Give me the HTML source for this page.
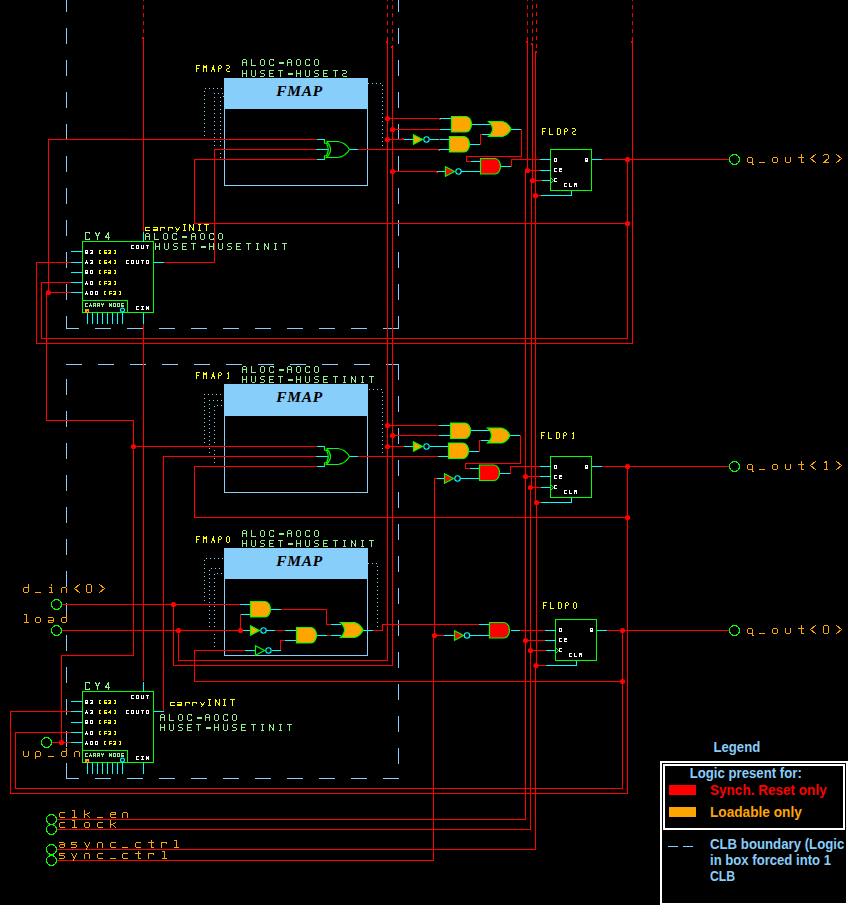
<!DOCTYPE html>
<html><head><meta charset="utf-8"><title>schematic</title>
<style>
html,body{margin:0;padding:0;background:#000;}
body{width:848px;height:905px;overflow:hidden;position:relative;font-family:"Liberation Sans",sans-serif;}
svg{position:absolute;left:0;top:0;display:block;}
.leg text{font-family:"Liberation Sans",sans-serif;font-weight:bold;font-size:14px;}
.fm text{font-family:"Liberation Serif",serif;font-weight:bold;font-style:italic;font-size:15.5px;fill:#000;letter-spacing:0.7px;}
</style></head><body>
<svg width="848" height="905" viewBox="0 0 848 905">
<rect width="848" height="905" fill="#000"/>
<g shape-rendering="crispEdges" fill="none" stroke-width="1">
<line x1="66.5" y1="-4" x2="66.5" y2="12" stroke="#87cefa" stroke-width="1"/>
<line x1="66.5" y1="28" x2="66.5" y2="44" stroke="#87cefa" stroke-width="1"/>
<line x1="66.5" y1="60" x2="66.5" y2="76" stroke="#87cefa" stroke-width="1"/>
<line x1="66.5" y1="92" x2="66.5" y2="108" stroke="#87cefa" stroke-width="1"/>
<line x1="66.5" y1="124" x2="66.5" y2="140" stroke="#87cefa" stroke-width="1"/>
<line x1="66.5" y1="156" x2="66.5" y2="172" stroke="#87cefa" stroke-width="1"/>
<line x1="66.5" y1="188" x2="66.5" y2="204" stroke="#87cefa" stroke-width="1"/>
<line x1="66.5" y1="220" x2="66.5" y2="236" stroke="#87cefa" stroke-width="1"/>
<line x1="66.5" y1="252" x2="66.5" y2="268" stroke="#87cefa" stroke-width="1"/>
<line x1="66.5" y1="284" x2="66.5" y2="300" stroke="#87cefa" stroke-width="1"/>
<line x1="66.5" y1="316" x2="66.5" y2="329" stroke="#87cefa" stroke-width="1"/>
<line x1="398.5" y1="-4" x2="398.5" y2="12" stroke="#87cefa" stroke-width="1"/>
<line x1="398.5" y1="28" x2="398.5" y2="44" stroke="#87cefa" stroke-width="1"/>
<line x1="398.5" y1="60" x2="398.5" y2="76" stroke="#87cefa" stroke-width="1"/>
<line x1="398.5" y1="92" x2="398.5" y2="108" stroke="#87cefa" stroke-width="1"/>
<line x1="398.5" y1="124" x2="398.5" y2="140" stroke="#87cefa" stroke-width="1"/>
<line x1="398.5" y1="156" x2="398.5" y2="172" stroke="#87cefa" stroke-width="1"/>
<line x1="398.5" y1="188" x2="398.5" y2="204" stroke="#87cefa" stroke-width="1"/>
<line x1="398.5" y1="220" x2="398.5" y2="236" stroke="#87cefa" stroke-width="1"/>
<line x1="398.5" y1="252" x2="398.5" y2="268" stroke="#87cefa" stroke-width="1"/>
<line x1="398.5" y1="284" x2="398.5" y2="300" stroke="#87cefa" stroke-width="1"/>
<line x1="398.5" y1="316" x2="398.5" y2="329" stroke="#87cefa" stroke-width="1"/>
<line x1="66" y1="328.5" x2="79" y2="328.5" stroke="#87cefa" stroke-width="1"/>
<line x1="94.5" y1="328.5" x2="110.5" y2="328.5" stroke="#87cefa" stroke-width="1"/>
<line x1="126.5" y1="328.5" x2="142.5" y2="328.5" stroke="#87cefa" stroke-width="1"/>
<line x1="158.5" y1="328.5" x2="174.5" y2="328.5" stroke="#87cefa" stroke-width="1"/>
<line x1="190.5" y1="328.5" x2="206.5" y2="328.5" stroke="#87cefa" stroke-width="1"/>
<line x1="222.5" y1="328.5" x2="238.5" y2="328.5" stroke="#87cefa" stroke-width="1"/>
<line x1="254.5" y1="328.5" x2="270.5" y2="328.5" stroke="#87cefa" stroke-width="1"/>
<line x1="286.5" y1="328.5" x2="302.5" y2="328.5" stroke="#87cefa" stroke-width="1"/>
<line x1="318.5" y1="328.5" x2="334.5" y2="328.5" stroke="#87cefa" stroke-width="1"/>
<line x1="350.5" y1="328.5" x2="366.5" y2="328.5" stroke="#87cefa" stroke-width="1"/>
<line x1="382.5" y1="328.5" x2="398.5" y2="328.5" stroke="#87cefa" stroke-width="1"/>
<line x1="66" y1="364.5" x2="82" y2="364.5" stroke="#87cefa" stroke-width="1"/>
<line x1="98" y1="364.5" x2="114" y2="364.5" stroke="#87cefa" stroke-width="1"/>
<line x1="130" y1="364.5" x2="146" y2="364.5" stroke="#87cefa" stroke-width="1"/>
<line x1="162" y1="364.5" x2="178" y2="364.5" stroke="#87cefa" stroke-width="1"/>
<line x1="194" y1="364.5" x2="210" y2="364.5" stroke="#87cefa" stroke-width="1"/>
<line x1="226" y1="364.5" x2="242" y2="364.5" stroke="#87cefa" stroke-width="1"/>
<line x1="258" y1="364.5" x2="274" y2="364.5" stroke="#87cefa" stroke-width="1"/>
<line x1="290" y1="364.5" x2="306" y2="364.5" stroke="#87cefa" stroke-width="1"/>
<line x1="322" y1="364.5" x2="338" y2="364.5" stroke="#87cefa" stroke-width="1"/>
<line x1="354" y1="364.5" x2="370" y2="364.5" stroke="#87cefa" stroke-width="1"/>
<line x1="386" y1="364.5" x2="399" y2="364.5" stroke="#87cefa" stroke-width="1"/>
<line x1="398.5" y1="364" x2="398.5" y2="380" stroke="#87cefa" stroke-width="1"/>
<line x1="398.5" y1="396" x2="398.5" y2="412" stroke="#87cefa" stroke-width="1"/>
<line x1="398.5" y1="428" x2="398.5" y2="444" stroke="#87cefa" stroke-width="1"/>
<line x1="398.5" y1="460" x2="398.5" y2="476" stroke="#87cefa" stroke-width="1"/>
<line x1="398.5" y1="492" x2="398.5" y2="508" stroke="#87cefa" stroke-width="1"/>
<line x1="398.5" y1="524" x2="398.5" y2="540" stroke="#87cefa" stroke-width="1"/>
<line x1="398.5" y1="556" x2="398.5" y2="572" stroke="#87cefa" stroke-width="1"/>
<line x1="398.5" y1="588" x2="398.5" y2="604" stroke="#87cefa" stroke-width="1"/>
<line x1="398.5" y1="620" x2="398.5" y2="636" stroke="#87cefa" stroke-width="1"/>
<line x1="398.5" y1="652" x2="398.5" y2="668" stroke="#87cefa" stroke-width="1"/>
<line x1="398.5" y1="684" x2="398.5" y2="700" stroke="#87cefa" stroke-width="1"/>
<line x1="398.5" y1="716" x2="398.5" y2="732" stroke="#87cefa" stroke-width="1"/>
<line x1="398.5" y1="748" x2="398.5" y2="764" stroke="#87cefa" stroke-width="1"/>
<line x1="66" y1="778.5" x2="79" y2="778.5" stroke="#87cefa" stroke-width="1"/>
<line x1="94.5" y1="778.5" x2="110.5" y2="778.5" stroke="#87cefa" stroke-width="1"/>
<line x1="126.5" y1="778.5" x2="142.5" y2="778.5" stroke="#87cefa" stroke-width="1"/>
<line x1="158.5" y1="778.5" x2="174.5" y2="778.5" stroke="#87cefa" stroke-width="1"/>
<line x1="190.5" y1="778.5" x2="206.5" y2="778.5" stroke="#87cefa" stroke-width="1"/>
<line x1="222.5" y1="778.5" x2="238.5" y2="778.5" stroke="#87cefa" stroke-width="1"/>
<line x1="254.5" y1="778.5" x2="270.5" y2="778.5" stroke="#87cefa" stroke-width="1"/>
<line x1="286.5" y1="778.5" x2="302.5" y2="778.5" stroke="#87cefa" stroke-width="1"/>
<line x1="318.5" y1="778.5" x2="334.5" y2="778.5" stroke="#87cefa" stroke-width="1"/>
<line x1="350.5" y1="778.5" x2="366.5" y2="778.5" stroke="#87cefa" stroke-width="1"/>
<line x1="382.5" y1="778.5" x2="398.5" y2="778.5" stroke="#87cefa" stroke-width="1"/>
<line x1="66.5" y1="762.5" x2="66.5" y2="778.5" stroke="#87cefa" stroke-width="1"/>
<line x1="66.5" y1="730.5" x2="66.5" y2="746.5" stroke="#87cefa" stroke-width="1"/>
<line x1="66.5" y1="698.5" x2="66.5" y2="714.5" stroke="#87cefa" stroke-width="1"/>
<line x1="66.5" y1="666.5" x2="66.5" y2="682.5" stroke="#87cefa" stroke-width="1"/>
<line x1="66.5" y1="634.5" x2="66.5" y2="650.5" stroke="#87cefa" stroke-width="1"/>
<line x1="66.5" y1="602.5" x2="66.5" y2="618.5" stroke="#87cefa" stroke-width="1"/>
<line x1="66.5" y1="570.5" x2="66.5" y2="586.5" stroke="#87cefa" stroke-width="1"/>
<line x1="66.5" y1="538.5" x2="66.5" y2="554.5" stroke="#87cefa" stroke-width="1"/>
<line x1="66.5" y1="506.5" x2="66.5" y2="522.5" stroke="#87cefa" stroke-width="1"/>
<line x1="66.5" y1="474.5" x2="66.5" y2="490.5" stroke="#87cefa" stroke-width="1"/>
<line x1="66.5" y1="442.5" x2="66.5" y2="458.5" stroke="#87cefa" stroke-width="1"/>
<line x1="66.5" y1="410.5" x2="66.5" y2="426.5" stroke="#87cefa" stroke-width="1"/>
<line x1="66.5" y1="378.5" x2="66.5" y2="394.5" stroke="#87cefa" stroke-width="1"/>
<rect x="224" y="78" width="144" height="31" fill="#87cefa"/>
<rect x="224.5" y="78.5" width="143" height="107" fill="none" stroke="#87cefa" stroke-width="1"/>
<rect x="224" y="384" width="144" height="32" fill="#87cefa"/>
<rect x="224.5" y="384.5" width="143" height="108" fill="none" stroke="#87cefa" stroke-width="1"/>
<rect x="224" y="548" width="144" height="31" fill="#87cefa"/>
<rect x="224.5" y="548.5" width="143" height="107" fill="none" stroke="#87cefa" stroke-width="1"/>
<rect x="205" y="88" width="1" height="1" fill="#87cefa"/>
<rect x="209" y="88" width="1" height="1" fill="#87cefa"/>
<rect x="213" y="88" width="1" height="1" fill="#87cefa"/>
<rect x="217" y="88" width="1" height="1" fill="#87cefa"/>
<rect x="221" y="88" width="1" height="1" fill="#87cefa"/>
<rect x="204" y="91" width="1" height="1" fill="#87cefa"/>
<rect x="204" y="95" width="1" height="1" fill="#87cefa"/>
<rect x="204" y="99" width="1" height="1" fill="#87cefa"/>
<rect x="204" y="103" width="1" height="1" fill="#87cefa"/>
<rect x="204" y="107" width="1" height="1" fill="#87cefa"/>
<rect x="204" y="111" width="1" height="1" fill="#87cefa"/>
<rect x="204" y="115" width="1" height="1" fill="#87cefa"/>
<rect x="204" y="119" width="1" height="1" fill="#87cefa"/>
<rect x="204" y="123" width="1" height="1" fill="#87cefa"/>
<rect x="204" y="127" width="1" height="1" fill="#87cefa"/>
<rect x="204" y="131" width="1" height="1" fill="#87cefa"/>
<rect x="204" y="135" width="1" height="1" fill="#87cefa"/>
<rect x="204" y="139" width="1" height="1" fill="#87cefa"/>
<rect x="214" y="93" width="1" height="1" fill="#87cefa"/>
<rect x="218" y="93" width="1" height="1" fill="#87cefa"/>
<rect x="222" y="93" width="1" height="1" fill="#87cefa"/>
<rect x="214" y="97" width="1" height="1" fill="#87cefa"/>
<rect x="214" y="101" width="1" height="1" fill="#87cefa"/>
<rect x="214" y="105" width="1" height="1" fill="#87cefa"/>
<rect x="214" y="109" width="1" height="1" fill="#87cefa"/>
<rect x="214" y="113" width="1" height="1" fill="#87cefa"/>
<rect x="214" y="117" width="1" height="1" fill="#87cefa"/>
<rect x="214" y="121" width="1" height="1" fill="#87cefa"/>
<rect x="214" y="125" width="1" height="1" fill="#87cefa"/>
<rect x="214" y="129" width="1" height="1" fill="#87cefa"/>
<rect x="214" y="133" width="1" height="1" fill="#87cefa"/>
<rect x="214" y="137" width="1" height="1" fill="#87cefa"/>
<rect x="214" y="141" width="1" height="1" fill="#87cefa"/>
<rect x="214" y="145" width="1" height="1" fill="#87cefa"/>
<rect x="214" y="149" width="1" height="1" fill="#87cefa"/>
<rect x="223" y="96" width="1" height="1" fill="#87cefa"/>
<rect x="220" y="97" width="1" height="1" fill="#87cefa"/>
<rect x="220" y="101" width="1" height="1" fill="#87cefa"/>
<rect x="220" y="105" width="1" height="1" fill="#87cefa"/>
<rect x="220" y="109" width="1" height="1" fill="#87cefa"/>
<rect x="220" y="113" width="1" height="1" fill="#87cefa"/>
<rect x="220" y="117" width="1" height="1" fill="#87cefa"/>
<rect x="220" y="121" width="1" height="1" fill="#87cefa"/>
<rect x="220" y="125" width="1" height="1" fill="#87cefa"/>
<rect x="220" y="129" width="1" height="1" fill="#87cefa"/>
<rect x="220" y="133" width="1" height="1" fill="#87cefa"/>
<rect x="220" y="137" width="1" height="1" fill="#87cefa"/>
<rect x="220" y="141" width="1" height="1" fill="#87cefa"/>
<rect x="220" y="145" width="1" height="1" fill="#87cefa"/>
<rect x="220" y="149" width="1" height="1" fill="#87cefa"/>
<rect x="220" y="153" width="1" height="1" fill="#87cefa"/>
<rect x="220" y="157" width="1" height="1" fill="#87cefa"/>
<rect x="368" y="83" width="1" height="1" fill="#87cefa"/>
<rect x="372" y="83" width="1" height="1" fill="#87cefa"/>
<rect x="376" y="83" width="1" height="1" fill="#87cefa"/>
<rect x="380" y="83" width="1" height="1" fill="#87cefa"/>
<rect x="382" y="85" width="1" height="1" fill="#87cefa"/>
<rect x="382" y="89" width="1" height="1" fill="#87cefa"/>
<rect x="382" y="93" width="1" height="1" fill="#87cefa"/>
<rect x="382" y="97" width="1" height="1" fill="#87cefa"/>
<rect x="382" y="101" width="1" height="1" fill="#87cefa"/>
<rect x="382" y="105" width="1" height="1" fill="#87cefa"/>
<rect x="382" y="109" width="1" height="1" fill="#87cefa"/>
<rect x="382" y="113" width="1" height="1" fill="#87cefa"/>
<rect x="382" y="117" width="1" height="1" fill="#87cefa"/>
<rect x="382" y="121" width="1" height="1" fill="#87cefa"/>
<rect x="382" y="125" width="1" height="1" fill="#87cefa"/>
<rect x="382" y="129" width="1" height="1" fill="#87cefa"/>
<rect x="382" y="133" width="1" height="1" fill="#87cefa"/>
<rect x="382" y="137" width="1" height="1" fill="#87cefa"/>
<rect x="382" y="141" width="1" height="1" fill="#87cefa"/>
<rect x="382" y="145" width="1" height="1" fill="#87cefa"/>
<rect x="204" y="394" width="1" height="1" fill="#87cefa"/>
<rect x="208" y="394" width="1" height="1" fill="#87cefa"/>
<rect x="212" y="394" width="1" height="1" fill="#87cefa"/>
<rect x="216" y="394" width="1" height="1" fill="#87cefa"/>
<rect x="220" y="394" width="1" height="1" fill="#87cefa"/>
<rect x="204" y="398" width="1" height="1" fill="#87cefa"/>
<rect x="204" y="402" width="1" height="1" fill="#87cefa"/>
<rect x="204" y="406" width="1" height="1" fill="#87cefa"/>
<rect x="204" y="410" width="1" height="1" fill="#87cefa"/>
<rect x="204" y="414" width="1" height="1" fill="#87cefa"/>
<rect x="204" y="418" width="1" height="1" fill="#87cefa"/>
<rect x="204" y="422" width="1" height="1" fill="#87cefa"/>
<rect x="204" y="426" width="1" height="1" fill="#87cefa"/>
<rect x="204" y="430" width="1" height="1" fill="#87cefa"/>
<rect x="204" y="434" width="1" height="1" fill="#87cefa"/>
<rect x="204" y="438" width="1" height="1" fill="#87cefa"/>
<rect x="204" y="442" width="1" height="1" fill="#87cefa"/>
<rect x="204" y="446" width="1" height="1" fill="#87cefa"/>
<rect x="209" y="400" width="1" height="1" fill="#87cefa"/>
<rect x="213" y="400" width="1" height="1" fill="#87cefa"/>
<rect x="217" y="400" width="1" height="1" fill="#87cefa"/>
<rect x="221" y="400" width="1" height="1" fill="#87cefa"/>
<rect x="209" y="404" width="1" height="1" fill="#87cefa"/>
<rect x="209" y="408" width="1" height="1" fill="#87cefa"/>
<rect x="209" y="412" width="1" height="1" fill="#87cefa"/>
<rect x="209" y="416" width="1" height="1" fill="#87cefa"/>
<rect x="209" y="420" width="1" height="1" fill="#87cefa"/>
<rect x="209" y="424" width="1" height="1" fill="#87cefa"/>
<rect x="209" y="428" width="1" height="1" fill="#87cefa"/>
<rect x="209" y="432" width="1" height="1" fill="#87cefa"/>
<rect x="209" y="436" width="1" height="1" fill="#87cefa"/>
<rect x="209" y="440" width="1" height="1" fill="#87cefa"/>
<rect x="209" y="444" width="1" height="1" fill="#87cefa"/>
<rect x="209" y="448" width="1" height="1" fill="#87cefa"/>
<rect x="209" y="452" width="1" height="1" fill="#87cefa"/>
<rect x="209" y="456" width="1" height="1" fill="#87cefa"/>
<rect x="217" y="405" width="1" height="1" fill="#87cefa"/>
<rect x="221" y="405" width="1" height="1" fill="#87cefa"/>
<rect x="214" y="406" width="1" height="1" fill="#87cefa"/>
<rect x="214" y="410" width="1" height="1" fill="#87cefa"/>
<rect x="214" y="414" width="1" height="1" fill="#87cefa"/>
<rect x="214" y="418" width="1" height="1" fill="#87cefa"/>
<rect x="214" y="422" width="1" height="1" fill="#87cefa"/>
<rect x="214" y="426" width="1" height="1" fill="#87cefa"/>
<rect x="214" y="430" width="1" height="1" fill="#87cefa"/>
<rect x="214" y="434" width="1" height="1" fill="#87cefa"/>
<rect x="214" y="438" width="1" height="1" fill="#87cefa"/>
<rect x="214" y="442" width="1" height="1" fill="#87cefa"/>
<rect x="214" y="446" width="1" height="1" fill="#87cefa"/>
<rect x="214" y="450" width="1" height="1" fill="#87cefa"/>
<rect x="214" y="454" width="1" height="1" fill="#87cefa"/>
<rect x="214" y="458" width="1" height="1" fill="#87cefa"/>
<rect x="214" y="462" width="1" height="1" fill="#87cefa"/>
<rect x="369" y="389" width="1" height="1" fill="#87cefa"/>
<rect x="373" y="389" width="1" height="1" fill="#87cefa"/>
<rect x="377" y="389" width="1" height="1" fill="#87cefa"/>
<rect x="381" y="389" width="1" height="1" fill="#87cefa"/>
<rect x="382" y="392" width="1" height="1" fill="#87cefa"/>
<rect x="382" y="396" width="1" height="1" fill="#87cefa"/>
<rect x="382" y="400" width="1" height="1" fill="#87cefa"/>
<rect x="382" y="404" width="1" height="1" fill="#87cefa"/>
<rect x="382" y="408" width="1" height="1" fill="#87cefa"/>
<rect x="382" y="412" width="1" height="1" fill="#87cefa"/>
<rect x="382" y="416" width="1" height="1" fill="#87cefa"/>
<rect x="382" y="420" width="1" height="1" fill="#87cefa"/>
<rect x="382" y="424" width="1" height="1" fill="#87cefa"/>
<rect x="382" y="428" width="1" height="1" fill="#87cefa"/>
<rect x="382" y="432" width="1" height="1" fill="#87cefa"/>
<rect x="382" y="436" width="1" height="1" fill="#87cefa"/>
<rect x="382" y="440" width="1" height="1" fill="#87cefa"/>
<rect x="382" y="444" width="1" height="1" fill="#87cefa"/>
<rect x="382" y="448" width="1" height="1" fill="#87cefa"/>
<rect x="382" y="452" width="1" height="1" fill="#87cefa"/>
<rect x="382" y="456" width="1" height="1" fill="#87cefa"/>
<rect x="206" y="558" width="1" height="1" fill="#87cefa"/>
<rect x="210" y="558" width="1" height="1" fill="#87cefa"/>
<rect x="214" y="558" width="1" height="1" fill="#87cefa"/>
<rect x="218" y="558" width="1" height="1" fill="#87cefa"/>
<rect x="222" y="558" width="1" height="1" fill="#87cefa"/>
<rect x="204" y="560" width="1" height="1" fill="#87cefa"/>
<rect x="204" y="564" width="1" height="1" fill="#87cefa"/>
<rect x="204" y="568" width="1" height="1" fill="#87cefa"/>
<rect x="204" y="572" width="1" height="1" fill="#87cefa"/>
<rect x="204" y="576" width="1" height="1" fill="#87cefa"/>
<rect x="204" y="580" width="1" height="1" fill="#87cefa"/>
<rect x="204" y="584" width="1" height="1" fill="#87cefa"/>
<rect x="204" y="588" width="1" height="1" fill="#87cefa"/>
<rect x="204" y="592" width="1" height="1" fill="#87cefa"/>
<rect x="204" y="596" width="1" height="1" fill="#87cefa"/>
<rect x="204" y="600" width="1" height="1" fill="#87cefa"/>
<rect x="204" y="604" width="1" height="1" fill="#87cefa"/>
<rect x="211" y="568" width="1" height="1" fill="#87cefa"/>
<rect x="215" y="568" width="1" height="1" fill="#87cefa"/>
<rect x="219" y="568" width="1" height="1" fill="#87cefa"/>
<rect x="209" y="570" width="1" height="1" fill="#87cefa"/>
<rect x="209" y="574" width="1" height="1" fill="#87cefa"/>
<rect x="209" y="578" width="1" height="1" fill="#87cefa"/>
<rect x="209" y="582" width="1" height="1" fill="#87cefa"/>
<rect x="209" y="586" width="1" height="1" fill="#87cefa"/>
<rect x="209" y="590" width="1" height="1" fill="#87cefa"/>
<rect x="209" y="594" width="1" height="1" fill="#87cefa"/>
<rect x="209" y="598" width="1" height="1" fill="#87cefa"/>
<rect x="209" y="602" width="1" height="1" fill="#87cefa"/>
<rect x="209" y="606" width="1" height="1" fill="#87cefa"/>
<rect x="209" y="610" width="1" height="1" fill="#87cefa"/>
<rect x="209" y="614" width="1" height="1" fill="#87cefa"/>
<rect x="209" y="618" width="1" height="1" fill="#87cefa"/>
<rect x="209" y="622" width="1" height="1" fill="#87cefa"/>
<rect x="209" y="626" width="1" height="1" fill="#87cefa"/>
<rect x="217" y="573" width="1" height="1" fill="#87cefa"/>
<rect x="221" y="573" width="1" height="1" fill="#87cefa"/>
<rect x="214" y="574" width="1" height="1" fill="#87cefa"/>
<rect x="214" y="578" width="1" height="1" fill="#87cefa"/>
<rect x="214" y="582" width="1" height="1" fill="#87cefa"/>
<rect x="214" y="586" width="1" height="1" fill="#87cefa"/>
<rect x="214" y="590" width="1" height="1" fill="#87cefa"/>
<rect x="214" y="594" width="1" height="1" fill="#87cefa"/>
<rect x="214" y="598" width="1" height="1" fill="#87cefa"/>
<rect x="214" y="602" width="1" height="1" fill="#87cefa"/>
<rect x="214" y="606" width="1" height="1" fill="#87cefa"/>
<rect x="214" y="610" width="1" height="1" fill="#87cefa"/>
<rect x="214" y="614" width="1" height="1" fill="#87cefa"/>
<rect x="214" y="618" width="1" height="1" fill="#87cefa"/>
<rect x="214" y="622" width="1" height="1" fill="#87cefa"/>
<rect x="214" y="626" width="1" height="1" fill="#87cefa"/>
<rect x="214" y="630" width="1" height="1" fill="#87cefa"/>
<rect x="214" y="634" width="1" height="1" fill="#87cefa"/>
<rect x="214" y="638" width="1" height="1" fill="#87cefa"/>
<rect x="214" y="642" width="1" height="1" fill="#87cefa"/>
<rect x="214" y="646" width="1" height="1" fill="#87cefa"/>
<rect x="368" y="563" width="1" height="1" fill="#87cefa"/>
<rect x="372" y="563" width="1" height="1" fill="#87cefa"/>
<rect x="376" y="563" width="1" height="1" fill="#87cefa"/>
<rect x="377" y="566" width="1" height="1" fill="#87cefa"/>
<rect x="377" y="570" width="1" height="1" fill="#87cefa"/>
<rect x="377" y="574" width="1" height="1" fill="#87cefa"/>
<rect x="377" y="578" width="1" height="1" fill="#87cefa"/>
<rect x="377" y="582" width="1" height="1" fill="#87cefa"/>
<rect x="377" y="586" width="1" height="1" fill="#87cefa"/>
<rect x="377" y="590" width="1" height="1" fill="#87cefa"/>
<rect x="377" y="594" width="1" height="1" fill="#87cefa"/>
<rect x="377" y="598" width="1" height="1" fill="#87cefa"/>
<rect x="377" y="602" width="1" height="1" fill="#87cefa"/>
<rect x="377" y="606" width="1" height="1" fill="#87cefa"/>
<rect x="377" y="610" width="1" height="1" fill="#87cefa"/>
<rect x="377" y="614" width="1" height="1" fill="#87cefa"/>
<rect x="377" y="618" width="1" height="1" fill="#87cefa"/>
<rect x="377" y="622" width="1" height="1" fill="#87cefa"/>
<rect x="377" y="626" width="1" height="1" fill="#87cefa"/>
<rect x="377" y="630" width="1" height="1" fill="#87cefa"/>
<g stroke-linecap="square">
<line x1="143.5" y1="0" x2="143.5" y2="1" stroke="#ff0000" stroke-linecap="butt"/>
<line x1="143.5" y1="5" x2="143.5" y2="9" stroke="#ff0000" stroke-linecap="butt"/>
<line x1="143.5" y1="13" x2="143.5" y2="17" stroke="#ff0000" stroke-linecap="butt"/>
<line x1="143.5" y1="21" x2="143.5" y2="25" stroke="#ff0000" stroke-linecap="butt"/>
<line x1="143.5" y1="29" x2="143.5" y2="33" stroke="#ff0000" stroke-linecap="butt"/>
<line x1="143.5" y1="37" x2="143.5" y2="231" stroke="#ff0000" stroke-width="1"/>
<line x1="387.5" y1="0" x2="387.5" y2="1" stroke="#ff0000" stroke-linecap="butt"/>
<line x1="387.5" y1="5" x2="387.5" y2="9" stroke="#ff0000" stroke-linecap="butt"/>
<line x1="387.5" y1="13" x2="387.5" y2="17" stroke="#ff0000" stroke-linecap="butt"/>
<line x1="387.5" y1="21" x2="387.5" y2="25" stroke="#ff0000" stroke-linecap="butt"/>
<line x1="387.5" y1="29" x2="387.5" y2="33" stroke="#ff0000" stroke-linecap="butt"/>
<line x1="387.5" y1="37" x2="387.5" y2="41" stroke="#ff0000" stroke-linecap="butt"/>
<line x1="387.5" y1="41" x2="387.5" y2="660.5" stroke="#ff0000" stroke-width="1"/>
<line x1="392.5" y1="0" x2="392.5" y2="1" stroke="#ff0000" stroke-linecap="butt"/>
<line x1="392.5" y1="5" x2="392.5" y2="9" stroke="#ff0000" stroke-linecap="butt"/>
<line x1="392.5" y1="13" x2="392.5" y2="17" stroke="#ff0000" stroke-linecap="butt"/>
<line x1="392.5" y1="21" x2="392.5" y2="25" stroke="#ff0000" stroke-linecap="butt"/>
<line x1="392.5" y1="29" x2="392.5" y2="33" stroke="#ff0000" stroke-linecap="butt"/>
<line x1="392.5" y1="37" x2="392.5" y2="41" stroke="#ff0000" stroke-linecap="butt"/>
<line x1="392.5" y1="45" x2="392.5" y2="46" stroke="#ff0000" stroke-linecap="butt"/>
<line x1="392.5" y1="46" x2="392.5" y2="665.5" stroke="#ff0000" stroke-width="1"/>
<line x1="527.5" y1="0" x2="527.5" y2="1" stroke="#ff0000" stroke-linecap="butt"/>
<line x1="527.5" y1="5" x2="527.5" y2="9" stroke="#ff0000" stroke-linecap="butt"/>
<line x1="527.5" y1="13" x2="527.5" y2="17" stroke="#ff0000" stroke-linecap="butt"/>
<line x1="527.5" y1="21" x2="527.5" y2="25" stroke="#ff0000" stroke-linecap="butt"/>
<line x1="527.5" y1="29" x2="527.5" y2="33" stroke="#ff0000" stroke-linecap="butt"/>
<line x1="527.5" y1="37" x2="527.5" y2="41" stroke="#ff0000" stroke-linecap="butt"/>
<line x1="527.5" y1="41" x2="527.5" y2="170.5" stroke="#ff0000" stroke-width="1"/>
<line x1="525.5" y1="170.5" x2="525.5" y2="819.5" stroke="#ff0000" stroke-width="1"/>
<line x1="532.5" y1="0" x2="532.5" y2="1" stroke="#ff0000" stroke-linecap="butt"/>
<line x1="532.5" y1="5" x2="532.5" y2="9" stroke="#ff0000" stroke-linecap="butt"/>
<line x1="532.5" y1="13" x2="532.5" y2="17" stroke="#ff0000" stroke-linecap="butt"/>
<line x1="532.5" y1="21" x2="532.5" y2="25" stroke="#ff0000" stroke-linecap="butt"/>
<line x1="532.5" y1="29" x2="532.5" y2="33" stroke="#ff0000" stroke-linecap="butt"/>
<line x1="532.5" y1="37" x2="532.5" y2="41" stroke="#ff0000" stroke-linecap="butt"/>
<line x1="532.5" y1="43" x2="532.5" y2="180.5" stroke="#ff0000" stroke-width="1"/>
<line x1="531.5" y1="180.5" x2="531.5" y2="487.5" stroke="#ff0000" stroke-width="1"/>
<line x1="530.5" y1="487.5" x2="530.5" y2="829.5" stroke="#ff0000" stroke-width="1"/>
<line x1="536.5" y1="4" x2="536.5" y2="8" stroke="#ff0000" stroke-linecap="butt"/>
<line x1="536.5" y1="12" x2="536.5" y2="16" stroke="#ff0000" stroke-linecap="butt"/>
<line x1="536.5" y1="20" x2="536.5" y2="24" stroke="#ff0000" stroke-linecap="butt"/>
<line x1="536.5" y1="28" x2="536.5" y2="32" stroke="#ff0000" stroke-linecap="butt"/>
<line x1="536.5" y1="36" x2="536.5" y2="40" stroke="#ff0000" stroke-linecap="butt"/>
<line x1="536.5" y1="44" x2="536.5" y2="48" stroke="#ff0000" stroke-linecap="butt"/>
<line x1="535.5" y1="51" x2="535.5" y2="502.5" stroke="#ff0000" stroke-width="1"/>
<line x1="536.5" y1="502.5" x2="536.5" y2="665.5" stroke="#ff0000" stroke-width="1"/>
<line x1="535.5" y1="665.5" x2="535.5" y2="849.5" stroke="#ff0000" stroke-width="1"/>
<line x1="632.5" y1="0" x2="632.5" y2="1" stroke="#ff0000" stroke-linecap="butt"/>
<line x1="632.5" y1="5" x2="632.5" y2="9" stroke="#ff0000" stroke-linecap="butt"/>
<line x1="632.5" y1="13" x2="632.5" y2="17" stroke="#ff0000" stroke-linecap="butt"/>
<line x1="632.5" y1="21" x2="632.5" y2="25" stroke="#ff0000" stroke-linecap="butt"/>
<line x1="632.5" y1="29" x2="632.5" y2="33" stroke="#ff0000" stroke-linecap="butt"/>
<line x1="632.5" y1="37" x2="632.5" y2="41" stroke="#ff0000" stroke-linecap="butt"/>
<line x1="632.5" y1="41" x2="632.5" y2="343.5" stroke="#ff0000" stroke-width="1"/>
<rect x="142" y="37" width="2" height="2" fill="#ff0000"/>
<rect x="386" y="41" width="2" height="2" fill="#ff0000"/>
<rect x="391" y="46" width="2" height="2" fill="#ff0000"/>
<rect x="526" y="41" width="2" height="2" fill="#ff0000"/>
<rect x="531" y="43" width="2" height="2" fill="#ff0000"/>
<rect x="535" y="51" width="2" height="2" fill="#ff0000"/>
<rect x="631" y="41" width="2" height="2" fill="#ff0000"/>
<line x1="48.5" y1="139.5" x2="316.5" y2="139.5" stroke="#ff0000" stroke-width="1"/>
<line x1="48.5" y1="139.5" x2="48.5" y2="292.5" stroke="#ff0000" stroke-width="1"/>
<line x1="48.5" y1="292.5" x2="70.5" y2="292.5" stroke="#ff0000" stroke-width="1"/>
<line x1="46.5" y1="292.5" x2="46.5" y2="420.5" stroke="#ff0000" stroke-width="1"/>
<line x1="46.5" y1="420.5" x2="133.5" y2="420.5" stroke="#ff0000" stroke-width="1"/>
<line x1="133.5" y1="420.5" x2="133.5" y2="655.5" stroke="#ff0000" stroke-width="1"/>
<line x1="61.5" y1="655.5" x2="133.5" y2="655.5" stroke="#ff0000" stroke-width="1"/>
<line x1="61.5" y1="655.5" x2="61.5" y2="742.5" stroke="#ff0000" stroke-width="1"/>
<line x1="133.5" y1="446.5" x2="316.5" y2="446.5" stroke="#ff0000" stroke-width="1"/>
<line x1="51.5" y1="742.5" x2="70.5" y2="742.5" stroke="#ff0000" stroke-width="1"/>
<line x1="164.5" y1="262.5" x2="214.5" y2="262.5" stroke="#ff0000" stroke-width="1"/>
<line x1="214.5" y1="149.5" x2="214.5" y2="262.5" stroke="#ff0000" stroke-width="1"/>
<line x1="214.5" y1="149.5" x2="315.5" y2="149.5" stroke="#ff0000" stroke-width="1"/>
<line x1="194.5" y1="159.5" x2="316.5" y2="159.5" stroke="#ff0000" stroke-width="1"/>
<line x1="194.5" y1="159.5" x2="194.5" y2="223.5" stroke="#ff0000" stroke-width="1"/>
<line x1="194.5" y1="223.5" x2="627.5" y2="223.5" stroke="#ff0000" stroke-width="1"/>
<line x1="627.5" y1="159.5" x2="627.5" y2="338.5" stroke="#ff0000" stroke-width="1"/>
<line x1="41.5" y1="338.5" x2="627.5" y2="338.5" stroke="#ff0000" stroke-width="1"/>
<line x1="41.5" y1="282.5" x2="41.5" y2="338.5" stroke="#ff0000" stroke-width="1"/>
<line x1="41.5" y1="282.5" x2="71.5" y2="282.5" stroke="#ff0000" stroke-width="1"/>
<line x1="36.5" y1="262.5" x2="70.5" y2="262.5" stroke="#ff0000" stroke-width="1"/>
<line x1="36.5" y1="262.5" x2="36.5" y2="343.5" stroke="#ff0000" stroke-width="1"/>
<line x1="36.5" y1="343.5" x2="632.5" y2="343.5" stroke="#ff0000" stroke-width="1"/>
<line x1="143.5" y1="324" x2="143.5" y2="680.5" stroke="#ff0000" stroke-width="1"/>
<line x1="163.5" y1="456.5" x2="163.5" y2="711.5" stroke="#ff0000" stroke-width="1"/>
<line x1="163.5" y1="456.5" x2="315.5" y2="456.5" stroke="#ff0000" stroke-width="1"/>
<line x1="194.5" y1="466.5" x2="316.5" y2="466.5" stroke="#ff0000" stroke-width="1"/>
<line x1="194.5" y1="466.5" x2="194.5" y2="517.5" stroke="#ff0000" stroke-width="1"/>
<line x1="194.5" y1="517.5" x2="627.5" y2="517.5" stroke="#ff0000" stroke-width="1"/>
<line x1="627.5" y1="466.5" x2="627.5" y2="793.5" stroke="#ff0000" stroke-width="1"/>
<line x1="10.5" y1="793.5" x2="627.5" y2="793.5" stroke="#ff0000" stroke-width="1"/>
<line x1="10.5" y1="711.5" x2="10.5" y2="793.5" stroke="#ff0000" stroke-width="1"/>
<line x1="10.5" y1="711.5" x2="70.5" y2="711.5" stroke="#ff0000" stroke-width="1"/>
<line x1="194.5" y1="650.5" x2="244.5" y2="650.5" stroke="#ff0000" stroke-width="1"/>
<line x1="194.5" y1="650.5" x2="194.5" y2="681.5" stroke="#ff0000" stroke-width="1"/>
<line x1="194.5" y1="681.5" x2="622.5" y2="681.5" stroke="#ff0000" stroke-width="1"/>
<line x1="622.5" y1="630.5" x2="622.5" y2="788.5" stroke="#ff0000" stroke-width="1"/>
<line x1="15.5" y1="788.5" x2="622.5" y2="788.5" stroke="#ff0000" stroke-width="1"/>
<line x1="15.5" y1="732.5" x2="15.5" y2="788.5" stroke="#ff0000" stroke-width="1"/>
<line x1="15.5" y1="732.5" x2="70.5" y2="732.5" stroke="#ff0000" stroke-width="1"/>
<line x1="62.5" y1="604.5" x2="239.5" y2="604.5" stroke="#ff0000" stroke-width="1"/>
<line x1="173.5" y1="604.5" x2="173.5" y2="665.5" stroke="#ff0000" stroke-width="1"/>
<line x1="173.5" y1="665.5" x2="392.5" y2="665.5" stroke="#ff0000" stroke-width="1"/>
<line x1="62.5" y1="630.5" x2="242.5" y2="630.5" stroke="#ff0000" stroke-width="1"/>
<line x1="178.5" y1="630.5" x2="178.5" y2="660.5" stroke="#ff0000" stroke-width="1"/>
<line x1="178.5" y1="660.5" x2="387.5" y2="660.5" stroke="#ff0000" stroke-width="1"/>
<line x1="240.5" y1="614.5" x2="240.5" y2="630.5" stroke="#ff0000" stroke-width="1"/>
<line x1="57.5" y1="819.5" x2="525.5" y2="819.5" stroke="#ff0000" stroke-width="1"/>
<line x1="57.5" y1="829.5" x2="530.5" y2="829.5" stroke="#ff0000" stroke-width="1"/>
<line x1="57.5" y1="849.5" x2="535.5" y2="849.5" stroke="#ff0000" stroke-width="1"/>
<line x1="57.5" y1="860.5" x2="433.5" y2="860.5" stroke="#ff0000" stroke-width="1"/>
<line x1="433.5" y1="635.5" x2="433.5" y2="860.5" stroke="#ff0000" stroke-width="1"/>
<line x1="434.5" y1="478.5" x2="434.5" y2="635.5" stroke="#ff0000" stroke-width="1"/>
<line x1="358.5" y1="149.5" x2="438.5" y2="149.5" stroke="#ff0000" stroke-width="1"/>
<line x1="387.5" y1="118.5" x2="439.5" y2="118.5" stroke="#ff0000" stroke-width="1"/>
<line x1="392.5" y1="129.5" x2="439.5" y2="129.5" stroke="#ff0000" stroke-width="1"/>
<line x1="387.5" y1="139.5" x2="403.5" y2="139.5" stroke="#ff0000" stroke-width="1"/>
<line x1="392.5" y1="171.5" x2="436.5" y2="171.5" stroke="#ff0000" stroke-width="1"/>
<line x1="480.5" y1="134.5" x2="480.5" y2="144.5" stroke="#ff0000" stroke-width="1"/>
<line x1="480.5" y1="134.5" x2="481.5" y2="134.5" stroke="#ff0000" stroke-width="1"/>
<line x1="521.5" y1="129.5" x2="521.5" y2="156.5" stroke="#ff0000" stroke-width="1"/>
<line x1="466.5" y1="156.5" x2="521.5" y2="156.5" stroke="#ff0000" stroke-width="1"/>
<line x1="466.5" y1="156.5" x2="466.5" y2="161.5" stroke="#ff0000" stroke-width="1"/>
<line x1="466.5" y1="161.5" x2="470.5" y2="161.5" stroke="#ff0000" stroke-width="1"/>
<line x1="511.5" y1="159.5" x2="511.5" y2="166.5" stroke="#ff0000" stroke-width="1"/>
<line x1="511.5" y1="159.5" x2="540.5" y2="159.5" stroke="#ff0000" stroke-width="1"/>
<line x1="601.5" y1="159.5" x2="729" y2="159.5" stroke="#ff0000" stroke-width="1"/>
<line x1="358.5" y1="456.5" x2="437.5" y2="456.5" stroke="#ff0000" stroke-width="1"/>
<line x1="387.5" y1="425.5" x2="438.5" y2="425.5" stroke="#ff0000" stroke-width="1"/>
<line x1="392.5" y1="435.5" x2="438.5" y2="435.5" stroke="#ff0000" stroke-width="1"/>
<line x1="387.5" y1="446.5" x2="403.5" y2="446.5" stroke="#ff0000" stroke-width="1"/>
<line x1="434.5" y1="478.5" x2="436.5" y2="478.5" stroke="#ff0000" stroke-width="1"/>
<line x1="479.5" y1="440.5" x2="479.5" y2="451.5" stroke="#ff0000" stroke-width="1"/>
<line x1="479.5" y1="440.5" x2="480.5" y2="440.5" stroke="#ff0000" stroke-width="1"/>
<line x1="520.5" y1="435.5" x2="520.5" y2="463.5" stroke="#ff0000" stroke-width="1"/>
<line x1="465.5" y1="463.5" x2="520.5" y2="463.5" stroke="#ff0000" stroke-width="1"/>
<line x1="465.5" y1="463.5" x2="465.5" y2="468.5" stroke="#ff0000" stroke-width="1"/>
<line x1="465.5" y1="468.5" x2="469.5" y2="468.5" stroke="#ff0000" stroke-width="1"/>
<line x1="510.5" y1="466.5" x2="510.5" y2="473.5" stroke="#ff0000" stroke-width="1"/>
<line x1="510.5" y1="466.5" x2="540.5" y2="466.5" stroke="#ff0000" stroke-width="1"/>
<line x1="601.5" y1="466.5" x2="729" y2="466.5" stroke="#ff0000" stroke-width="1"/>
<line x1="527.5" y1="170.5" x2="540.5" y2="170.5" stroke="#ff0000" stroke-width="1"/>
<line x1="532.5" y1="180.5" x2="541.5" y2="180.5" stroke="#ff0000" stroke-width="1"/>
<line x1="535.5" y1="195.5" x2="540.5" y2="195.5" stroke="#ff0000" stroke-width="1"/>
<line x1="525.5" y1="476.5" x2="540.5" y2="476.5" stroke="#ff0000" stroke-width="1"/>
<line x1="530.5" y1="487.5" x2="540.5" y2="487.5" stroke="#ff0000" stroke-width="1"/>
<line x1="536.5" y1="502.5" x2="540.5" y2="502.5" stroke="#ff0000" stroke-width="1"/>
<line x1="525.5" y1="640.5" x2="545.5" y2="640.5" stroke="#ff0000" stroke-width="1"/>
<line x1="530.5" y1="650.5" x2="545.5" y2="650.5" stroke="#ff0000" stroke-width="1"/>
<line x1="536.5" y1="665.5" x2="545.5" y2="665.5" stroke="#ff0000" stroke-width="1"/>
<line x1="281.5" y1="609.5" x2="326.5" y2="609.5" stroke="#ff0000" stroke-width="1"/>
<line x1="326.5" y1="609.5" x2="326.5" y2="624.5" stroke="#ff0000" stroke-width="1"/>
<line x1="326.5" y1="624.5" x2="330.5" y2="624.5" stroke="#ff0000" stroke-width="1"/>
<line x1="275.5" y1="630.5" x2="284.5" y2="630.5" stroke="#ff0000" stroke-width="1"/>
<line x1="327.5" y1="635.5" x2="330.5" y2="635.5" stroke="#ff0000" stroke-width="1"/>
<line x1="280.5" y1="640.5" x2="280.5" y2="650.5" stroke="#ff0000" stroke-width="1"/>
<line x1="280.5" y1="640.5" x2="284.5" y2="640.5" stroke="#ff0000" stroke-width="1"/>
<line x1="373.5" y1="630.5" x2="382.5" y2="630.5" stroke="#ff0000" stroke-width="1"/>
<line x1="382.5" y1="624.5" x2="382.5" y2="630.5" stroke="#ff0000" stroke-width="1"/>
<line x1="382.5" y1="624.5" x2="478.5" y2="624.5" stroke="#ff0000" stroke-width="1"/>
<line x1="434.5" y1="635.5" x2="443.5" y2="635.5" stroke="#ff0000" stroke-width="1"/>
<line x1="520.5" y1="630.5" x2="545.5" y2="630.5" stroke="#ff0000" stroke-width="1"/>
<line x1="606.5" y1="630.5" x2="729" y2="630.5" stroke="#ff0000" stroke-width="1"/>
</g>
<line x1="440" y1="118.5" x2="451" y2="118.5" stroke="#00ffff" stroke-width="1"/>
<line x1="440" y1="129.5" x2="451" y2="129.5" stroke="#00ffff" stroke-width="1"/>
<line x1="404" y1="139.5" x2="413" y2="139.5" stroke="#00ffff" stroke-width="1"/>
<line x1="430" y1="139.5" x2="449" y2="139.5" stroke="#00ffff" stroke-width="1"/>
<line x1="439" y1="149.5" x2="449" y2="149.5" stroke="#00ffff" stroke-width="1"/>
<line x1="472" y1="124.5" x2="490" y2="124.5" stroke="#00ffff" stroke-width="1"/>
<line x1="470" y1="144.5" x2="480" y2="144.5" stroke="#00ffff" stroke-width="1"/>
<line x1="482" y1="134.5" x2="490" y2="134.5" stroke="#00ffff" stroke-width="1"/>
<line x1="511" y1="129.5" x2="521" y2="129.5" stroke="#00ffff" stroke-width="1"/>
<line x1="471" y1="161.5" x2="480" y2="161.5" stroke="#00ffff" stroke-width="1"/>
<line x1="437" y1="171.5" x2="445" y2="171.5" stroke="#00ffff" stroke-width="1"/>
<line x1="461" y1="171.5" x2="480" y2="171.5" stroke="#00ffff" stroke-width="1"/>
<line x1="501" y1="166.5" x2="511" y2="166.5" stroke="#00ffff" stroke-width="1"/>
<rect x="439" y="139" width="1" height="1" fill="#ff0000"/>
<rect x="402" y="138" width="2" height="2" fill="#ff0000"/>
<rect x="439" y="119" width="2" height="1" fill="#ff0000"/>
<rect x="436" y="172" width="2" height="1" fill="#ff0000"/>
<rect x="438" y="150" width="2" height="1" fill="#ff0000"/>
<line x1="317" y1="139.5" x2="324.5" y2="139.5" stroke="#00ffff" stroke-width="1"/>
<line x1="316" y1="149.5" x2="328" y2="149.5" stroke="#00ffff" stroke-width="1"/>
<line x1="317" y1="159.5" x2="324.5" y2="159.5" stroke="#00ffff" stroke-width="1"/>
<line x1="350" y1="149.5" x2="358" y2="149.5" stroke="#00ffff" stroke-width="1"/>
<line x1="439" y1="425.5" x2="450" y2="425.5" stroke="#00ffff" stroke-width="1"/>
<line x1="439" y1="435.5" x2="450" y2="435.5" stroke="#00ffff" stroke-width="1"/>
<line x1="404" y1="446.5" x2="413" y2="446.5" stroke="#00ffff" stroke-width="1"/>
<line x1="430" y1="446.5" x2="448" y2="446.5" stroke="#00ffff" stroke-width="1"/>
<line x1="438" y1="456.5" x2="448" y2="456.5" stroke="#00ffff" stroke-width="1"/>
<line x1="471" y1="430.5" x2="489" y2="430.5" stroke="#00ffff" stroke-width="1"/>
<line x1="469" y1="451.5" x2="479" y2="451.5" stroke="#00ffff" stroke-width="1"/>
<line x1="481" y1="440.5" x2="489" y2="440.5" stroke="#00ffff" stroke-width="1"/>
<line x1="510" y1="435.5" x2="520" y2="435.5" stroke="#00ffff" stroke-width="1"/>
<line x1="470" y1="468.5" x2="479" y2="468.5" stroke="#00ffff" stroke-width="1"/>
<line x1="437" y1="478.5" x2="444" y2="478.5" stroke="#00ffff" stroke-width="1"/>
<line x1="460" y1="478.5" x2="479" y2="478.5" stroke="#00ffff" stroke-width="1"/>
<line x1="500" y1="473.5" x2="510" y2="473.5" stroke="#00ffff" stroke-width="1"/>
<line x1="317" y1="446.5" x2="324.5" y2="446.5" stroke="#00ffff" stroke-width="1"/>
<line x1="316" y1="456.5" x2="328" y2="456.5" stroke="#00ffff" stroke-width="1"/>
<line x1="317" y1="466.5" x2="324.5" y2="466.5" stroke="#00ffff" stroke-width="1"/>
<line x1="350" y1="456.5" x2="358" y2="456.5" stroke="#00ffff" stroke-width="1"/>
<line x1="240" y1="604.5" x2="250" y2="604.5" stroke="#00ffff" stroke-width="1"/>
<line x1="240.5" y1="614.5" x2="250" y2="614.5" stroke="#00ffff" stroke-width="1"/>
<line x1="271" y1="609.5" x2="281" y2="609.5" stroke="#00ffff" stroke-width="1"/>
<line x1="243" y1="630.5" x2="250" y2="630.5" stroke="#00ffff" stroke-width="1"/>
<line x1="266" y1="630.5" x2="275" y2="630.5" stroke="#00ffff" stroke-width="1"/>
<line x1="285" y1="630.5" x2="296" y2="630.5" stroke="#00ffff" stroke-width="1"/>
<line x1="285" y1="640.5" x2="296" y2="640.5" stroke="#00ffff" stroke-width="1"/>
<line x1="317" y1="635.5" x2="327" y2="635.5" stroke="#00ffff" stroke-width="1"/>
<line x1="331" y1="624.5" x2="341" y2="624.5" stroke="#00ffff" stroke-width="1"/>
<line x1="331" y1="635.5" x2="341" y2="635.5" stroke="#00ffff" stroke-width="1"/>
<line x1="363" y1="630.5" x2="373" y2="630.5" stroke="#00ffff" stroke-width="1"/>
<line x1="245" y1="650.5" x2="255" y2="650.5" stroke="#00ffff" stroke-width="1"/>
<line x1="271.5" y1="650.5" x2="280.5" y2="650.5" stroke="#00ffff" stroke-width="1"/>
<line x1="479" y1="624.5" x2="489" y2="624.5" stroke="#00ffff" stroke-width="1"/>
<line x1="444" y1="635.5" x2="454" y2="635.5" stroke="#00ffff" stroke-width="1"/>
<line x1="470" y1="635.5" x2="489" y2="635.5" stroke="#00ffff" stroke-width="1"/>
<line x1="511" y1="630.5" x2="520" y2="630.5" stroke="#00ffff" stroke-width="1"/>
<rect x="550.5" y="149.5" width="41" height="41" fill="none" stroke="#00ff00" stroke-width="1.2"/>
<line x1="540" y1="159.5" x2="550.5" y2="159.5" stroke="#00ffff" stroke-width="1"/>
<line x1="540" y1="170.5" x2="550.5" y2="170.5" stroke="#00ffff" stroke-width="1"/>
<line x1="541.5" y1="180.5" x2="550.5" y2="180.5" stroke="#00ffff" stroke-width="1"/>
<line x1="591.5" y1="159.5" x2="601.5" y2="159.5" stroke="#00ffff" stroke-width="1"/>
<line x1="571.5" y1="190.5" x2="571.5" y2="195.5" stroke="#00ffff" stroke-width="1"/>
<line x1="540.5" y1="195.5" x2="571.5" y2="195.5" stroke="#00ffff" stroke-width="1"/>
<path d="M550.5,178 L553.5,180.5 L550.5,183" stroke="#00ff00" stroke-width="1" fill="none"/>
<line x1="554.5" y1="161.5" x2="554.5" y2="158.5" stroke="#ffffff" stroke-linecap="square"/>
<line x1="554.5" y1="158.5" x2="556.5" y2="158.5" stroke="#ffffff" stroke-linecap="square"/>
<line x1="556.5" y1="158.5" x2="556.5" y2="161.5" stroke="#ffffff" stroke-linecap="square"/>
<line x1="556.5" y1="161.5" x2="554.5" y2="161.5" stroke="#ffffff" stroke-linecap="square"/>
<line x1="585.5" y1="161.5" x2="585.5" y2="158.5" stroke="#ffffff" stroke-linecap="square"/>
<line x1="585.5" y1="158.5" x2="587.5" y2="158.5" stroke="#ffffff" stroke-linecap="square"/>
<line x1="587.5" y1="158.5" x2="587.5" y2="161.5" stroke="#ffffff" stroke-linecap="square"/>
<line x1="587.5" y1="161.5" x2="585.5" y2="161.5" stroke="#ffffff" stroke-linecap="square"/>
<line x1="586.5" y1="160.5" x2="587.5" y2="161.5" stroke="#ffffff" stroke-linecap="square"/>
<line x1="556.5" y1="168.5" x2="554.5" y2="168.5" stroke="#ffffff" stroke-linecap="square"/>
<line x1="554.5" y1="168.5" x2="554.5" y2="171.5" stroke="#ffffff" stroke-linecap="square"/>
<line x1="554.5" y1="171.5" x2="556.5" y2="171.5" stroke="#ffffff" stroke-linecap="square"/>
<line x1="561.5" y1="168.5" x2="559.5" y2="168.5" stroke="#ffffff" stroke-linecap="square"/>
<line x1="559.5" y1="168.5" x2="559.5" y2="171.5" stroke="#ffffff" stroke-linecap="square"/>
<line x1="559.5" y1="171.5" x2="561.5" y2="171.5" stroke="#ffffff" stroke-linecap="square"/>
<line x1="559.5" y1="169.5" x2="561.5" y2="169.5" stroke="#ffffff" stroke-linecap="square"/>
<line x1="556.5" y1="178.5" x2="554.5" y2="178.5" stroke="#ffffff" stroke-linecap="square"/>
<line x1="554.5" y1="178.5" x2="554.5" y2="181.5" stroke="#ffffff" stroke-linecap="square"/>
<line x1="554.5" y1="181.5" x2="556.5" y2="181.5" stroke="#ffffff" stroke-linecap="square"/>
<line x1="566.5" y1="183.5" x2="564.5" y2="183.5" stroke="#ffffff" stroke-linecap="square"/>
<line x1="564.5" y1="183.5" x2="564.5" y2="186.5" stroke="#ffffff" stroke-linecap="square"/>
<line x1="564.5" y1="186.5" x2="566.5" y2="186.5" stroke="#ffffff" stroke-linecap="square"/>
<line x1="569.5" y1="183.5" x2="569.5" y2="186.5" stroke="#ffffff" stroke-linecap="square"/>
<line x1="569.5" y1="186.5" x2="571.5" y2="186.5" stroke="#ffffff" stroke-linecap="square"/>
<line x1="574.5" y1="186.5" x2="574.5" y2="183.5" stroke="#ffffff" stroke-linecap="square"/>
<line x1="574.5" y1="183.5" x2="576.5" y2="183.5" stroke="#ffffff" stroke-linecap="square"/>
<line x1="576.5" y1="183.5" x2="576.5" y2="186.5" stroke="#ffffff" stroke-linecap="square"/>
<line x1="574.5" y1="184.5" x2="576.5" y2="184.5" stroke="#ffffff" stroke-linecap="square"/>
<rect x="550.5" y="456.5" width="41" height="41" fill="none" stroke="#00ff00" stroke-width="1.2"/>
<line x1="540" y1="466.5" x2="550.5" y2="466.5" stroke="#00ffff" stroke-width="1"/>
<line x1="540" y1="476.5" x2="550.5" y2="476.5" stroke="#00ffff" stroke-width="1"/>
<line x1="540.5" y1="487.5" x2="550.5" y2="487.5" stroke="#00ffff" stroke-width="1"/>
<line x1="591.5" y1="466.5" x2="601.5" y2="466.5" stroke="#00ffff" stroke-width="1"/>
<line x1="571.5" y1="497.5" x2="571.5" y2="502.5" stroke="#00ffff" stroke-width="1"/>
<line x1="540.5" y1="502.5" x2="571.5" y2="502.5" stroke="#00ffff" stroke-width="1"/>
<path d="M550.5,485 L553.5,487.5 L550.5,490" stroke="#00ff00" stroke-width="1" fill="none"/>
<line x1="554.5" y1="468.5" x2="554.5" y2="465.5" stroke="#ffffff" stroke-linecap="square"/>
<line x1="554.5" y1="465.5" x2="556.5" y2="465.5" stroke="#ffffff" stroke-linecap="square"/>
<line x1="556.5" y1="465.5" x2="556.5" y2="468.5" stroke="#ffffff" stroke-linecap="square"/>
<line x1="556.5" y1="468.5" x2="554.5" y2="468.5" stroke="#ffffff" stroke-linecap="square"/>
<line x1="585.5" y1="468.5" x2="585.5" y2="465.5" stroke="#ffffff" stroke-linecap="square"/>
<line x1="585.5" y1="465.5" x2="587.5" y2="465.5" stroke="#ffffff" stroke-linecap="square"/>
<line x1="587.5" y1="465.5" x2="587.5" y2="468.5" stroke="#ffffff" stroke-linecap="square"/>
<line x1="587.5" y1="468.5" x2="585.5" y2="468.5" stroke="#ffffff" stroke-linecap="square"/>
<line x1="586.5" y1="467.5" x2="587.5" y2="468.5" stroke="#ffffff" stroke-linecap="square"/>
<line x1="556.5" y1="475.5" x2="554.5" y2="475.5" stroke="#ffffff" stroke-linecap="square"/>
<line x1="554.5" y1="475.5" x2="554.5" y2="478.5" stroke="#ffffff" stroke-linecap="square"/>
<line x1="554.5" y1="478.5" x2="556.5" y2="478.5" stroke="#ffffff" stroke-linecap="square"/>
<line x1="561.5" y1="475.5" x2="559.5" y2="475.5" stroke="#ffffff" stroke-linecap="square"/>
<line x1="559.5" y1="475.5" x2="559.5" y2="478.5" stroke="#ffffff" stroke-linecap="square"/>
<line x1="559.5" y1="478.5" x2="561.5" y2="478.5" stroke="#ffffff" stroke-linecap="square"/>
<line x1="559.5" y1="476.5" x2="561.5" y2="476.5" stroke="#ffffff" stroke-linecap="square"/>
<line x1="556.5" y1="485.5" x2="554.5" y2="485.5" stroke="#ffffff" stroke-linecap="square"/>
<line x1="554.5" y1="485.5" x2="554.5" y2="488.5" stroke="#ffffff" stroke-linecap="square"/>
<line x1="554.5" y1="488.5" x2="556.5" y2="488.5" stroke="#ffffff" stroke-linecap="square"/>
<line x1="566.5" y1="490.5" x2="564.5" y2="490.5" stroke="#ffffff" stroke-linecap="square"/>
<line x1="564.5" y1="490.5" x2="564.5" y2="493.5" stroke="#ffffff" stroke-linecap="square"/>
<line x1="564.5" y1="493.5" x2="566.5" y2="493.5" stroke="#ffffff" stroke-linecap="square"/>
<line x1="569.5" y1="490.5" x2="569.5" y2="493.5" stroke="#ffffff" stroke-linecap="square"/>
<line x1="569.5" y1="493.5" x2="571.5" y2="493.5" stroke="#ffffff" stroke-linecap="square"/>
<line x1="574.5" y1="493.5" x2="574.5" y2="490.5" stroke="#ffffff" stroke-linecap="square"/>
<line x1="574.5" y1="490.5" x2="576.5" y2="490.5" stroke="#ffffff" stroke-linecap="square"/>
<line x1="576.5" y1="490.5" x2="576.5" y2="493.5" stroke="#ffffff" stroke-linecap="square"/>
<line x1="574.5" y1="491.5" x2="576.5" y2="491.5" stroke="#ffffff" stroke-linecap="square"/>
<rect x="555.5" y="619.5" width="41" height="41" fill="none" stroke="#00ff00" stroke-width="1.2"/>
<line x1="545" y1="630.5" x2="555.5" y2="630.5" stroke="#00ffff" stroke-width="1"/>
<line x1="545" y1="640.5" x2="555.5" y2="640.5" stroke="#00ffff" stroke-width="1"/>
<line x1="545.5" y1="650.5" x2="555.5" y2="650.5" stroke="#00ffff" stroke-width="1"/>
<line x1="596.5" y1="630.5" x2="606.5" y2="630.5" stroke="#00ffff" stroke-width="1"/>
<line x1="576.5" y1="660.5" x2="576.5" y2="665.5" stroke="#00ffff" stroke-width="1"/>
<line x1="545.5" y1="665.5" x2="576.5" y2="665.5" stroke="#00ffff" stroke-width="1"/>
<path d="M555.5,648 L558.5,650.5 L555.5,653" stroke="#00ff00" stroke-width="1" fill="none"/>
<line x1="559.5" y1="631.5" x2="559.5" y2="628.5" stroke="#ffffff" stroke-linecap="square"/>
<line x1="559.5" y1="628.5" x2="561.5" y2="628.5" stroke="#ffffff" stroke-linecap="square"/>
<line x1="561.5" y1="628.5" x2="561.5" y2="631.5" stroke="#ffffff" stroke-linecap="square"/>
<line x1="561.5" y1="631.5" x2="559.5" y2="631.5" stroke="#ffffff" stroke-linecap="square"/>
<line x1="590.5" y1="631.5" x2="590.5" y2="628.5" stroke="#ffffff" stroke-linecap="square"/>
<line x1="590.5" y1="628.5" x2="592.5" y2="628.5" stroke="#ffffff" stroke-linecap="square"/>
<line x1="592.5" y1="628.5" x2="592.5" y2="631.5" stroke="#ffffff" stroke-linecap="square"/>
<line x1="592.5" y1="631.5" x2="590.5" y2="631.5" stroke="#ffffff" stroke-linecap="square"/>
<line x1="591.5" y1="630.5" x2="592.5" y2="631.5" stroke="#ffffff" stroke-linecap="square"/>
<line x1="561.5" y1="638.5" x2="559.5" y2="638.5" stroke="#ffffff" stroke-linecap="square"/>
<line x1="559.5" y1="638.5" x2="559.5" y2="641.5" stroke="#ffffff" stroke-linecap="square"/>
<line x1="559.5" y1="641.5" x2="561.5" y2="641.5" stroke="#ffffff" stroke-linecap="square"/>
<line x1="566.5" y1="638.5" x2="564.5" y2="638.5" stroke="#ffffff" stroke-linecap="square"/>
<line x1="564.5" y1="638.5" x2="564.5" y2="641.5" stroke="#ffffff" stroke-linecap="square"/>
<line x1="564.5" y1="641.5" x2="566.5" y2="641.5" stroke="#ffffff" stroke-linecap="square"/>
<line x1="564.5" y1="639.5" x2="566.5" y2="639.5" stroke="#ffffff" stroke-linecap="square"/>
<line x1="561.5" y1="648.5" x2="559.5" y2="648.5" stroke="#ffffff" stroke-linecap="square"/>
<line x1="559.5" y1="648.5" x2="559.5" y2="651.5" stroke="#ffffff" stroke-linecap="square"/>
<line x1="559.5" y1="651.5" x2="561.5" y2="651.5" stroke="#ffffff" stroke-linecap="square"/>
<line x1="571.5" y1="653.5" x2="569.5" y2="653.5" stroke="#ffffff" stroke-linecap="square"/>
<line x1="569.5" y1="653.5" x2="569.5" y2="656.5" stroke="#ffffff" stroke-linecap="square"/>
<line x1="569.5" y1="656.5" x2="571.5" y2="656.5" stroke="#ffffff" stroke-linecap="square"/>
<line x1="574.5" y1="653.5" x2="574.5" y2="656.5" stroke="#ffffff" stroke-linecap="square"/>
<line x1="574.5" y1="656.5" x2="576.5" y2="656.5" stroke="#ffffff" stroke-linecap="square"/>
<line x1="579.5" y1="656.5" x2="579.5" y2="653.5" stroke="#ffffff" stroke-linecap="square"/>
<line x1="579.5" y1="653.5" x2="581.5" y2="653.5" stroke="#ffffff" stroke-linecap="square"/>
<line x1="581.5" y1="653.5" x2="581.5" y2="656.5" stroke="#ffffff" stroke-linecap="square"/>
<line x1="579.5" y1="654.5" x2="581.5" y2="654.5" stroke="#ffffff" stroke-linecap="square"/>
<rect x="82.5" y="241.5" width="71" height="71" fill="none" stroke="#00ff00" stroke-width="1.2"/>
<rect x="82.5" y="300.5" width="45" height="12" fill="none" stroke="#00ff00" stroke-width="1.2"/>
<line x1="71" y1="251.5" x2="82.5" y2="251.5" stroke="#00ffff" stroke-width="1"/>
<line x1="71" y1="262.5" x2="82.5" y2="262.5" stroke="#00ffff" stroke-width="1"/>
<line x1="71" y1="272.5" x2="82.5" y2="272.5" stroke="#00ffff" stroke-width="1"/>
<line x1="71" y1="282.5" x2="82.5" y2="282.5" stroke="#00ffff" stroke-width="1"/>
<line x1="71" y1="292.5" x2="82.5" y2="292.5" stroke="#00ffff" stroke-width="1"/>
<line x1="153.5" y1="262.5" x2="164" y2="262.5" stroke="#00ffff" stroke-width="1"/>
<line x1="143.5" y1="231.5" x2="143.5" y2="241.5" stroke="#00ffff" stroke-width="1"/>
<line x1="143.5" y1="312.5" x2="143.5" y2="323.5" stroke="#00ffff" stroke-width="1"/>
<line x1="87.5" y1="312.5" x2="87.5" y2="323.5" stroke="#00ffff" stroke-width="1"/>
<line x1="92.5" y1="312.5" x2="92.5" y2="323.5" stroke="#00ffff" stroke-width="1"/>
<line x1="97.5" y1="312.5" x2="97.5" y2="323.5" stroke="#00ffff" stroke-width="1"/>
<line x1="102.5" y1="312.5" x2="102.5" y2="323.5" stroke="#00ffff" stroke-width="1"/>
<line x1="107.5" y1="312.5" x2="107.5" y2="323.5" stroke="#00ffff" stroke-width="1"/>
<line x1="112.5" y1="312.5" x2="112.5" y2="323.5" stroke="#00ffff" stroke-width="1"/>
<line x1="117.5" y1="312.5" x2="117.5" y2="323.5" stroke="#00ffff" stroke-width="1"/>
<line x1="122.5" y1="312.5" x2="122.5" y2="323.5" stroke="#00ffff" stroke-width="1"/>
<line x1="85.5" y1="253.5" x2="85.5" y2="250.5" stroke="#ffffff" stroke-linecap="square"/>
<line x1="85.5" y1="250.5" x2="87.5" y2="250.5" stroke="#ffffff" stroke-linecap="square"/>
<line x1="87.5" y1="250.5" x2="87.5" y2="253.5" stroke="#ffffff" stroke-linecap="square"/>
<line x1="87.5" y1="253.5" x2="85.5" y2="253.5" stroke="#ffffff" stroke-linecap="square"/>
<line x1="85.5" y1="252.5" x2="87.5" y2="252.5" stroke="#ffffff" stroke-linecap="square"/>
<line x1="90.5" y1="250.5" x2="92.5" y2="250.5" stroke="#ffffff" stroke-linecap="square"/>
<line x1="92.5" y1="250.5" x2="92.5" y2="253.5" stroke="#ffffff" stroke-linecap="square"/>
<line x1="92.5" y1="253.5" x2="90.5" y2="253.5" stroke="#ffffff" stroke-linecap="square"/>
<line x1="91.5" y1="252.5" x2="92.5" y2="252.5" stroke="#ffffff" stroke-linecap="square"/>
<line x1="100.5" y1="250.5" x2="99.5" y2="250.5" stroke="#ffff00" stroke-linecap="square"/>
<line x1="99.5" y1="250.5" x2="99.5" y2="253.5" stroke="#ffff00" stroke-linecap="square"/>
<line x1="99.5" y1="253.5" x2="100.5" y2="253.5" stroke="#ffff00" stroke-linecap="square"/>
<line x1="106.5" y1="250.5" x2="104.5" y2="250.5" stroke="#ffff00" stroke-linecap="square"/>
<line x1="104.5" y1="250.5" x2="104.5" y2="253.5" stroke="#ffff00" stroke-linecap="square"/>
<line x1="104.5" y1="253.5" x2="106.5" y2="253.5" stroke="#ffff00" stroke-linecap="square"/>
<line x1="106.5" y1="253.5" x2="106.5" y2="252.5" stroke="#ffff00" stroke-linecap="square"/>
<line x1="106.5" y1="252.5" x2="105.5" y2="252.5" stroke="#ffff00" stroke-linecap="square"/>
<line x1="108.5" y1="250.5" x2="110.5" y2="250.5" stroke="#ffff00" stroke-linecap="square"/>
<line x1="110.5" y1="250.5" x2="110.5" y2="253.5" stroke="#ffff00" stroke-linecap="square"/>
<line x1="110.5" y1="253.5" x2="108.5" y2="253.5" stroke="#ffff00" stroke-linecap="square"/>
<line x1="109.5" y1="252.5" x2="110.5" y2="252.5" stroke="#ffff00" stroke-linecap="square"/>
<line x1="114.5" y1="250.5" x2="115.5" y2="250.5" stroke="#ffff00" stroke-linecap="square"/>
<line x1="115.5" y1="250.5" x2="115.5" y2="253.5" stroke="#ffff00" stroke-linecap="square"/>
<line x1="115.5" y1="253.5" x2="114.5" y2="253.5" stroke="#ffff00" stroke-linecap="square"/>
<line x1="85.5" y1="263.5" x2="86.5" y2="260.5" stroke="#ffffff" stroke-linecap="square"/>
<line x1="86.5" y1="260.5" x2="87.5" y2="263.5" stroke="#ffffff" stroke-linecap="square"/>
<line x1="86.5" y1="262.5" x2="87.5" y2="262.5" stroke="#ffffff" stroke-linecap="square"/>
<line x1="90.5" y1="260.5" x2="92.5" y2="260.5" stroke="#ffffff" stroke-linecap="square"/>
<line x1="92.5" y1="260.5" x2="92.5" y2="263.5" stroke="#ffffff" stroke-linecap="square"/>
<line x1="92.5" y1="263.5" x2="90.5" y2="263.5" stroke="#ffffff" stroke-linecap="square"/>
<line x1="91.5" y1="262.5" x2="92.5" y2="262.5" stroke="#ffffff" stroke-linecap="square"/>
<line x1="100.5" y1="260.5" x2="99.5" y2="260.5" stroke="#ffff00" stroke-linecap="square"/>
<line x1="99.5" y1="260.5" x2="99.5" y2="263.5" stroke="#ffff00" stroke-linecap="square"/>
<line x1="99.5" y1="263.5" x2="100.5" y2="263.5" stroke="#ffff00" stroke-linecap="square"/>
<line x1="106.5" y1="260.5" x2="104.5" y2="260.5" stroke="#ffff00" stroke-linecap="square"/>
<line x1="104.5" y1="260.5" x2="104.5" y2="263.5" stroke="#ffff00" stroke-linecap="square"/>
<line x1="104.5" y1="263.5" x2="106.5" y2="263.5" stroke="#ffff00" stroke-linecap="square"/>
<line x1="106.5" y1="263.5" x2="106.5" y2="262.5" stroke="#ffff00" stroke-linecap="square"/>
<line x1="106.5" y1="262.5" x2="105.5" y2="262.5" stroke="#ffff00" stroke-linecap="square"/>
<line x1="110.5" y1="263.5" x2="110.5" y2="260.5" stroke="#ffff00" stroke-linecap="square"/>
<line x1="110.5" y1="260.5" x2="108.5" y2="262.5" stroke="#ffff00" stroke-linecap="square"/>
<line x1="108.5" y1="262.5" x2="110.5" y2="262.5" stroke="#ffff00" stroke-linecap="square"/>
<line x1="114.5" y1="260.5" x2="115.5" y2="260.5" stroke="#ffff00" stroke-linecap="square"/>
<line x1="115.5" y1="260.5" x2="115.5" y2="263.5" stroke="#ffff00" stroke-linecap="square"/>
<line x1="115.5" y1="263.5" x2="114.5" y2="263.5" stroke="#ffff00" stroke-linecap="square"/>
<line x1="85.5" y1="273.5" x2="85.5" y2="270.5" stroke="#ffffff" stroke-linecap="square"/>
<line x1="85.5" y1="270.5" x2="87.5" y2="270.5" stroke="#ffffff" stroke-linecap="square"/>
<line x1="87.5" y1="270.5" x2="87.5" y2="273.5" stroke="#ffffff" stroke-linecap="square"/>
<line x1="87.5" y1="273.5" x2="85.5" y2="273.5" stroke="#ffffff" stroke-linecap="square"/>
<line x1="85.5" y1="272.5" x2="87.5" y2="272.5" stroke="#ffffff" stroke-linecap="square"/>
<line x1="90.5" y1="273.5" x2="90.5" y2="270.5" stroke="#ffffff" stroke-linecap="square"/>
<line x1="90.5" y1="270.5" x2="92.5" y2="270.5" stroke="#ffffff" stroke-linecap="square"/>
<line x1="92.5" y1="270.5" x2="92.5" y2="273.5" stroke="#ffffff" stroke-linecap="square"/>
<line x1="92.5" y1="273.5" x2="90.5" y2="273.5" stroke="#ffffff" stroke-linecap="square"/>
<line x1="100.5" y1="270.5" x2="99.5" y2="270.5" stroke="#ffff00" stroke-linecap="square"/>
<line x1="99.5" y1="270.5" x2="99.5" y2="273.5" stroke="#ffff00" stroke-linecap="square"/>
<line x1="99.5" y1="273.5" x2="100.5" y2="273.5" stroke="#ffff00" stroke-linecap="square"/>
<line x1="106.5" y1="270.5" x2="104.5" y2="270.5" stroke="#ffff00" stroke-linecap="square"/>
<line x1="104.5" y1="270.5" x2="104.5" y2="273.5" stroke="#ffff00" stroke-linecap="square"/>
<line x1="104.5" y1="272.5" x2="106.5" y2="272.5" stroke="#ffff00" stroke-linecap="square"/>
<line x1="108.5" y1="270.5" x2="110.5" y2="270.5" stroke="#ffff00" stroke-linecap="square"/>
<line x1="110.5" y1="270.5" x2="110.5" y2="272.5" stroke="#ffff00" stroke-linecap="square"/>
<line x1="110.5" y1="272.5" x2="108.5" y2="272.5" stroke="#ffff00" stroke-linecap="square"/>
<line x1="108.5" y1="272.5" x2="108.5" y2="273.5" stroke="#ffff00" stroke-linecap="square"/>
<line x1="108.5" y1="273.5" x2="110.5" y2="273.5" stroke="#ffff00" stroke-linecap="square"/>
<line x1="114.5" y1="270.5" x2="115.5" y2="270.5" stroke="#ffff00" stroke-linecap="square"/>
<line x1="115.5" y1="270.5" x2="115.5" y2="273.5" stroke="#ffff00" stroke-linecap="square"/>
<line x1="115.5" y1="273.5" x2="114.5" y2="273.5" stroke="#ffff00" stroke-linecap="square"/>
<line x1="85.5" y1="284.5" x2="86.5" y2="281.5" stroke="#ffffff" stroke-linecap="square"/>
<line x1="86.5" y1="281.5" x2="87.5" y2="284.5" stroke="#ffffff" stroke-linecap="square"/>
<line x1="86.5" y1="283.5" x2="87.5" y2="283.5" stroke="#ffffff" stroke-linecap="square"/>
<line x1="90.5" y1="284.5" x2="90.5" y2="281.5" stroke="#ffffff" stroke-linecap="square"/>
<line x1="90.5" y1="281.5" x2="92.5" y2="281.5" stroke="#ffffff" stroke-linecap="square"/>
<line x1="92.5" y1="281.5" x2="92.5" y2="284.5" stroke="#ffffff" stroke-linecap="square"/>
<line x1="92.5" y1="284.5" x2="90.5" y2="284.5" stroke="#ffffff" stroke-linecap="square"/>
<line x1="100.5" y1="281.5" x2="99.5" y2="281.5" stroke="#ffff00" stroke-linecap="square"/>
<line x1="99.5" y1="281.5" x2="99.5" y2="284.5" stroke="#ffff00" stroke-linecap="square"/>
<line x1="99.5" y1="284.5" x2="100.5" y2="284.5" stroke="#ffff00" stroke-linecap="square"/>
<line x1="106.5" y1="281.5" x2="104.5" y2="281.5" stroke="#ffff00" stroke-linecap="square"/>
<line x1="104.5" y1="281.5" x2="104.5" y2="284.5" stroke="#ffff00" stroke-linecap="square"/>
<line x1="104.5" y1="283.5" x2="106.5" y2="283.5" stroke="#ffff00" stroke-linecap="square"/>
<line x1="108.5" y1="281.5" x2="110.5" y2="281.5" stroke="#ffff00" stroke-linecap="square"/>
<line x1="110.5" y1="281.5" x2="110.5" y2="284.5" stroke="#ffff00" stroke-linecap="square"/>
<line x1="110.5" y1="284.5" x2="108.5" y2="284.5" stroke="#ffff00" stroke-linecap="square"/>
<line x1="109.5" y1="283.5" x2="110.5" y2="283.5" stroke="#ffff00" stroke-linecap="square"/>
<line x1="114.5" y1="281.5" x2="115.5" y2="281.5" stroke="#ffff00" stroke-linecap="square"/>
<line x1="115.5" y1="281.5" x2="115.5" y2="284.5" stroke="#ffff00" stroke-linecap="square"/>
<line x1="115.5" y1="284.5" x2="114.5" y2="284.5" stroke="#ffff00" stroke-linecap="square"/>
<line x1="85.5" y1="294.5" x2="86.5" y2="291.5" stroke="#ffffff" stroke-linecap="square"/>
<line x1="86.5" y1="291.5" x2="87.5" y2="294.5" stroke="#ffffff" stroke-linecap="square"/>
<line x1="86.5" y1="293.5" x2="87.5" y2="293.5" stroke="#ffffff" stroke-linecap="square"/>
<line x1="90.5" y1="294.5" x2="90.5" y2="291.5" stroke="#ffffff" stroke-linecap="square"/>
<line x1="90.5" y1="291.5" x2="92.5" y2="291.5" stroke="#ffffff" stroke-linecap="square"/>
<line x1="92.5" y1="291.5" x2="92.5" y2="294.5" stroke="#ffffff" stroke-linecap="square"/>
<line x1="92.5" y1="294.5" x2="90.5" y2="294.5" stroke="#ffffff" stroke-linecap="square"/>
<line x1="95.5" y1="294.5" x2="95.5" y2="291.5" stroke="#ffffff" stroke-linecap="square"/>
<line x1="95.5" y1="291.5" x2="97.5" y2="291.5" stroke="#ffffff" stroke-linecap="square"/>
<line x1="97.5" y1="291.5" x2="97.5" y2="294.5" stroke="#ffffff" stroke-linecap="square"/>
<line x1="97.5" y1="294.5" x2="95.5" y2="294.5" stroke="#ffffff" stroke-linecap="square"/>
<line x1="105.5" y1="291.5" x2="104.5" y2="291.5" stroke="#ffff00" stroke-linecap="square"/>
<line x1="104.5" y1="291.5" x2="104.5" y2="294.5" stroke="#ffff00" stroke-linecap="square"/>
<line x1="104.5" y1="294.5" x2="105.5" y2="294.5" stroke="#ffff00" stroke-linecap="square"/>
<line x1="111.5" y1="291.5" x2="109.5" y2="291.5" stroke="#ffff00" stroke-linecap="square"/>
<line x1="109.5" y1="291.5" x2="109.5" y2="294.5" stroke="#ffff00" stroke-linecap="square"/>
<line x1="109.5" y1="293.5" x2="111.5" y2="293.5" stroke="#ffff00" stroke-linecap="square"/>
<line x1="113.5" y1="291.5" x2="115.5" y2="291.5" stroke="#ffff00" stroke-linecap="square"/>
<line x1="115.5" y1="291.5" x2="115.5" y2="294.5" stroke="#ffff00" stroke-linecap="square"/>
<line x1="115.5" y1="294.5" x2="113.5" y2="294.5" stroke="#ffff00" stroke-linecap="square"/>
<line x1="114.5" y1="293.5" x2="115.5" y2="293.5" stroke="#ffff00" stroke-linecap="square"/>
<line x1="119.5" y1="291.5" x2="120.5" y2="291.5" stroke="#ffff00" stroke-linecap="square"/>
<line x1="120.5" y1="291.5" x2="120.5" y2="294.5" stroke="#ffff00" stroke-linecap="square"/>
<line x1="120.5" y1="294.5" x2="119.5" y2="294.5" stroke="#ffff00" stroke-linecap="square"/>
<line x1="133.5" y1="245.5" x2="131.5" y2="245.5" stroke="#ffffff" stroke-linecap="square"/>
<line x1="131.5" y1="245.5" x2="131.5" y2="248.5" stroke="#ffffff" stroke-linecap="square"/>
<line x1="131.5" y1="248.5" x2="133.5" y2="248.5" stroke="#ffffff" stroke-linecap="square"/>
<line x1="136.5" y1="248.5" x2="136.5" y2="245.5" stroke="#ffffff" stroke-linecap="square"/>
<line x1="136.5" y1="245.5" x2="138.5" y2="245.5" stroke="#ffffff" stroke-linecap="square"/>
<line x1="138.5" y1="245.5" x2="138.5" y2="248.5" stroke="#ffffff" stroke-linecap="square"/>
<line x1="138.5" y1="248.5" x2="136.5" y2="248.5" stroke="#ffffff" stroke-linecap="square"/>
<line x1="141.5" y1="245.5" x2="141.5" y2="248.5" stroke="#ffffff" stroke-linecap="square"/>
<line x1="141.5" y1="248.5" x2="143.5" y2="248.5" stroke="#ffffff" stroke-linecap="square"/>
<line x1="143.5" y1="248.5" x2="143.5" y2="245.5" stroke="#ffffff" stroke-linecap="square"/>
<line x1="146.5" y1="245.5" x2="148.5" y2="245.5" stroke="#ffffff" stroke-linecap="square"/>
<line x1="147.5" y1="245.5" x2="147.5" y2="248.5" stroke="#ffffff" stroke-linecap="square"/>
<line x1="128.5" y1="260.5" x2="126.5" y2="260.5" stroke="#ffffff" stroke-linecap="square"/>
<line x1="126.5" y1="260.5" x2="126.5" y2="263.5" stroke="#ffffff" stroke-linecap="square"/>
<line x1="126.5" y1="263.5" x2="128.5" y2="263.5" stroke="#ffffff" stroke-linecap="square"/>
<line x1="131.5" y1="263.5" x2="131.5" y2="260.5" stroke="#ffffff" stroke-linecap="square"/>
<line x1="131.5" y1="260.5" x2="133.5" y2="260.5" stroke="#ffffff" stroke-linecap="square"/>
<line x1="133.5" y1="260.5" x2="133.5" y2="263.5" stroke="#ffffff" stroke-linecap="square"/>
<line x1="133.5" y1="263.5" x2="131.5" y2="263.5" stroke="#ffffff" stroke-linecap="square"/>
<line x1="136.5" y1="260.5" x2="136.5" y2="263.5" stroke="#ffffff" stroke-linecap="square"/>
<line x1="136.5" y1="263.5" x2="138.5" y2="263.5" stroke="#ffffff" stroke-linecap="square"/>
<line x1="138.5" y1="263.5" x2="138.5" y2="260.5" stroke="#ffffff" stroke-linecap="square"/>
<line x1="141.5" y1="260.5" x2="143.5" y2="260.5" stroke="#ffffff" stroke-linecap="square"/>
<line x1="142.5" y1="260.5" x2="142.5" y2="263.5" stroke="#ffffff" stroke-linecap="square"/>
<line x1="146.5" y1="263.5" x2="146.5" y2="260.5" stroke="#ffffff" stroke-linecap="square"/>
<line x1="146.5" y1="260.5" x2="148.5" y2="260.5" stroke="#ffffff" stroke-linecap="square"/>
<line x1="148.5" y1="260.5" x2="148.5" y2="263.5" stroke="#ffffff" stroke-linecap="square"/>
<line x1="148.5" y1="263.5" x2="146.5" y2="263.5" stroke="#ffffff" stroke-linecap="square"/>
<line x1="138.5" y1="306.5" x2="136.5" y2="306.5" stroke="#ffffff" stroke-linecap="square"/>
<line x1="136.5" y1="306.5" x2="136.5" y2="309.5" stroke="#ffffff" stroke-linecap="square"/>
<line x1="136.5" y1="309.5" x2="138.5" y2="309.5" stroke="#ffffff" stroke-linecap="square"/>
<line x1="141.5" y1="306.5" x2="143.5" y2="306.5" stroke="#ffffff" stroke-linecap="square"/>
<line x1="142.5" y1="306.5" x2="142.5" y2="309.5" stroke="#ffffff" stroke-linecap="square"/>
<line x1="141.5" y1="309.5" x2="143.5" y2="309.5" stroke="#ffffff" stroke-linecap="square"/>
<line x1="146.5" y1="309.5" x2="146.5" y2="306.5" stroke="#ffffff" stroke-linecap="square"/>
<line x1="146.5" y1="306.5" x2="148.5" y2="309.5" stroke="#ffffff" stroke-linecap="square"/>
<line x1="148.5" y1="309.5" x2="148.5" y2="306.5" stroke="#ffffff" stroke-linecap="square"/>
<line x1="87.5" y1="303.5" x2="85.5" y2="303.5" stroke="#90ee90" stroke-linecap="square"/>
<line x1="85.5" y1="303.5" x2="85.5" y2="306.5" stroke="#90ee90" stroke-linecap="square"/>
<line x1="85.5" y1="306.5" x2="87.5" y2="306.5" stroke="#90ee90" stroke-linecap="square"/>
<line x1="89.5" y1="306.5" x2="90.5" y2="303.5" stroke="#90ee90" stroke-linecap="square"/>
<line x1="90.5" y1="303.5" x2="91.5" y2="306.5" stroke="#90ee90" stroke-linecap="square"/>
<line x1="90.5" y1="305.5" x2="91.5" y2="305.5" stroke="#90ee90" stroke-linecap="square"/>
<line x1="93.5" y1="306.5" x2="93.5" y2="303.5" stroke="#90ee90" stroke-linecap="square"/>
<line x1="93.5" y1="303.5" x2="95.5" y2="303.5" stroke="#90ee90" stroke-linecap="square"/>
<line x1="95.5" y1="303.5" x2="95.5" y2="306.5" stroke="#90ee90" stroke-linecap="square"/>
<line x1="93.5" y1="305.5" x2="95.5" y2="305.5" stroke="#90ee90" stroke-linecap="square"/>
<line x1="97.5" y1="306.5" x2="97.5" y2="303.5" stroke="#90ee90" stroke-linecap="square"/>
<line x1="97.5" y1="303.5" x2="99.5" y2="303.5" stroke="#90ee90" stroke-linecap="square"/>
<line x1="99.5" y1="303.5" x2="99.5" y2="306.5" stroke="#90ee90" stroke-linecap="square"/>
<line x1="97.5" y1="305.5" x2="99.5" y2="305.5" stroke="#90ee90" stroke-linecap="square"/>
<line x1="101.5" y1="303.5" x2="102.5" y2="305.5" stroke="#90ee90" stroke-linecap="square"/>
<line x1="102.5" y1="305.5" x2="103.5" y2="303.5" stroke="#90ee90" stroke-linecap="square"/>
<line x1="102.5" y1="305.5" x2="102.5" y2="306.5" stroke="#90ee90" stroke-linecap="square"/>
<line x1="109.5" y1="306.5" x2="109.5" y2="303.5" stroke="#90ee90" stroke-linecap="square"/>
<line x1="109.5" y1="303.5" x2="110.5" y2="305.5" stroke="#90ee90" stroke-linecap="square"/>
<line x1="110.5" y1="305.5" x2="111.5" y2="303.5" stroke="#90ee90" stroke-linecap="square"/>
<line x1="111.5" y1="303.5" x2="111.5" y2="306.5" stroke="#90ee90" stroke-linecap="square"/>
<line x1="113.5" y1="306.5" x2="113.5" y2="303.5" stroke="#90ee90" stroke-linecap="square"/>
<line x1="113.5" y1="303.5" x2="115.5" y2="303.5" stroke="#90ee90" stroke-linecap="square"/>
<line x1="115.5" y1="303.5" x2="115.5" y2="306.5" stroke="#90ee90" stroke-linecap="square"/>
<line x1="115.5" y1="306.5" x2="113.5" y2="306.5" stroke="#90ee90" stroke-linecap="square"/>
<line x1="117.5" y1="306.5" x2="117.5" y2="303.5" stroke="#90ee90" stroke-linecap="square"/>
<line x1="117.5" y1="303.5" x2="119.5" y2="303.5" stroke="#90ee90" stroke-linecap="square"/>
<line x1="119.5" y1="303.5" x2="119.5" y2="306.5" stroke="#90ee90" stroke-linecap="square"/>
<line x1="119.5" y1="306.5" x2="117.5" y2="306.5" stroke="#90ee90" stroke-linecap="square"/>
<line x1="123.5" y1="303.5" x2="121.5" y2="303.5" stroke="#90ee90" stroke-linecap="square"/>
<line x1="121.5" y1="303.5" x2="121.5" y2="306.5" stroke="#90ee90" stroke-linecap="square"/>
<line x1="121.5" y1="306.5" x2="123.5" y2="306.5" stroke="#90ee90" stroke-linecap="square"/>
<line x1="121.5" y1="305.5" x2="123.5" y2="305.5" stroke="#90ee90" stroke-linecap="square"/>
<rect x="85" y="309" width="4" height="3.5" fill="#ffa500"/>
<rect x="86.5" y="310.5" width="1" height="1" fill="#402000"/>
<rect x="82.5" y="691.5" width="71" height="71" fill="none" stroke="#00ff00" stroke-width="1.2"/>
<rect x="82.5" y="750.5" width="45" height="12" fill="none" stroke="#00ff00" stroke-width="1.2"/>
<line x1="71" y1="701.5" x2="82.5" y2="701.5" stroke="#00ffff" stroke-width="1"/>
<line x1="71" y1="711.5" x2="82.5" y2="711.5" stroke="#00ffff" stroke-width="1"/>
<line x1="71" y1="722.5" x2="82.5" y2="722.5" stroke="#00ffff" stroke-width="1"/>
<line x1="71" y1="732.5" x2="82.5" y2="732.5" stroke="#00ffff" stroke-width="1"/>
<line x1="71" y1="742.5" x2="82.5" y2="742.5" stroke="#00ffff" stroke-width="1"/>
<line x1="153.5" y1="711.5" x2="164" y2="711.5" stroke="#00ffff" stroke-width="1"/>
<line x1="143.5" y1="681.5" x2="143.5" y2="691.5" stroke="#00ffff" stroke-width="1"/>
<line x1="143.5" y1="762.5" x2="143.5" y2="773.5" stroke="#00ffff" stroke-width="1"/>
<line x1="87.5" y1="762.5" x2="87.5" y2="773.5" stroke="#00ffff" stroke-width="1"/>
<line x1="92.5" y1="762.5" x2="92.5" y2="773.5" stroke="#00ffff" stroke-width="1"/>
<line x1="97.5" y1="762.5" x2="97.5" y2="773.5" stroke="#00ffff" stroke-width="1"/>
<line x1="102.5" y1="762.5" x2="102.5" y2="773.5" stroke="#00ffff" stroke-width="1"/>
<line x1="107.5" y1="762.5" x2="107.5" y2="773.5" stroke="#00ffff" stroke-width="1"/>
<line x1="112.5" y1="762.5" x2="112.5" y2="773.5" stroke="#00ffff" stroke-width="1"/>
<line x1="117.5" y1="762.5" x2="117.5" y2="773.5" stroke="#00ffff" stroke-width="1"/>
<line x1="122.5" y1="762.5" x2="122.5" y2="773.5" stroke="#00ffff" stroke-width="1"/>
<line x1="85.5" y1="703.5" x2="85.5" y2="700.5" stroke="#ffffff" stroke-linecap="square"/>
<line x1="85.5" y1="700.5" x2="87.5" y2="700.5" stroke="#ffffff" stroke-linecap="square"/>
<line x1="87.5" y1="700.5" x2="87.5" y2="703.5" stroke="#ffffff" stroke-linecap="square"/>
<line x1="87.5" y1="703.5" x2="85.5" y2="703.5" stroke="#ffffff" stroke-linecap="square"/>
<line x1="85.5" y1="702.5" x2="87.5" y2="702.5" stroke="#ffffff" stroke-linecap="square"/>
<line x1="90.5" y1="700.5" x2="92.5" y2="700.5" stroke="#ffffff" stroke-linecap="square"/>
<line x1="92.5" y1="700.5" x2="92.5" y2="703.5" stroke="#ffffff" stroke-linecap="square"/>
<line x1="92.5" y1="703.5" x2="90.5" y2="703.5" stroke="#ffffff" stroke-linecap="square"/>
<line x1="91.5" y1="702.5" x2="92.5" y2="702.5" stroke="#ffffff" stroke-linecap="square"/>
<line x1="100.5" y1="700.5" x2="99.5" y2="700.5" stroke="#ffff00" stroke-linecap="square"/>
<line x1="99.5" y1="700.5" x2="99.5" y2="703.5" stroke="#ffff00" stroke-linecap="square"/>
<line x1="99.5" y1="703.5" x2="100.5" y2="703.5" stroke="#ffff00" stroke-linecap="square"/>
<line x1="106.5" y1="700.5" x2="104.5" y2="700.5" stroke="#ffff00" stroke-linecap="square"/>
<line x1="104.5" y1="700.5" x2="104.5" y2="703.5" stroke="#ffff00" stroke-linecap="square"/>
<line x1="104.5" y1="703.5" x2="106.5" y2="703.5" stroke="#ffff00" stroke-linecap="square"/>
<line x1="106.5" y1="703.5" x2="106.5" y2="702.5" stroke="#ffff00" stroke-linecap="square"/>
<line x1="106.5" y1="702.5" x2="105.5" y2="702.5" stroke="#ffff00" stroke-linecap="square"/>
<line x1="108.5" y1="700.5" x2="110.5" y2="700.5" stroke="#ffff00" stroke-linecap="square"/>
<line x1="110.5" y1="700.5" x2="110.5" y2="703.5" stroke="#ffff00" stroke-linecap="square"/>
<line x1="110.5" y1="703.5" x2="108.5" y2="703.5" stroke="#ffff00" stroke-linecap="square"/>
<line x1="109.5" y1="702.5" x2="110.5" y2="702.5" stroke="#ffff00" stroke-linecap="square"/>
<line x1="114.5" y1="700.5" x2="115.5" y2="700.5" stroke="#ffff00" stroke-linecap="square"/>
<line x1="115.5" y1="700.5" x2="115.5" y2="703.5" stroke="#ffff00" stroke-linecap="square"/>
<line x1="115.5" y1="703.5" x2="114.5" y2="703.5" stroke="#ffff00" stroke-linecap="square"/>
<line x1="85.5" y1="713.5" x2="86.5" y2="710.5" stroke="#ffffff" stroke-linecap="square"/>
<line x1="86.5" y1="710.5" x2="87.5" y2="713.5" stroke="#ffffff" stroke-linecap="square"/>
<line x1="86.5" y1="712.5" x2="87.5" y2="712.5" stroke="#ffffff" stroke-linecap="square"/>
<line x1="90.5" y1="710.5" x2="92.5" y2="710.5" stroke="#ffffff" stroke-linecap="square"/>
<line x1="92.5" y1="710.5" x2="92.5" y2="713.5" stroke="#ffffff" stroke-linecap="square"/>
<line x1="92.5" y1="713.5" x2="90.5" y2="713.5" stroke="#ffffff" stroke-linecap="square"/>
<line x1="91.5" y1="712.5" x2="92.5" y2="712.5" stroke="#ffffff" stroke-linecap="square"/>
<line x1="100.5" y1="710.5" x2="99.5" y2="710.5" stroke="#ffff00" stroke-linecap="square"/>
<line x1="99.5" y1="710.5" x2="99.5" y2="713.5" stroke="#ffff00" stroke-linecap="square"/>
<line x1="99.5" y1="713.5" x2="100.5" y2="713.5" stroke="#ffff00" stroke-linecap="square"/>
<line x1="106.5" y1="710.5" x2="104.5" y2="710.5" stroke="#ffff00" stroke-linecap="square"/>
<line x1="104.5" y1="710.5" x2="104.5" y2="713.5" stroke="#ffff00" stroke-linecap="square"/>
<line x1="104.5" y1="713.5" x2="106.5" y2="713.5" stroke="#ffff00" stroke-linecap="square"/>
<line x1="106.5" y1="713.5" x2="106.5" y2="712.5" stroke="#ffff00" stroke-linecap="square"/>
<line x1="106.5" y1="712.5" x2="105.5" y2="712.5" stroke="#ffff00" stroke-linecap="square"/>
<line x1="110.5" y1="713.5" x2="110.5" y2="710.5" stroke="#ffff00" stroke-linecap="square"/>
<line x1="110.5" y1="710.5" x2="108.5" y2="712.5" stroke="#ffff00" stroke-linecap="square"/>
<line x1="108.5" y1="712.5" x2="110.5" y2="712.5" stroke="#ffff00" stroke-linecap="square"/>
<line x1="114.5" y1="710.5" x2="115.5" y2="710.5" stroke="#ffff00" stroke-linecap="square"/>
<line x1="115.5" y1="710.5" x2="115.5" y2="713.5" stroke="#ffff00" stroke-linecap="square"/>
<line x1="115.5" y1="713.5" x2="114.5" y2="713.5" stroke="#ffff00" stroke-linecap="square"/>
<line x1="85.5" y1="723.5" x2="85.5" y2="720.5" stroke="#ffffff" stroke-linecap="square"/>
<line x1="85.5" y1="720.5" x2="87.5" y2="720.5" stroke="#ffffff" stroke-linecap="square"/>
<line x1="87.5" y1="720.5" x2="87.5" y2="723.5" stroke="#ffffff" stroke-linecap="square"/>
<line x1="87.5" y1="723.5" x2="85.5" y2="723.5" stroke="#ffffff" stroke-linecap="square"/>
<line x1="85.5" y1="722.5" x2="87.5" y2="722.5" stroke="#ffffff" stroke-linecap="square"/>
<line x1="90.5" y1="723.5" x2="90.5" y2="720.5" stroke="#ffffff" stroke-linecap="square"/>
<line x1="90.5" y1="720.5" x2="92.5" y2="720.5" stroke="#ffffff" stroke-linecap="square"/>
<line x1="92.5" y1="720.5" x2="92.5" y2="723.5" stroke="#ffffff" stroke-linecap="square"/>
<line x1="92.5" y1="723.5" x2="90.5" y2="723.5" stroke="#ffffff" stroke-linecap="square"/>
<line x1="100.5" y1="720.5" x2="99.5" y2="720.5" stroke="#ffff00" stroke-linecap="square"/>
<line x1="99.5" y1="720.5" x2="99.5" y2="723.5" stroke="#ffff00" stroke-linecap="square"/>
<line x1="99.5" y1="723.5" x2="100.5" y2="723.5" stroke="#ffff00" stroke-linecap="square"/>
<line x1="106.5" y1="720.5" x2="104.5" y2="720.5" stroke="#ffff00" stroke-linecap="square"/>
<line x1="104.5" y1="720.5" x2="104.5" y2="723.5" stroke="#ffff00" stroke-linecap="square"/>
<line x1="104.5" y1="722.5" x2="106.5" y2="722.5" stroke="#ffff00" stroke-linecap="square"/>
<line x1="108.5" y1="720.5" x2="110.5" y2="720.5" stroke="#ffff00" stroke-linecap="square"/>
<line x1="110.5" y1="720.5" x2="110.5" y2="722.5" stroke="#ffff00" stroke-linecap="square"/>
<line x1="110.5" y1="722.5" x2="108.5" y2="722.5" stroke="#ffff00" stroke-linecap="square"/>
<line x1="108.5" y1="722.5" x2="108.5" y2="723.5" stroke="#ffff00" stroke-linecap="square"/>
<line x1="108.5" y1="723.5" x2="110.5" y2="723.5" stroke="#ffff00" stroke-linecap="square"/>
<line x1="114.5" y1="720.5" x2="115.5" y2="720.5" stroke="#ffff00" stroke-linecap="square"/>
<line x1="115.5" y1="720.5" x2="115.5" y2="723.5" stroke="#ffff00" stroke-linecap="square"/>
<line x1="115.5" y1="723.5" x2="114.5" y2="723.5" stroke="#ffff00" stroke-linecap="square"/>
<line x1="85.5" y1="734.5" x2="86.5" y2="731.5" stroke="#ffffff" stroke-linecap="square"/>
<line x1="86.5" y1="731.5" x2="87.5" y2="734.5" stroke="#ffffff" stroke-linecap="square"/>
<line x1="86.5" y1="733.5" x2="87.5" y2="733.5" stroke="#ffffff" stroke-linecap="square"/>
<line x1="90.5" y1="734.5" x2="90.5" y2="731.5" stroke="#ffffff" stroke-linecap="square"/>
<line x1="90.5" y1="731.5" x2="92.5" y2="731.5" stroke="#ffffff" stroke-linecap="square"/>
<line x1="92.5" y1="731.5" x2="92.5" y2="734.5" stroke="#ffffff" stroke-linecap="square"/>
<line x1="92.5" y1="734.5" x2="90.5" y2="734.5" stroke="#ffffff" stroke-linecap="square"/>
<line x1="100.5" y1="731.5" x2="99.5" y2="731.5" stroke="#ffff00" stroke-linecap="square"/>
<line x1="99.5" y1="731.5" x2="99.5" y2="734.5" stroke="#ffff00" stroke-linecap="square"/>
<line x1="99.5" y1="734.5" x2="100.5" y2="734.5" stroke="#ffff00" stroke-linecap="square"/>
<line x1="106.5" y1="731.5" x2="104.5" y2="731.5" stroke="#ffff00" stroke-linecap="square"/>
<line x1="104.5" y1="731.5" x2="104.5" y2="734.5" stroke="#ffff00" stroke-linecap="square"/>
<line x1="104.5" y1="733.5" x2="106.5" y2="733.5" stroke="#ffff00" stroke-linecap="square"/>
<line x1="108.5" y1="731.5" x2="110.5" y2="731.5" stroke="#ffff00" stroke-linecap="square"/>
<line x1="110.5" y1="731.5" x2="110.5" y2="734.5" stroke="#ffff00" stroke-linecap="square"/>
<line x1="110.5" y1="734.5" x2="108.5" y2="734.5" stroke="#ffff00" stroke-linecap="square"/>
<line x1="109.5" y1="733.5" x2="110.5" y2="733.5" stroke="#ffff00" stroke-linecap="square"/>
<line x1="114.5" y1="731.5" x2="115.5" y2="731.5" stroke="#ffff00" stroke-linecap="square"/>
<line x1="115.5" y1="731.5" x2="115.5" y2="734.5" stroke="#ffff00" stroke-linecap="square"/>
<line x1="115.5" y1="734.5" x2="114.5" y2="734.5" stroke="#ffff00" stroke-linecap="square"/>
<line x1="85.5" y1="744.5" x2="86.5" y2="741.5" stroke="#ffffff" stroke-linecap="square"/>
<line x1="86.5" y1="741.5" x2="87.5" y2="744.5" stroke="#ffffff" stroke-linecap="square"/>
<line x1="86.5" y1="743.5" x2="87.5" y2="743.5" stroke="#ffffff" stroke-linecap="square"/>
<line x1="90.5" y1="744.5" x2="90.5" y2="741.5" stroke="#ffffff" stroke-linecap="square"/>
<line x1="90.5" y1="741.5" x2="92.5" y2="741.5" stroke="#ffffff" stroke-linecap="square"/>
<line x1="92.5" y1="741.5" x2="92.5" y2="744.5" stroke="#ffffff" stroke-linecap="square"/>
<line x1="92.5" y1="744.5" x2="90.5" y2="744.5" stroke="#ffffff" stroke-linecap="square"/>
<line x1="95.5" y1="744.5" x2="95.5" y2="741.5" stroke="#ffffff" stroke-linecap="square"/>
<line x1="95.5" y1="741.5" x2="97.5" y2="741.5" stroke="#ffffff" stroke-linecap="square"/>
<line x1="97.5" y1="741.5" x2="97.5" y2="744.5" stroke="#ffffff" stroke-linecap="square"/>
<line x1="97.5" y1="744.5" x2="95.5" y2="744.5" stroke="#ffffff" stroke-linecap="square"/>
<line x1="105.5" y1="741.5" x2="104.5" y2="741.5" stroke="#ffff00" stroke-linecap="square"/>
<line x1="104.5" y1="741.5" x2="104.5" y2="744.5" stroke="#ffff00" stroke-linecap="square"/>
<line x1="104.5" y1="744.5" x2="105.5" y2="744.5" stroke="#ffff00" stroke-linecap="square"/>
<line x1="111.5" y1="741.5" x2="109.5" y2="741.5" stroke="#ffff00" stroke-linecap="square"/>
<line x1="109.5" y1="741.5" x2="109.5" y2="744.5" stroke="#ffff00" stroke-linecap="square"/>
<line x1="109.5" y1="743.5" x2="111.5" y2="743.5" stroke="#ffff00" stroke-linecap="square"/>
<line x1="113.5" y1="741.5" x2="115.5" y2="741.5" stroke="#ffff00" stroke-linecap="square"/>
<line x1="115.5" y1="741.5" x2="115.5" y2="744.5" stroke="#ffff00" stroke-linecap="square"/>
<line x1="115.5" y1="744.5" x2="113.5" y2="744.5" stroke="#ffff00" stroke-linecap="square"/>
<line x1="114.5" y1="743.5" x2="115.5" y2="743.5" stroke="#ffff00" stroke-linecap="square"/>
<line x1="119.5" y1="741.5" x2="120.5" y2="741.5" stroke="#ffff00" stroke-linecap="square"/>
<line x1="120.5" y1="741.5" x2="120.5" y2="744.5" stroke="#ffff00" stroke-linecap="square"/>
<line x1="120.5" y1="744.5" x2="119.5" y2="744.5" stroke="#ffff00" stroke-linecap="square"/>
<line x1="133.5" y1="695.5" x2="131.5" y2="695.5" stroke="#ffffff" stroke-linecap="square"/>
<line x1="131.5" y1="695.5" x2="131.5" y2="698.5" stroke="#ffffff" stroke-linecap="square"/>
<line x1="131.5" y1="698.5" x2="133.5" y2="698.5" stroke="#ffffff" stroke-linecap="square"/>
<line x1="136.5" y1="698.5" x2="136.5" y2="695.5" stroke="#ffffff" stroke-linecap="square"/>
<line x1="136.5" y1="695.5" x2="138.5" y2="695.5" stroke="#ffffff" stroke-linecap="square"/>
<line x1="138.5" y1="695.5" x2="138.5" y2="698.5" stroke="#ffffff" stroke-linecap="square"/>
<line x1="138.5" y1="698.5" x2="136.5" y2="698.5" stroke="#ffffff" stroke-linecap="square"/>
<line x1="141.5" y1="695.5" x2="141.5" y2="698.5" stroke="#ffffff" stroke-linecap="square"/>
<line x1="141.5" y1="698.5" x2="143.5" y2="698.5" stroke="#ffffff" stroke-linecap="square"/>
<line x1="143.5" y1="698.5" x2="143.5" y2="695.5" stroke="#ffffff" stroke-linecap="square"/>
<line x1="146.5" y1="695.5" x2="148.5" y2="695.5" stroke="#ffffff" stroke-linecap="square"/>
<line x1="147.5" y1="695.5" x2="147.5" y2="698.5" stroke="#ffffff" stroke-linecap="square"/>
<line x1="128.5" y1="710.5" x2="126.5" y2="710.5" stroke="#ffffff" stroke-linecap="square"/>
<line x1="126.5" y1="710.5" x2="126.5" y2="713.5" stroke="#ffffff" stroke-linecap="square"/>
<line x1="126.5" y1="713.5" x2="128.5" y2="713.5" stroke="#ffffff" stroke-linecap="square"/>
<line x1="131.5" y1="713.5" x2="131.5" y2="710.5" stroke="#ffffff" stroke-linecap="square"/>
<line x1="131.5" y1="710.5" x2="133.5" y2="710.5" stroke="#ffffff" stroke-linecap="square"/>
<line x1="133.5" y1="710.5" x2="133.5" y2="713.5" stroke="#ffffff" stroke-linecap="square"/>
<line x1="133.5" y1="713.5" x2="131.5" y2="713.5" stroke="#ffffff" stroke-linecap="square"/>
<line x1="136.5" y1="710.5" x2="136.5" y2="713.5" stroke="#ffffff" stroke-linecap="square"/>
<line x1="136.5" y1="713.5" x2="138.5" y2="713.5" stroke="#ffffff" stroke-linecap="square"/>
<line x1="138.5" y1="713.5" x2="138.5" y2="710.5" stroke="#ffffff" stroke-linecap="square"/>
<line x1="141.5" y1="710.5" x2="143.5" y2="710.5" stroke="#ffffff" stroke-linecap="square"/>
<line x1="142.5" y1="710.5" x2="142.5" y2="713.5" stroke="#ffffff" stroke-linecap="square"/>
<line x1="146.5" y1="713.5" x2="146.5" y2="710.5" stroke="#ffffff" stroke-linecap="square"/>
<line x1="146.5" y1="710.5" x2="148.5" y2="710.5" stroke="#ffffff" stroke-linecap="square"/>
<line x1="148.5" y1="710.5" x2="148.5" y2="713.5" stroke="#ffffff" stroke-linecap="square"/>
<line x1="148.5" y1="713.5" x2="146.5" y2="713.5" stroke="#ffffff" stroke-linecap="square"/>
<line x1="138.5" y1="756.5" x2="136.5" y2="756.5" stroke="#ffffff" stroke-linecap="square"/>
<line x1="136.5" y1="756.5" x2="136.5" y2="759.5" stroke="#ffffff" stroke-linecap="square"/>
<line x1="136.5" y1="759.5" x2="138.5" y2="759.5" stroke="#ffffff" stroke-linecap="square"/>
<line x1="141.5" y1="756.5" x2="143.5" y2="756.5" stroke="#ffffff" stroke-linecap="square"/>
<line x1="142.5" y1="756.5" x2="142.5" y2="759.5" stroke="#ffffff" stroke-linecap="square"/>
<line x1="141.5" y1="759.5" x2="143.5" y2="759.5" stroke="#ffffff" stroke-linecap="square"/>
<line x1="146.5" y1="759.5" x2="146.5" y2="756.5" stroke="#ffffff" stroke-linecap="square"/>
<line x1="146.5" y1="756.5" x2="148.5" y2="759.5" stroke="#ffffff" stroke-linecap="square"/>
<line x1="148.5" y1="759.5" x2="148.5" y2="756.5" stroke="#ffffff" stroke-linecap="square"/>
<line x1="87.5" y1="753.5" x2="85.5" y2="753.5" stroke="#90ee90" stroke-linecap="square"/>
<line x1="85.5" y1="753.5" x2="85.5" y2="756.5" stroke="#90ee90" stroke-linecap="square"/>
<line x1="85.5" y1="756.5" x2="87.5" y2="756.5" stroke="#90ee90" stroke-linecap="square"/>
<line x1="89.5" y1="756.5" x2="90.5" y2="753.5" stroke="#90ee90" stroke-linecap="square"/>
<line x1="90.5" y1="753.5" x2="91.5" y2="756.5" stroke="#90ee90" stroke-linecap="square"/>
<line x1="90.5" y1="755.5" x2="91.5" y2="755.5" stroke="#90ee90" stroke-linecap="square"/>
<line x1="93.5" y1="756.5" x2="93.5" y2="753.5" stroke="#90ee90" stroke-linecap="square"/>
<line x1="93.5" y1="753.5" x2="95.5" y2="753.5" stroke="#90ee90" stroke-linecap="square"/>
<line x1="95.5" y1="753.5" x2="95.5" y2="756.5" stroke="#90ee90" stroke-linecap="square"/>
<line x1="93.5" y1="755.5" x2="95.5" y2="755.5" stroke="#90ee90" stroke-linecap="square"/>
<line x1="97.5" y1="756.5" x2="97.5" y2="753.5" stroke="#90ee90" stroke-linecap="square"/>
<line x1="97.5" y1="753.5" x2="99.5" y2="753.5" stroke="#90ee90" stroke-linecap="square"/>
<line x1="99.5" y1="753.5" x2="99.5" y2="756.5" stroke="#90ee90" stroke-linecap="square"/>
<line x1="97.5" y1="755.5" x2="99.5" y2="755.5" stroke="#90ee90" stroke-linecap="square"/>
<line x1="101.5" y1="753.5" x2="102.5" y2="755.5" stroke="#90ee90" stroke-linecap="square"/>
<line x1="102.5" y1="755.5" x2="103.5" y2="753.5" stroke="#90ee90" stroke-linecap="square"/>
<line x1="102.5" y1="755.5" x2="102.5" y2="756.5" stroke="#90ee90" stroke-linecap="square"/>
<line x1="109.5" y1="756.5" x2="109.5" y2="753.5" stroke="#90ee90" stroke-linecap="square"/>
<line x1="109.5" y1="753.5" x2="110.5" y2="755.5" stroke="#90ee90" stroke-linecap="square"/>
<line x1="110.5" y1="755.5" x2="111.5" y2="753.5" stroke="#90ee90" stroke-linecap="square"/>
<line x1="111.5" y1="753.5" x2="111.5" y2="756.5" stroke="#90ee90" stroke-linecap="square"/>
<line x1="113.5" y1="756.5" x2="113.5" y2="753.5" stroke="#90ee90" stroke-linecap="square"/>
<line x1="113.5" y1="753.5" x2="115.5" y2="753.5" stroke="#90ee90" stroke-linecap="square"/>
<line x1="115.5" y1="753.5" x2="115.5" y2="756.5" stroke="#90ee90" stroke-linecap="square"/>
<line x1="115.5" y1="756.5" x2="113.5" y2="756.5" stroke="#90ee90" stroke-linecap="square"/>
<line x1="117.5" y1="756.5" x2="117.5" y2="753.5" stroke="#90ee90" stroke-linecap="square"/>
<line x1="117.5" y1="753.5" x2="119.5" y2="753.5" stroke="#90ee90" stroke-linecap="square"/>
<line x1="119.5" y1="753.5" x2="119.5" y2="756.5" stroke="#90ee90" stroke-linecap="square"/>
<line x1="119.5" y1="756.5" x2="117.5" y2="756.5" stroke="#90ee90" stroke-linecap="square"/>
<line x1="123.5" y1="753.5" x2="121.5" y2="753.5" stroke="#90ee90" stroke-linecap="square"/>
<line x1="121.5" y1="753.5" x2="121.5" y2="756.5" stroke="#90ee90" stroke-linecap="square"/>
<line x1="121.5" y1="756.5" x2="123.5" y2="756.5" stroke="#90ee90" stroke-linecap="square"/>
<line x1="121.5" y1="755.5" x2="123.5" y2="755.5" stroke="#90ee90" stroke-linecap="square"/>
<rect x="85" y="759" width="4" height="3.5" fill="#ffa500"/>
<rect x="86.5" y="760.5" width="1" height="1" fill="#402000"/>
<circle cx="734.5" cy="159.5" r="5" fill="none" stroke="#00ff00" stroke-width="1"/>
<circle cx="734.5" cy="466.5" r="5" fill="none" stroke="#00ff00" stroke-width="1"/>
<circle cx="734.5" cy="630.5" r="5" fill="none" stroke="#00ff00" stroke-width="1"/>
<circle cx="56.5" cy="604.5" r="5" fill="none" stroke="#00ff00" stroke-width="1"/>
<circle cx="56.5" cy="630.5" r="5" fill="none" stroke="#00ff00" stroke-width="1"/>
<circle cx="46.5" cy="742.5" r="5" fill="none" stroke="#00ff00" stroke-width="1"/>
<circle cx="51.5" cy="819.5" r="5" fill="none" stroke="#00ff00" stroke-width="1"/>
<circle cx="51.5" cy="829.5" r="5" fill="none" stroke="#00ff00" stroke-width="1"/>
<circle cx="51.5" cy="849.5" r="5" fill="none" stroke="#00ff00" stroke-width="1"/>
<circle cx="51.5" cy="860.5" r="5" fill="none" stroke="#00ff00" stroke-width="1"/>
<line x1="242.5" y1="65.5" x2="242.5" y2="60.5" stroke="#90ee90" stroke-linecap="square"/>
<line x1="242.5" y1="60.5" x2="243.5" y2="59.5" stroke="#90ee90" stroke-linecap="square"/>
<line x1="243.5" y1="59.5" x2="245.5" y2="59.5" stroke="#90ee90" stroke-linecap="square"/>
<line x1="245.5" y1="59.5" x2="246.5" y2="60.5" stroke="#90ee90" stroke-linecap="square"/>
<line x1="246.5" y1="60.5" x2="246.5" y2="65.5" stroke="#90ee90" stroke-linecap="square"/>
<line x1="242.5" y1="62.5" x2="246.5" y2="62.5" stroke="#90ee90" stroke-linecap="square"/>
<line x1="251.5" y1="59.5" x2="251.5" y2="65.5" stroke="#90ee90" stroke-linecap="square"/>
<line x1="251.5" y1="65.5" x2="255.5" y2="65.5" stroke="#90ee90" stroke-linecap="square"/>
<line x1="261.5" y1="65.5" x2="260.5" y2="64.5" stroke="#90ee90" stroke-linecap="square"/>
<line x1="260.5" y1="64.5" x2="260.5" y2="60.5" stroke="#90ee90" stroke-linecap="square"/>
<line x1="260.5" y1="60.5" x2="261.5" y2="59.5" stroke="#90ee90" stroke-linecap="square"/>
<line x1="261.5" y1="59.5" x2="263.5" y2="59.5" stroke="#90ee90" stroke-linecap="square"/>
<line x1="263.5" y1="59.5" x2="264.5" y2="60.5" stroke="#90ee90" stroke-linecap="square"/>
<line x1="264.5" y1="60.5" x2="264.5" y2="64.5" stroke="#90ee90" stroke-linecap="square"/>
<line x1="264.5" y1="64.5" x2="263.5" y2="65.5" stroke="#90ee90" stroke-linecap="square"/>
<line x1="263.5" y1="65.5" x2="261.5" y2="65.5" stroke="#90ee90" stroke-linecap="square"/>
<line x1="273.5" y1="60.5" x2="273.5" y2="59.5" stroke="#90ee90" stroke-linecap="square"/>
<line x1="273.5" y1="59.5" x2="270.5" y2="59.5" stroke="#90ee90" stroke-linecap="square"/>
<line x1="270.5" y1="59.5" x2="269.5" y2="60.5" stroke="#90ee90" stroke-linecap="square"/>
<line x1="269.5" y1="60.5" x2="269.5" y2="64.5" stroke="#90ee90" stroke-linecap="square"/>
<line x1="269.5" y1="64.5" x2="270.5" y2="65.5" stroke="#90ee90" stroke-linecap="square"/>
<line x1="270.5" y1="65.5" x2="273.5" y2="65.5" stroke="#90ee90" stroke-linecap="square"/>
<line x1="273.5" y1="65.5" x2="273.5" y2="64.5" stroke="#90ee90" stroke-linecap="square"/>
<rect x="279" y="62" width="5" height="2" fill="#90ee90"/>
<line x1="287.5" y1="65.5" x2="287.5" y2="60.5" stroke="#90ee90" stroke-linecap="square"/>
<line x1="287.5" y1="60.5" x2="288.5" y2="59.5" stroke="#90ee90" stroke-linecap="square"/>
<line x1="288.5" y1="59.5" x2="290.5" y2="59.5" stroke="#90ee90" stroke-linecap="square"/>
<line x1="290.5" y1="59.5" x2="291.5" y2="60.5" stroke="#90ee90" stroke-linecap="square"/>
<line x1="291.5" y1="60.5" x2="291.5" y2="65.5" stroke="#90ee90" stroke-linecap="square"/>
<line x1="287.5" y1="62.5" x2="291.5" y2="62.5" stroke="#90ee90" stroke-linecap="square"/>
<line x1="297.5" y1="65.5" x2="296.5" y2="64.5" stroke="#90ee90" stroke-linecap="square"/>
<line x1="296.5" y1="64.5" x2="296.5" y2="60.5" stroke="#90ee90" stroke-linecap="square"/>
<line x1="296.5" y1="60.5" x2="297.5" y2="59.5" stroke="#90ee90" stroke-linecap="square"/>
<line x1="297.5" y1="59.5" x2="299.5" y2="59.5" stroke="#90ee90" stroke-linecap="square"/>
<line x1="299.5" y1="59.5" x2="300.5" y2="60.5" stroke="#90ee90" stroke-linecap="square"/>
<line x1="300.5" y1="60.5" x2="300.5" y2="64.5" stroke="#90ee90" stroke-linecap="square"/>
<line x1="300.5" y1="64.5" x2="299.5" y2="65.5" stroke="#90ee90" stroke-linecap="square"/>
<line x1="299.5" y1="65.5" x2="297.5" y2="65.5" stroke="#90ee90" stroke-linecap="square"/>
<line x1="309.5" y1="60.5" x2="309.5" y2="59.5" stroke="#90ee90" stroke-linecap="square"/>
<line x1="309.5" y1="59.5" x2="306.5" y2="59.5" stroke="#90ee90" stroke-linecap="square"/>
<line x1="306.5" y1="59.5" x2="305.5" y2="60.5" stroke="#90ee90" stroke-linecap="square"/>
<line x1="305.5" y1="60.5" x2="305.5" y2="64.5" stroke="#90ee90" stroke-linecap="square"/>
<line x1="305.5" y1="64.5" x2="306.5" y2="65.5" stroke="#90ee90" stroke-linecap="square"/>
<line x1="306.5" y1="65.5" x2="309.5" y2="65.5" stroke="#90ee90" stroke-linecap="square"/>
<line x1="309.5" y1="65.5" x2="309.5" y2="64.5" stroke="#90ee90" stroke-linecap="square"/>
<line x1="315.5" y1="65.5" x2="314.5" y2="64.5" stroke="#90ee90" stroke-linecap="square"/>
<line x1="314.5" y1="64.5" x2="314.5" y2="60.5" stroke="#90ee90" stroke-linecap="square"/>
<line x1="314.5" y1="60.5" x2="315.5" y2="59.5" stroke="#90ee90" stroke-linecap="square"/>
<line x1="315.5" y1="59.5" x2="317.5" y2="59.5" stroke="#90ee90" stroke-linecap="square"/>
<line x1="317.5" y1="59.5" x2="318.5" y2="60.5" stroke="#90ee90" stroke-linecap="square"/>
<line x1="318.5" y1="60.5" x2="318.5" y2="64.5" stroke="#90ee90" stroke-linecap="square"/>
<line x1="318.5" y1="64.5" x2="317.5" y2="65.5" stroke="#90ee90" stroke-linecap="square"/>
<line x1="317.5" y1="65.5" x2="315.5" y2="65.5" stroke="#90ee90" stroke-linecap="square"/>
<line x1="242.5" y1="76.5" x2="242.5" y2="70.5" stroke="#90ee90" stroke-linecap="square"/>
<line x1="246.5" y1="76.5" x2="246.5" y2="70.5" stroke="#90ee90" stroke-linecap="square"/>
<line x1="242.5" y1="73.5" x2="246.5" y2="73.5" stroke="#90ee90" stroke-linecap="square"/>
<line x1="251.5" y1="70.5" x2="251.5" y2="75.5" stroke="#90ee90" stroke-linecap="square"/>
<line x1="251.5" y1="75.5" x2="252.5" y2="76.5" stroke="#90ee90" stroke-linecap="square"/>
<line x1="252.5" y1="76.5" x2="254.5" y2="76.5" stroke="#90ee90" stroke-linecap="square"/>
<line x1="254.5" y1="76.5" x2="255.5" y2="75.5" stroke="#90ee90" stroke-linecap="square"/>
<line x1="255.5" y1="75.5" x2="255.5" y2="70.5" stroke="#90ee90" stroke-linecap="square"/>
<line x1="264.5" y1="70.5" x2="261.5" y2="70.5" stroke="#90ee90" stroke-linecap="square"/>
<line x1="261.5" y1="70.5" x2="260.5" y2="71.5" stroke="#90ee90" stroke-linecap="square"/>
<line x1="260.5" y1="71.5" x2="260.5" y2="72.5" stroke="#90ee90" stroke-linecap="square"/>
<line x1="260.5" y1="72.5" x2="261.5" y2="73.5" stroke="#90ee90" stroke-linecap="square"/>
<line x1="261.5" y1="73.5" x2="263.5" y2="73.5" stroke="#90ee90" stroke-linecap="square"/>
<line x1="263.5" y1="73.5" x2="264.5" y2="74.5" stroke="#90ee90" stroke-linecap="square"/>
<line x1="264.5" y1="74.5" x2="264.5" y2="75.5" stroke="#90ee90" stroke-linecap="square"/>
<line x1="264.5" y1="75.5" x2="263.5" y2="76.5" stroke="#90ee90" stroke-linecap="square"/>
<line x1="263.5" y1="76.5" x2="260.5" y2="76.5" stroke="#90ee90" stroke-linecap="square"/>
<line x1="273.5" y1="70.5" x2="269.5" y2="70.5" stroke="#90ee90" stroke-linecap="square"/>
<line x1="269.5" y1="70.5" x2="269.5" y2="76.5" stroke="#90ee90" stroke-linecap="square"/>
<line x1="269.5" y1="76.5" x2="273.5" y2="76.5" stroke="#90ee90" stroke-linecap="square"/>
<line x1="269.5" y1="73.5" x2="272.5" y2="73.5" stroke="#90ee90" stroke-linecap="square"/>
<line x1="278.5" y1="70.5" x2="282.5" y2="70.5" stroke="#90ee90" stroke-linecap="square"/>
<line x1="280.5" y1="70.5" x2="280.5" y2="76.5" stroke="#90ee90" stroke-linecap="square"/>
<rect x="288" y="73" width="5" height="2" fill="#90ee90"/>
<line x1="296.5" y1="76.5" x2="296.5" y2="70.5" stroke="#90ee90" stroke-linecap="square"/>
<line x1="300.5" y1="76.5" x2="300.5" y2="70.5" stroke="#90ee90" stroke-linecap="square"/>
<line x1="296.5" y1="73.5" x2="300.5" y2="73.5" stroke="#90ee90" stroke-linecap="square"/>
<line x1="305.5" y1="70.5" x2="305.5" y2="75.5" stroke="#90ee90" stroke-linecap="square"/>
<line x1="305.5" y1="75.5" x2="306.5" y2="76.5" stroke="#90ee90" stroke-linecap="square"/>
<line x1="306.5" y1="76.5" x2="308.5" y2="76.5" stroke="#90ee90" stroke-linecap="square"/>
<line x1="308.5" y1="76.5" x2="309.5" y2="75.5" stroke="#90ee90" stroke-linecap="square"/>
<line x1="309.5" y1="75.5" x2="309.5" y2="70.5" stroke="#90ee90" stroke-linecap="square"/>
<line x1="318.5" y1="70.5" x2="315.5" y2="70.5" stroke="#90ee90" stroke-linecap="square"/>
<line x1="315.5" y1="70.5" x2="314.5" y2="71.5" stroke="#90ee90" stroke-linecap="square"/>
<line x1="314.5" y1="71.5" x2="314.5" y2="72.5" stroke="#90ee90" stroke-linecap="square"/>
<line x1="314.5" y1="72.5" x2="315.5" y2="73.5" stroke="#90ee90" stroke-linecap="square"/>
<line x1="315.5" y1="73.5" x2="317.5" y2="73.5" stroke="#90ee90" stroke-linecap="square"/>
<line x1="317.5" y1="73.5" x2="318.5" y2="74.5" stroke="#90ee90" stroke-linecap="square"/>
<line x1="318.5" y1="74.5" x2="318.5" y2="75.5" stroke="#90ee90" stroke-linecap="square"/>
<line x1="318.5" y1="75.5" x2="317.5" y2="76.5" stroke="#90ee90" stroke-linecap="square"/>
<line x1="317.5" y1="76.5" x2="314.5" y2="76.5" stroke="#90ee90" stroke-linecap="square"/>
<line x1="327.5" y1="70.5" x2="323.5" y2="70.5" stroke="#90ee90" stroke-linecap="square"/>
<line x1="323.5" y1="70.5" x2="323.5" y2="76.5" stroke="#90ee90" stroke-linecap="square"/>
<line x1="323.5" y1="76.5" x2="327.5" y2="76.5" stroke="#90ee90" stroke-linecap="square"/>
<line x1="323.5" y1="73.5" x2="326.5" y2="73.5" stroke="#90ee90" stroke-linecap="square"/>
<line x1="333.5" y1="70.5" x2="337.5" y2="70.5" stroke="#90ee90" stroke-linecap="square"/>
<line x1="335.5" y1="70.5" x2="335.5" y2="76.5" stroke="#90ee90" stroke-linecap="square"/>
<line x1="342.5" y1="70.5" x2="345.5" y2="70.5" stroke="#90ee90" stroke-linecap="square"/>
<line x1="345.5" y1="70.5" x2="346.5" y2="71.5" stroke="#90ee90" stroke-linecap="square"/>
<line x1="346.5" y1="71.5" x2="346.5" y2="72.5" stroke="#90ee90" stroke-linecap="square"/>
<line x1="346.5" y1="72.5" x2="345.5" y2="73.5" stroke="#90ee90" stroke-linecap="square"/>
<line x1="345.5" y1="73.5" x2="343.5" y2="73.5" stroke="#90ee90" stroke-linecap="square"/>
<line x1="343.5" y1="73.5" x2="342.5" y2="74.5" stroke="#90ee90" stroke-linecap="square"/>
<line x1="342.5" y1="74.5" x2="342.5" y2="75.5" stroke="#90ee90" stroke-linecap="square"/>
<line x1="342.5" y1="75.5" x2="343.5" y2="76.5" stroke="#90ee90" stroke-linecap="square"/>
<line x1="343.5" y1="76.5" x2="346.5" y2="76.5" stroke="#90ee90" stroke-linecap="square"/>
<line x1="242.5" y1="372.5" x2="242.5" y2="367.5" stroke="#90ee90" stroke-linecap="square"/>
<line x1="242.5" y1="367.5" x2="243.5" y2="366.5" stroke="#90ee90" stroke-linecap="square"/>
<line x1="243.5" y1="366.5" x2="245.5" y2="366.5" stroke="#90ee90" stroke-linecap="square"/>
<line x1="245.5" y1="366.5" x2="246.5" y2="367.5" stroke="#90ee90" stroke-linecap="square"/>
<line x1="246.5" y1="367.5" x2="246.5" y2="372.5" stroke="#90ee90" stroke-linecap="square"/>
<line x1="242.5" y1="369.5" x2="246.5" y2="369.5" stroke="#90ee90" stroke-linecap="square"/>
<line x1="251.5" y1="366.5" x2="251.5" y2="372.5" stroke="#90ee90" stroke-linecap="square"/>
<line x1="251.5" y1="372.5" x2="255.5" y2="372.5" stroke="#90ee90" stroke-linecap="square"/>
<line x1="261.5" y1="372.5" x2="260.5" y2="371.5" stroke="#90ee90" stroke-linecap="square"/>
<line x1="260.5" y1="371.5" x2="260.5" y2="367.5" stroke="#90ee90" stroke-linecap="square"/>
<line x1="260.5" y1="367.5" x2="261.5" y2="366.5" stroke="#90ee90" stroke-linecap="square"/>
<line x1="261.5" y1="366.5" x2="263.5" y2="366.5" stroke="#90ee90" stroke-linecap="square"/>
<line x1="263.5" y1="366.5" x2="264.5" y2="367.5" stroke="#90ee90" stroke-linecap="square"/>
<line x1="264.5" y1="367.5" x2="264.5" y2="371.5" stroke="#90ee90" stroke-linecap="square"/>
<line x1="264.5" y1="371.5" x2="263.5" y2="372.5" stroke="#90ee90" stroke-linecap="square"/>
<line x1="263.5" y1="372.5" x2="261.5" y2="372.5" stroke="#90ee90" stroke-linecap="square"/>
<line x1="273.5" y1="367.5" x2="273.5" y2="366.5" stroke="#90ee90" stroke-linecap="square"/>
<line x1="273.5" y1="366.5" x2="270.5" y2="366.5" stroke="#90ee90" stroke-linecap="square"/>
<line x1="270.5" y1="366.5" x2="269.5" y2="367.5" stroke="#90ee90" stroke-linecap="square"/>
<line x1="269.5" y1="367.5" x2="269.5" y2="371.5" stroke="#90ee90" stroke-linecap="square"/>
<line x1="269.5" y1="371.5" x2="270.5" y2="372.5" stroke="#90ee90" stroke-linecap="square"/>
<line x1="270.5" y1="372.5" x2="273.5" y2="372.5" stroke="#90ee90" stroke-linecap="square"/>
<line x1="273.5" y1="372.5" x2="273.5" y2="371.5" stroke="#90ee90" stroke-linecap="square"/>
<rect x="279" y="369" width="5" height="2" fill="#90ee90"/>
<line x1="287.5" y1="372.5" x2="287.5" y2="367.5" stroke="#90ee90" stroke-linecap="square"/>
<line x1="287.5" y1="367.5" x2="288.5" y2="366.5" stroke="#90ee90" stroke-linecap="square"/>
<line x1="288.5" y1="366.5" x2="290.5" y2="366.5" stroke="#90ee90" stroke-linecap="square"/>
<line x1="290.5" y1="366.5" x2="291.5" y2="367.5" stroke="#90ee90" stroke-linecap="square"/>
<line x1="291.5" y1="367.5" x2="291.5" y2="372.5" stroke="#90ee90" stroke-linecap="square"/>
<line x1="287.5" y1="369.5" x2="291.5" y2="369.5" stroke="#90ee90" stroke-linecap="square"/>
<line x1="297.5" y1="372.5" x2="296.5" y2="371.5" stroke="#90ee90" stroke-linecap="square"/>
<line x1="296.5" y1="371.5" x2="296.5" y2="367.5" stroke="#90ee90" stroke-linecap="square"/>
<line x1="296.5" y1="367.5" x2="297.5" y2="366.5" stroke="#90ee90" stroke-linecap="square"/>
<line x1="297.5" y1="366.5" x2="299.5" y2="366.5" stroke="#90ee90" stroke-linecap="square"/>
<line x1="299.5" y1="366.5" x2="300.5" y2="367.5" stroke="#90ee90" stroke-linecap="square"/>
<line x1="300.5" y1="367.5" x2="300.5" y2="371.5" stroke="#90ee90" stroke-linecap="square"/>
<line x1="300.5" y1="371.5" x2="299.5" y2="372.5" stroke="#90ee90" stroke-linecap="square"/>
<line x1="299.5" y1="372.5" x2="297.5" y2="372.5" stroke="#90ee90" stroke-linecap="square"/>
<line x1="309.5" y1="367.5" x2="309.5" y2="366.5" stroke="#90ee90" stroke-linecap="square"/>
<line x1="309.5" y1="366.5" x2="306.5" y2="366.5" stroke="#90ee90" stroke-linecap="square"/>
<line x1="306.5" y1="366.5" x2="305.5" y2="367.5" stroke="#90ee90" stroke-linecap="square"/>
<line x1="305.5" y1="367.5" x2="305.5" y2="371.5" stroke="#90ee90" stroke-linecap="square"/>
<line x1="305.5" y1="371.5" x2="306.5" y2="372.5" stroke="#90ee90" stroke-linecap="square"/>
<line x1="306.5" y1="372.5" x2="309.5" y2="372.5" stroke="#90ee90" stroke-linecap="square"/>
<line x1="309.5" y1="372.5" x2="309.5" y2="371.5" stroke="#90ee90" stroke-linecap="square"/>
<line x1="315.5" y1="372.5" x2="314.5" y2="371.5" stroke="#90ee90" stroke-linecap="square"/>
<line x1="314.5" y1="371.5" x2="314.5" y2="367.5" stroke="#90ee90" stroke-linecap="square"/>
<line x1="314.5" y1="367.5" x2="315.5" y2="366.5" stroke="#90ee90" stroke-linecap="square"/>
<line x1="315.5" y1="366.5" x2="317.5" y2="366.5" stroke="#90ee90" stroke-linecap="square"/>
<line x1="317.5" y1="366.5" x2="318.5" y2="367.5" stroke="#90ee90" stroke-linecap="square"/>
<line x1="318.5" y1="367.5" x2="318.5" y2="371.5" stroke="#90ee90" stroke-linecap="square"/>
<line x1="318.5" y1="371.5" x2="317.5" y2="372.5" stroke="#90ee90" stroke-linecap="square"/>
<line x1="317.5" y1="372.5" x2="315.5" y2="372.5" stroke="#90ee90" stroke-linecap="square"/>
<line x1="242.5" y1="382.5" x2="242.5" y2="376.5" stroke="#90ee90" stroke-linecap="square"/>
<line x1="246.5" y1="382.5" x2="246.5" y2="376.5" stroke="#90ee90" stroke-linecap="square"/>
<line x1="242.5" y1="379.5" x2="246.5" y2="379.5" stroke="#90ee90" stroke-linecap="square"/>
<line x1="251.5" y1="376.5" x2="251.5" y2="381.5" stroke="#90ee90" stroke-linecap="square"/>
<line x1="251.5" y1="381.5" x2="252.5" y2="382.5" stroke="#90ee90" stroke-linecap="square"/>
<line x1="252.5" y1="382.5" x2="254.5" y2="382.5" stroke="#90ee90" stroke-linecap="square"/>
<line x1="254.5" y1="382.5" x2="255.5" y2="381.5" stroke="#90ee90" stroke-linecap="square"/>
<line x1="255.5" y1="381.5" x2="255.5" y2="376.5" stroke="#90ee90" stroke-linecap="square"/>
<line x1="264.5" y1="376.5" x2="261.5" y2="376.5" stroke="#90ee90" stroke-linecap="square"/>
<line x1="261.5" y1="376.5" x2="260.5" y2="377.5" stroke="#90ee90" stroke-linecap="square"/>
<line x1="260.5" y1="377.5" x2="260.5" y2="378.5" stroke="#90ee90" stroke-linecap="square"/>
<line x1="260.5" y1="378.5" x2="261.5" y2="379.5" stroke="#90ee90" stroke-linecap="square"/>
<line x1="261.5" y1="379.5" x2="263.5" y2="379.5" stroke="#90ee90" stroke-linecap="square"/>
<line x1="263.5" y1="379.5" x2="264.5" y2="380.5" stroke="#90ee90" stroke-linecap="square"/>
<line x1="264.5" y1="380.5" x2="264.5" y2="381.5" stroke="#90ee90" stroke-linecap="square"/>
<line x1="264.5" y1="381.5" x2="263.5" y2="382.5" stroke="#90ee90" stroke-linecap="square"/>
<line x1="263.5" y1="382.5" x2="260.5" y2="382.5" stroke="#90ee90" stroke-linecap="square"/>
<line x1="273.5" y1="376.5" x2="269.5" y2="376.5" stroke="#90ee90" stroke-linecap="square"/>
<line x1="269.5" y1="376.5" x2="269.5" y2="382.5" stroke="#90ee90" stroke-linecap="square"/>
<line x1="269.5" y1="382.5" x2="273.5" y2="382.5" stroke="#90ee90" stroke-linecap="square"/>
<line x1="269.5" y1="379.5" x2="272.5" y2="379.5" stroke="#90ee90" stroke-linecap="square"/>
<line x1="278.5" y1="376.5" x2="282.5" y2="376.5" stroke="#90ee90" stroke-linecap="square"/>
<line x1="280.5" y1="376.5" x2="280.5" y2="382.5" stroke="#90ee90" stroke-linecap="square"/>
<rect x="288" y="379" width="5" height="2" fill="#90ee90"/>
<line x1="296.5" y1="382.5" x2="296.5" y2="376.5" stroke="#90ee90" stroke-linecap="square"/>
<line x1="300.5" y1="382.5" x2="300.5" y2="376.5" stroke="#90ee90" stroke-linecap="square"/>
<line x1="296.5" y1="379.5" x2="300.5" y2="379.5" stroke="#90ee90" stroke-linecap="square"/>
<line x1="305.5" y1="376.5" x2="305.5" y2="381.5" stroke="#90ee90" stroke-linecap="square"/>
<line x1="305.5" y1="381.5" x2="306.5" y2="382.5" stroke="#90ee90" stroke-linecap="square"/>
<line x1="306.5" y1="382.5" x2="308.5" y2="382.5" stroke="#90ee90" stroke-linecap="square"/>
<line x1="308.5" y1="382.5" x2="309.5" y2="381.5" stroke="#90ee90" stroke-linecap="square"/>
<line x1="309.5" y1="381.5" x2="309.5" y2="376.5" stroke="#90ee90" stroke-linecap="square"/>
<line x1="318.5" y1="376.5" x2="315.5" y2="376.5" stroke="#90ee90" stroke-linecap="square"/>
<line x1="315.5" y1="376.5" x2="314.5" y2="377.5" stroke="#90ee90" stroke-linecap="square"/>
<line x1="314.5" y1="377.5" x2="314.5" y2="378.5" stroke="#90ee90" stroke-linecap="square"/>
<line x1="314.5" y1="378.5" x2="315.5" y2="379.5" stroke="#90ee90" stroke-linecap="square"/>
<line x1="315.5" y1="379.5" x2="317.5" y2="379.5" stroke="#90ee90" stroke-linecap="square"/>
<line x1="317.5" y1="379.5" x2="318.5" y2="380.5" stroke="#90ee90" stroke-linecap="square"/>
<line x1="318.5" y1="380.5" x2="318.5" y2="381.5" stroke="#90ee90" stroke-linecap="square"/>
<line x1="318.5" y1="381.5" x2="317.5" y2="382.5" stroke="#90ee90" stroke-linecap="square"/>
<line x1="317.5" y1="382.5" x2="314.5" y2="382.5" stroke="#90ee90" stroke-linecap="square"/>
<line x1="327.5" y1="376.5" x2="323.5" y2="376.5" stroke="#90ee90" stroke-linecap="square"/>
<line x1="323.5" y1="376.5" x2="323.5" y2="382.5" stroke="#90ee90" stroke-linecap="square"/>
<line x1="323.5" y1="382.5" x2="327.5" y2="382.5" stroke="#90ee90" stroke-linecap="square"/>
<line x1="323.5" y1="379.5" x2="326.5" y2="379.5" stroke="#90ee90" stroke-linecap="square"/>
<line x1="333.5" y1="376.5" x2="337.5" y2="376.5" stroke="#90ee90" stroke-linecap="square"/>
<line x1="335.5" y1="376.5" x2="335.5" y2="382.5" stroke="#90ee90" stroke-linecap="square"/>
<line x1="343.5" y1="376.5" x2="345.5" y2="376.5" stroke="#90ee90" stroke-linecap="square"/>
<line x1="344.5" y1="376.5" x2="344.5" y2="382.5" stroke="#90ee90" stroke-linecap="square"/>
<line x1="343.5" y1="382.5" x2="345.5" y2="382.5" stroke="#90ee90" stroke-linecap="square"/>
<line x1="351.5" y1="382.5" x2="351.5" y2="376.5" stroke="#90ee90" stroke-linecap="square"/>
<line x1="351.5" y1="376.5" x2="355.5" y2="382.5" stroke="#90ee90" stroke-linecap="square"/>
<line x1="355.5" y1="382.5" x2="355.5" y2="376.5" stroke="#90ee90" stroke-linecap="square"/>
<line x1="361.5" y1="376.5" x2="363.5" y2="376.5" stroke="#90ee90" stroke-linecap="square"/>
<line x1="362.5" y1="376.5" x2="362.5" y2="382.5" stroke="#90ee90" stroke-linecap="square"/>
<line x1="361.5" y1="382.5" x2="363.5" y2="382.5" stroke="#90ee90" stroke-linecap="square"/>
<line x1="369.5" y1="376.5" x2="373.5" y2="376.5" stroke="#90ee90" stroke-linecap="square"/>
<line x1="371.5" y1="376.5" x2="371.5" y2="382.5" stroke="#90ee90" stroke-linecap="square"/>
<line x1="242.5" y1="536.5" x2="242.5" y2="531.5" stroke="#90ee90" stroke-linecap="square"/>
<line x1="242.5" y1="531.5" x2="243.5" y2="530.5" stroke="#90ee90" stroke-linecap="square"/>
<line x1="243.5" y1="530.5" x2="245.5" y2="530.5" stroke="#90ee90" stroke-linecap="square"/>
<line x1="245.5" y1="530.5" x2="246.5" y2="531.5" stroke="#90ee90" stroke-linecap="square"/>
<line x1="246.5" y1="531.5" x2="246.5" y2="536.5" stroke="#90ee90" stroke-linecap="square"/>
<line x1="242.5" y1="533.5" x2="246.5" y2="533.5" stroke="#90ee90" stroke-linecap="square"/>
<line x1="251.5" y1="530.5" x2="251.5" y2="536.5" stroke="#90ee90" stroke-linecap="square"/>
<line x1="251.5" y1="536.5" x2="255.5" y2="536.5" stroke="#90ee90" stroke-linecap="square"/>
<line x1="261.5" y1="536.5" x2="260.5" y2="535.5" stroke="#90ee90" stroke-linecap="square"/>
<line x1="260.5" y1="535.5" x2="260.5" y2="531.5" stroke="#90ee90" stroke-linecap="square"/>
<line x1="260.5" y1="531.5" x2="261.5" y2="530.5" stroke="#90ee90" stroke-linecap="square"/>
<line x1="261.5" y1="530.5" x2="263.5" y2="530.5" stroke="#90ee90" stroke-linecap="square"/>
<line x1="263.5" y1="530.5" x2="264.5" y2="531.5" stroke="#90ee90" stroke-linecap="square"/>
<line x1="264.5" y1="531.5" x2="264.5" y2="535.5" stroke="#90ee90" stroke-linecap="square"/>
<line x1="264.5" y1="535.5" x2="263.5" y2="536.5" stroke="#90ee90" stroke-linecap="square"/>
<line x1="263.5" y1="536.5" x2="261.5" y2="536.5" stroke="#90ee90" stroke-linecap="square"/>
<line x1="273.5" y1="531.5" x2="273.5" y2="530.5" stroke="#90ee90" stroke-linecap="square"/>
<line x1="273.5" y1="530.5" x2="270.5" y2="530.5" stroke="#90ee90" stroke-linecap="square"/>
<line x1="270.5" y1="530.5" x2="269.5" y2="531.5" stroke="#90ee90" stroke-linecap="square"/>
<line x1="269.5" y1="531.5" x2="269.5" y2="535.5" stroke="#90ee90" stroke-linecap="square"/>
<line x1="269.5" y1="535.5" x2="270.5" y2="536.5" stroke="#90ee90" stroke-linecap="square"/>
<line x1="270.5" y1="536.5" x2="273.5" y2="536.5" stroke="#90ee90" stroke-linecap="square"/>
<line x1="273.5" y1="536.5" x2="273.5" y2="535.5" stroke="#90ee90" stroke-linecap="square"/>
<rect x="279" y="533" width="5" height="2" fill="#90ee90"/>
<line x1="287.5" y1="536.5" x2="287.5" y2="531.5" stroke="#90ee90" stroke-linecap="square"/>
<line x1="287.5" y1="531.5" x2="288.5" y2="530.5" stroke="#90ee90" stroke-linecap="square"/>
<line x1="288.5" y1="530.5" x2="290.5" y2="530.5" stroke="#90ee90" stroke-linecap="square"/>
<line x1="290.5" y1="530.5" x2="291.5" y2="531.5" stroke="#90ee90" stroke-linecap="square"/>
<line x1="291.5" y1="531.5" x2="291.5" y2="536.5" stroke="#90ee90" stroke-linecap="square"/>
<line x1="287.5" y1="533.5" x2="291.5" y2="533.5" stroke="#90ee90" stroke-linecap="square"/>
<line x1="297.5" y1="536.5" x2="296.5" y2="535.5" stroke="#90ee90" stroke-linecap="square"/>
<line x1="296.5" y1="535.5" x2="296.5" y2="531.5" stroke="#90ee90" stroke-linecap="square"/>
<line x1="296.5" y1="531.5" x2="297.5" y2="530.5" stroke="#90ee90" stroke-linecap="square"/>
<line x1="297.5" y1="530.5" x2="299.5" y2="530.5" stroke="#90ee90" stroke-linecap="square"/>
<line x1="299.5" y1="530.5" x2="300.5" y2="531.5" stroke="#90ee90" stroke-linecap="square"/>
<line x1="300.5" y1="531.5" x2="300.5" y2="535.5" stroke="#90ee90" stroke-linecap="square"/>
<line x1="300.5" y1="535.5" x2="299.5" y2="536.5" stroke="#90ee90" stroke-linecap="square"/>
<line x1="299.5" y1="536.5" x2="297.5" y2="536.5" stroke="#90ee90" stroke-linecap="square"/>
<line x1="309.5" y1="531.5" x2="309.5" y2="530.5" stroke="#90ee90" stroke-linecap="square"/>
<line x1="309.5" y1="530.5" x2="306.5" y2="530.5" stroke="#90ee90" stroke-linecap="square"/>
<line x1="306.5" y1="530.5" x2="305.5" y2="531.5" stroke="#90ee90" stroke-linecap="square"/>
<line x1="305.5" y1="531.5" x2="305.5" y2="535.5" stroke="#90ee90" stroke-linecap="square"/>
<line x1="305.5" y1="535.5" x2="306.5" y2="536.5" stroke="#90ee90" stroke-linecap="square"/>
<line x1="306.5" y1="536.5" x2="309.5" y2="536.5" stroke="#90ee90" stroke-linecap="square"/>
<line x1="309.5" y1="536.5" x2="309.5" y2="535.5" stroke="#90ee90" stroke-linecap="square"/>
<line x1="315.5" y1="536.5" x2="314.5" y2="535.5" stroke="#90ee90" stroke-linecap="square"/>
<line x1="314.5" y1="535.5" x2="314.5" y2="531.5" stroke="#90ee90" stroke-linecap="square"/>
<line x1="314.5" y1="531.5" x2="315.5" y2="530.5" stroke="#90ee90" stroke-linecap="square"/>
<line x1="315.5" y1="530.5" x2="317.5" y2="530.5" stroke="#90ee90" stroke-linecap="square"/>
<line x1="317.5" y1="530.5" x2="318.5" y2="531.5" stroke="#90ee90" stroke-linecap="square"/>
<line x1="318.5" y1="531.5" x2="318.5" y2="535.5" stroke="#90ee90" stroke-linecap="square"/>
<line x1="318.5" y1="535.5" x2="317.5" y2="536.5" stroke="#90ee90" stroke-linecap="square"/>
<line x1="317.5" y1="536.5" x2="315.5" y2="536.5" stroke="#90ee90" stroke-linecap="square"/>
<line x1="242.5" y1="546.5" x2="242.5" y2="540.5" stroke="#90ee90" stroke-linecap="square"/>
<line x1="246.5" y1="546.5" x2="246.5" y2="540.5" stroke="#90ee90" stroke-linecap="square"/>
<line x1="242.5" y1="543.5" x2="246.5" y2="543.5" stroke="#90ee90" stroke-linecap="square"/>
<line x1="251.5" y1="540.5" x2="251.5" y2="545.5" stroke="#90ee90" stroke-linecap="square"/>
<line x1="251.5" y1="545.5" x2="252.5" y2="546.5" stroke="#90ee90" stroke-linecap="square"/>
<line x1="252.5" y1="546.5" x2="254.5" y2="546.5" stroke="#90ee90" stroke-linecap="square"/>
<line x1="254.5" y1="546.5" x2="255.5" y2="545.5" stroke="#90ee90" stroke-linecap="square"/>
<line x1="255.5" y1="545.5" x2="255.5" y2="540.5" stroke="#90ee90" stroke-linecap="square"/>
<line x1="264.5" y1="540.5" x2="261.5" y2="540.5" stroke="#90ee90" stroke-linecap="square"/>
<line x1="261.5" y1="540.5" x2="260.5" y2="541.5" stroke="#90ee90" stroke-linecap="square"/>
<line x1="260.5" y1="541.5" x2="260.5" y2="542.5" stroke="#90ee90" stroke-linecap="square"/>
<line x1="260.5" y1="542.5" x2="261.5" y2="543.5" stroke="#90ee90" stroke-linecap="square"/>
<line x1="261.5" y1="543.5" x2="263.5" y2="543.5" stroke="#90ee90" stroke-linecap="square"/>
<line x1="263.5" y1="543.5" x2="264.5" y2="544.5" stroke="#90ee90" stroke-linecap="square"/>
<line x1="264.5" y1="544.5" x2="264.5" y2="545.5" stroke="#90ee90" stroke-linecap="square"/>
<line x1="264.5" y1="545.5" x2="263.5" y2="546.5" stroke="#90ee90" stroke-linecap="square"/>
<line x1="263.5" y1="546.5" x2="260.5" y2="546.5" stroke="#90ee90" stroke-linecap="square"/>
<line x1="273.5" y1="540.5" x2="269.5" y2="540.5" stroke="#90ee90" stroke-linecap="square"/>
<line x1="269.5" y1="540.5" x2="269.5" y2="546.5" stroke="#90ee90" stroke-linecap="square"/>
<line x1="269.5" y1="546.5" x2="273.5" y2="546.5" stroke="#90ee90" stroke-linecap="square"/>
<line x1="269.5" y1="543.5" x2="272.5" y2="543.5" stroke="#90ee90" stroke-linecap="square"/>
<line x1="278.5" y1="540.5" x2="282.5" y2="540.5" stroke="#90ee90" stroke-linecap="square"/>
<line x1="280.5" y1="540.5" x2="280.5" y2="546.5" stroke="#90ee90" stroke-linecap="square"/>
<rect x="288" y="543" width="5" height="2" fill="#90ee90"/>
<line x1="296.5" y1="546.5" x2="296.5" y2="540.5" stroke="#90ee90" stroke-linecap="square"/>
<line x1="300.5" y1="546.5" x2="300.5" y2="540.5" stroke="#90ee90" stroke-linecap="square"/>
<line x1="296.5" y1="543.5" x2="300.5" y2="543.5" stroke="#90ee90" stroke-linecap="square"/>
<line x1="305.5" y1="540.5" x2="305.5" y2="545.5" stroke="#90ee90" stroke-linecap="square"/>
<line x1="305.5" y1="545.5" x2="306.5" y2="546.5" stroke="#90ee90" stroke-linecap="square"/>
<line x1="306.5" y1="546.5" x2="308.5" y2="546.5" stroke="#90ee90" stroke-linecap="square"/>
<line x1="308.5" y1="546.5" x2="309.5" y2="545.5" stroke="#90ee90" stroke-linecap="square"/>
<line x1="309.5" y1="545.5" x2="309.5" y2="540.5" stroke="#90ee90" stroke-linecap="square"/>
<line x1="318.5" y1="540.5" x2="315.5" y2="540.5" stroke="#90ee90" stroke-linecap="square"/>
<line x1="315.5" y1="540.5" x2="314.5" y2="541.5" stroke="#90ee90" stroke-linecap="square"/>
<line x1="314.5" y1="541.5" x2="314.5" y2="542.5" stroke="#90ee90" stroke-linecap="square"/>
<line x1="314.5" y1="542.5" x2="315.5" y2="543.5" stroke="#90ee90" stroke-linecap="square"/>
<line x1="315.5" y1="543.5" x2="317.5" y2="543.5" stroke="#90ee90" stroke-linecap="square"/>
<line x1="317.5" y1="543.5" x2="318.5" y2="544.5" stroke="#90ee90" stroke-linecap="square"/>
<line x1="318.5" y1="544.5" x2="318.5" y2="545.5" stroke="#90ee90" stroke-linecap="square"/>
<line x1="318.5" y1="545.5" x2="317.5" y2="546.5" stroke="#90ee90" stroke-linecap="square"/>
<line x1="317.5" y1="546.5" x2="314.5" y2="546.5" stroke="#90ee90" stroke-linecap="square"/>
<line x1="327.5" y1="540.5" x2="323.5" y2="540.5" stroke="#90ee90" stroke-linecap="square"/>
<line x1="323.5" y1="540.5" x2="323.5" y2="546.5" stroke="#90ee90" stroke-linecap="square"/>
<line x1="323.5" y1="546.5" x2="327.5" y2="546.5" stroke="#90ee90" stroke-linecap="square"/>
<line x1="323.5" y1="543.5" x2="326.5" y2="543.5" stroke="#90ee90" stroke-linecap="square"/>
<line x1="333.5" y1="540.5" x2="337.5" y2="540.5" stroke="#90ee90" stroke-linecap="square"/>
<line x1="335.5" y1="540.5" x2="335.5" y2="546.5" stroke="#90ee90" stroke-linecap="square"/>
<line x1="343.5" y1="540.5" x2="345.5" y2="540.5" stroke="#90ee90" stroke-linecap="square"/>
<line x1="344.5" y1="540.5" x2="344.5" y2="546.5" stroke="#90ee90" stroke-linecap="square"/>
<line x1="343.5" y1="546.5" x2="345.5" y2="546.5" stroke="#90ee90" stroke-linecap="square"/>
<line x1="351.5" y1="546.5" x2="351.5" y2="540.5" stroke="#90ee90" stroke-linecap="square"/>
<line x1="351.5" y1="540.5" x2="355.5" y2="546.5" stroke="#90ee90" stroke-linecap="square"/>
<line x1="355.5" y1="546.5" x2="355.5" y2="540.5" stroke="#90ee90" stroke-linecap="square"/>
<line x1="361.5" y1="540.5" x2="363.5" y2="540.5" stroke="#90ee90" stroke-linecap="square"/>
<line x1="362.5" y1="540.5" x2="362.5" y2="546.5" stroke="#90ee90" stroke-linecap="square"/>
<line x1="361.5" y1="546.5" x2="363.5" y2="546.5" stroke="#90ee90" stroke-linecap="square"/>
<line x1="369.5" y1="540.5" x2="373.5" y2="540.5" stroke="#90ee90" stroke-linecap="square"/>
<line x1="371.5" y1="540.5" x2="371.5" y2="546.5" stroke="#90ee90" stroke-linecap="square"/>
<line x1="145.5" y1="239.5" x2="145.5" y2="234.5" stroke="#90ee90" stroke-linecap="square"/>
<line x1="145.5" y1="234.5" x2="146.5" y2="233.5" stroke="#90ee90" stroke-linecap="square"/>
<line x1="146.5" y1="233.5" x2="148.5" y2="233.5" stroke="#90ee90" stroke-linecap="square"/>
<line x1="148.5" y1="233.5" x2="149.5" y2="234.5" stroke="#90ee90" stroke-linecap="square"/>
<line x1="149.5" y1="234.5" x2="149.5" y2="239.5" stroke="#90ee90" stroke-linecap="square"/>
<line x1="145.5" y1="236.5" x2="149.5" y2="236.5" stroke="#90ee90" stroke-linecap="square"/>
<line x1="154.5" y1="233.5" x2="154.5" y2="239.5" stroke="#90ee90" stroke-linecap="square"/>
<line x1="154.5" y1="239.5" x2="158.5" y2="239.5" stroke="#90ee90" stroke-linecap="square"/>
<line x1="164.5" y1="239.5" x2="163.5" y2="238.5" stroke="#90ee90" stroke-linecap="square"/>
<line x1="163.5" y1="238.5" x2="163.5" y2="234.5" stroke="#90ee90" stroke-linecap="square"/>
<line x1="163.5" y1="234.5" x2="164.5" y2="233.5" stroke="#90ee90" stroke-linecap="square"/>
<line x1="164.5" y1="233.5" x2="166.5" y2="233.5" stroke="#90ee90" stroke-linecap="square"/>
<line x1="166.5" y1="233.5" x2="167.5" y2="234.5" stroke="#90ee90" stroke-linecap="square"/>
<line x1="167.5" y1="234.5" x2="167.5" y2="238.5" stroke="#90ee90" stroke-linecap="square"/>
<line x1="167.5" y1="238.5" x2="166.5" y2="239.5" stroke="#90ee90" stroke-linecap="square"/>
<line x1="166.5" y1="239.5" x2="164.5" y2="239.5" stroke="#90ee90" stroke-linecap="square"/>
<line x1="176.5" y1="234.5" x2="176.5" y2="233.5" stroke="#90ee90" stroke-linecap="square"/>
<line x1="176.5" y1="233.5" x2="173.5" y2="233.5" stroke="#90ee90" stroke-linecap="square"/>
<line x1="173.5" y1="233.5" x2="172.5" y2="234.5" stroke="#90ee90" stroke-linecap="square"/>
<line x1="172.5" y1="234.5" x2="172.5" y2="238.5" stroke="#90ee90" stroke-linecap="square"/>
<line x1="172.5" y1="238.5" x2="173.5" y2="239.5" stroke="#90ee90" stroke-linecap="square"/>
<line x1="173.5" y1="239.5" x2="176.5" y2="239.5" stroke="#90ee90" stroke-linecap="square"/>
<line x1="176.5" y1="239.5" x2="176.5" y2="238.5" stroke="#90ee90" stroke-linecap="square"/>
<rect x="182" y="236" width="5" height="2" fill="#90ee90"/>
<line x1="191.5" y1="239.5" x2="191.5" y2="234.5" stroke="#90ee90" stroke-linecap="square"/>
<line x1="191.5" y1="234.5" x2="192.5" y2="233.5" stroke="#90ee90" stroke-linecap="square"/>
<line x1="192.5" y1="233.5" x2="194.5" y2="233.5" stroke="#90ee90" stroke-linecap="square"/>
<line x1="194.5" y1="233.5" x2="195.5" y2="234.5" stroke="#90ee90" stroke-linecap="square"/>
<line x1="195.5" y1="234.5" x2="195.5" y2="239.5" stroke="#90ee90" stroke-linecap="square"/>
<line x1="191.5" y1="236.5" x2="195.5" y2="236.5" stroke="#90ee90" stroke-linecap="square"/>
<line x1="201.5" y1="239.5" x2="200.5" y2="238.5" stroke="#90ee90" stroke-linecap="square"/>
<line x1="200.5" y1="238.5" x2="200.5" y2="234.5" stroke="#90ee90" stroke-linecap="square"/>
<line x1="200.5" y1="234.5" x2="201.5" y2="233.5" stroke="#90ee90" stroke-linecap="square"/>
<line x1="201.5" y1="233.5" x2="203.5" y2="233.5" stroke="#90ee90" stroke-linecap="square"/>
<line x1="203.5" y1="233.5" x2="204.5" y2="234.5" stroke="#90ee90" stroke-linecap="square"/>
<line x1="204.5" y1="234.5" x2="204.5" y2="238.5" stroke="#90ee90" stroke-linecap="square"/>
<line x1="204.5" y1="238.5" x2="203.5" y2="239.5" stroke="#90ee90" stroke-linecap="square"/>
<line x1="203.5" y1="239.5" x2="201.5" y2="239.5" stroke="#90ee90" stroke-linecap="square"/>
<line x1="213.5" y1="234.5" x2="213.5" y2="233.5" stroke="#90ee90" stroke-linecap="square"/>
<line x1="213.5" y1="233.5" x2="210.5" y2="233.5" stroke="#90ee90" stroke-linecap="square"/>
<line x1="210.5" y1="233.5" x2="209.5" y2="234.5" stroke="#90ee90" stroke-linecap="square"/>
<line x1="209.5" y1="234.5" x2="209.5" y2="238.5" stroke="#90ee90" stroke-linecap="square"/>
<line x1="209.5" y1="238.5" x2="210.5" y2="239.5" stroke="#90ee90" stroke-linecap="square"/>
<line x1="210.5" y1="239.5" x2="213.5" y2="239.5" stroke="#90ee90" stroke-linecap="square"/>
<line x1="213.5" y1="239.5" x2="213.5" y2="238.5" stroke="#90ee90" stroke-linecap="square"/>
<line x1="219.5" y1="239.5" x2="218.5" y2="238.5" stroke="#90ee90" stroke-linecap="square"/>
<line x1="218.5" y1="238.5" x2="218.5" y2="234.5" stroke="#90ee90" stroke-linecap="square"/>
<line x1="218.5" y1="234.5" x2="219.5" y2="233.5" stroke="#90ee90" stroke-linecap="square"/>
<line x1="219.5" y1="233.5" x2="221.5" y2="233.5" stroke="#90ee90" stroke-linecap="square"/>
<line x1="221.5" y1="233.5" x2="222.5" y2="234.5" stroke="#90ee90" stroke-linecap="square"/>
<line x1="222.5" y1="234.5" x2="222.5" y2="238.5" stroke="#90ee90" stroke-linecap="square"/>
<line x1="222.5" y1="238.5" x2="221.5" y2="239.5" stroke="#90ee90" stroke-linecap="square"/>
<line x1="221.5" y1="239.5" x2="219.5" y2="239.5" stroke="#90ee90" stroke-linecap="square"/>
<line x1="155.5" y1="249.5" x2="155.5" y2="243.5" stroke="#90ee90" stroke-linecap="square"/>
<line x1="159.5" y1="249.5" x2="159.5" y2="243.5" stroke="#90ee90" stroke-linecap="square"/>
<line x1="155.5" y1="246.5" x2="159.5" y2="246.5" stroke="#90ee90" stroke-linecap="square"/>
<line x1="164.5" y1="243.5" x2="164.5" y2="248.5" stroke="#90ee90" stroke-linecap="square"/>
<line x1="164.5" y1="248.5" x2="165.5" y2="249.5" stroke="#90ee90" stroke-linecap="square"/>
<line x1="165.5" y1="249.5" x2="167.5" y2="249.5" stroke="#90ee90" stroke-linecap="square"/>
<line x1="167.5" y1="249.5" x2="168.5" y2="248.5" stroke="#90ee90" stroke-linecap="square"/>
<line x1="168.5" y1="248.5" x2="168.5" y2="243.5" stroke="#90ee90" stroke-linecap="square"/>
<line x1="177.5" y1="243.5" x2="174.5" y2="243.5" stroke="#90ee90" stroke-linecap="square"/>
<line x1="174.5" y1="243.5" x2="173.5" y2="244.5" stroke="#90ee90" stroke-linecap="square"/>
<line x1="173.5" y1="244.5" x2="173.5" y2="245.5" stroke="#90ee90" stroke-linecap="square"/>
<line x1="173.5" y1="245.5" x2="174.5" y2="246.5" stroke="#90ee90" stroke-linecap="square"/>
<line x1="174.5" y1="246.5" x2="176.5" y2="246.5" stroke="#90ee90" stroke-linecap="square"/>
<line x1="176.5" y1="246.5" x2="177.5" y2="247.5" stroke="#90ee90" stroke-linecap="square"/>
<line x1="177.5" y1="247.5" x2="177.5" y2="248.5" stroke="#90ee90" stroke-linecap="square"/>
<line x1="177.5" y1="248.5" x2="176.5" y2="249.5" stroke="#90ee90" stroke-linecap="square"/>
<line x1="176.5" y1="249.5" x2="173.5" y2="249.5" stroke="#90ee90" stroke-linecap="square"/>
<line x1="186.5" y1="243.5" x2="182.5" y2="243.5" stroke="#90ee90" stroke-linecap="square"/>
<line x1="182.5" y1="243.5" x2="182.5" y2="249.5" stroke="#90ee90" stroke-linecap="square"/>
<line x1="182.5" y1="249.5" x2="186.5" y2="249.5" stroke="#90ee90" stroke-linecap="square"/>
<line x1="182.5" y1="246.5" x2="185.5" y2="246.5" stroke="#90ee90" stroke-linecap="square"/>
<line x1="191.5" y1="243.5" x2="195.5" y2="243.5" stroke="#90ee90" stroke-linecap="square"/>
<line x1="193.5" y1="243.5" x2="193.5" y2="249.5" stroke="#90ee90" stroke-linecap="square"/>
<rect x="201" y="246" width="5" height="2" fill="#90ee90"/>
<line x1="209.5" y1="249.5" x2="209.5" y2="243.5" stroke="#90ee90" stroke-linecap="square"/>
<line x1="213.5" y1="249.5" x2="213.5" y2="243.5" stroke="#90ee90" stroke-linecap="square"/>
<line x1="209.5" y1="246.5" x2="213.5" y2="246.5" stroke="#90ee90" stroke-linecap="square"/>
<line x1="218.5" y1="243.5" x2="218.5" y2="248.5" stroke="#90ee90" stroke-linecap="square"/>
<line x1="218.5" y1="248.5" x2="219.5" y2="249.5" stroke="#90ee90" stroke-linecap="square"/>
<line x1="219.5" y1="249.5" x2="221.5" y2="249.5" stroke="#90ee90" stroke-linecap="square"/>
<line x1="221.5" y1="249.5" x2="222.5" y2="248.5" stroke="#90ee90" stroke-linecap="square"/>
<line x1="222.5" y1="248.5" x2="222.5" y2="243.5" stroke="#90ee90" stroke-linecap="square"/>
<line x1="231.5" y1="243.5" x2="228.5" y2="243.5" stroke="#90ee90" stroke-linecap="square"/>
<line x1="228.5" y1="243.5" x2="227.5" y2="244.5" stroke="#90ee90" stroke-linecap="square"/>
<line x1="227.5" y1="244.5" x2="227.5" y2="245.5" stroke="#90ee90" stroke-linecap="square"/>
<line x1="227.5" y1="245.5" x2="228.5" y2="246.5" stroke="#90ee90" stroke-linecap="square"/>
<line x1="228.5" y1="246.5" x2="230.5" y2="246.5" stroke="#90ee90" stroke-linecap="square"/>
<line x1="230.5" y1="246.5" x2="231.5" y2="247.5" stroke="#90ee90" stroke-linecap="square"/>
<line x1="231.5" y1="247.5" x2="231.5" y2="248.5" stroke="#90ee90" stroke-linecap="square"/>
<line x1="231.5" y1="248.5" x2="230.5" y2="249.5" stroke="#90ee90" stroke-linecap="square"/>
<line x1="230.5" y1="249.5" x2="227.5" y2="249.5" stroke="#90ee90" stroke-linecap="square"/>
<line x1="240.5" y1="243.5" x2="236.5" y2="243.5" stroke="#90ee90" stroke-linecap="square"/>
<line x1="236.5" y1="243.5" x2="236.5" y2="249.5" stroke="#90ee90" stroke-linecap="square"/>
<line x1="236.5" y1="249.5" x2="240.5" y2="249.5" stroke="#90ee90" stroke-linecap="square"/>
<line x1="236.5" y1="246.5" x2="239.5" y2="246.5" stroke="#90ee90" stroke-linecap="square"/>
<line x1="246.5" y1="243.5" x2="250.5" y2="243.5" stroke="#90ee90" stroke-linecap="square"/>
<line x1="248.5" y1="243.5" x2="248.5" y2="249.5" stroke="#90ee90" stroke-linecap="square"/>
<line x1="256.5" y1="243.5" x2="258.5" y2="243.5" stroke="#90ee90" stroke-linecap="square"/>
<line x1="257.5" y1="243.5" x2="257.5" y2="249.5" stroke="#90ee90" stroke-linecap="square"/>
<line x1="256.5" y1="249.5" x2="258.5" y2="249.5" stroke="#90ee90" stroke-linecap="square"/>
<line x1="264.5" y1="249.5" x2="264.5" y2="243.5" stroke="#90ee90" stroke-linecap="square"/>
<line x1="264.5" y1="243.5" x2="268.5" y2="249.5" stroke="#90ee90" stroke-linecap="square"/>
<line x1="268.5" y1="249.5" x2="268.5" y2="243.5" stroke="#90ee90" stroke-linecap="square"/>
<line x1="274.5" y1="243.5" x2="276.5" y2="243.5" stroke="#90ee90" stroke-linecap="square"/>
<line x1="275.5" y1="243.5" x2="275.5" y2="249.5" stroke="#90ee90" stroke-linecap="square"/>
<line x1="274.5" y1="249.5" x2="276.5" y2="249.5" stroke="#90ee90" stroke-linecap="square"/>
<line x1="282.5" y1="243.5" x2="286.5" y2="243.5" stroke="#90ee90" stroke-linecap="square"/>
<line x1="284.5" y1="243.5" x2="284.5" y2="249.5" stroke="#90ee90" stroke-linecap="square"/>
<line x1="160.5" y1="720.5" x2="160.5" y2="715.5" stroke="#90ee90" stroke-linecap="square"/>
<line x1="160.5" y1="715.5" x2="161.5" y2="714.5" stroke="#90ee90" stroke-linecap="square"/>
<line x1="161.5" y1="714.5" x2="163.5" y2="714.5" stroke="#90ee90" stroke-linecap="square"/>
<line x1="163.5" y1="714.5" x2="164.5" y2="715.5" stroke="#90ee90" stroke-linecap="square"/>
<line x1="164.5" y1="715.5" x2="164.5" y2="720.5" stroke="#90ee90" stroke-linecap="square"/>
<line x1="160.5" y1="717.5" x2="164.5" y2="717.5" stroke="#90ee90" stroke-linecap="square"/>
<line x1="169.5" y1="714.5" x2="169.5" y2="720.5" stroke="#90ee90" stroke-linecap="square"/>
<line x1="169.5" y1="720.5" x2="173.5" y2="720.5" stroke="#90ee90" stroke-linecap="square"/>
<line x1="179.5" y1="720.5" x2="178.5" y2="719.5" stroke="#90ee90" stroke-linecap="square"/>
<line x1="178.5" y1="719.5" x2="178.5" y2="715.5" stroke="#90ee90" stroke-linecap="square"/>
<line x1="178.5" y1="715.5" x2="179.5" y2="714.5" stroke="#90ee90" stroke-linecap="square"/>
<line x1="179.5" y1="714.5" x2="181.5" y2="714.5" stroke="#90ee90" stroke-linecap="square"/>
<line x1="181.5" y1="714.5" x2="182.5" y2="715.5" stroke="#90ee90" stroke-linecap="square"/>
<line x1="182.5" y1="715.5" x2="182.5" y2="719.5" stroke="#90ee90" stroke-linecap="square"/>
<line x1="182.5" y1="719.5" x2="181.5" y2="720.5" stroke="#90ee90" stroke-linecap="square"/>
<line x1="181.5" y1="720.5" x2="179.5" y2="720.5" stroke="#90ee90" stroke-linecap="square"/>
<line x1="191.5" y1="715.5" x2="191.5" y2="714.5" stroke="#90ee90" stroke-linecap="square"/>
<line x1="191.5" y1="714.5" x2="188.5" y2="714.5" stroke="#90ee90" stroke-linecap="square"/>
<line x1="188.5" y1="714.5" x2="187.5" y2="715.5" stroke="#90ee90" stroke-linecap="square"/>
<line x1="187.5" y1="715.5" x2="187.5" y2="719.5" stroke="#90ee90" stroke-linecap="square"/>
<line x1="187.5" y1="719.5" x2="188.5" y2="720.5" stroke="#90ee90" stroke-linecap="square"/>
<line x1="188.5" y1="720.5" x2="191.5" y2="720.5" stroke="#90ee90" stroke-linecap="square"/>
<line x1="191.5" y1="720.5" x2="191.5" y2="719.5" stroke="#90ee90" stroke-linecap="square"/>
<rect x="197" y="717" width="5" height="2" fill="#90ee90"/>
<line x1="205.5" y1="720.5" x2="205.5" y2="715.5" stroke="#90ee90" stroke-linecap="square"/>
<line x1="205.5" y1="715.5" x2="206.5" y2="714.5" stroke="#90ee90" stroke-linecap="square"/>
<line x1="206.5" y1="714.5" x2="208.5" y2="714.5" stroke="#90ee90" stroke-linecap="square"/>
<line x1="208.5" y1="714.5" x2="209.5" y2="715.5" stroke="#90ee90" stroke-linecap="square"/>
<line x1="209.5" y1="715.5" x2="209.5" y2="720.5" stroke="#90ee90" stroke-linecap="square"/>
<line x1="205.5" y1="717.5" x2="209.5" y2="717.5" stroke="#90ee90" stroke-linecap="square"/>
<line x1="215.5" y1="720.5" x2="214.5" y2="719.5" stroke="#90ee90" stroke-linecap="square"/>
<line x1="214.5" y1="719.5" x2="214.5" y2="715.5" stroke="#90ee90" stroke-linecap="square"/>
<line x1="214.5" y1="715.5" x2="215.5" y2="714.5" stroke="#90ee90" stroke-linecap="square"/>
<line x1="215.5" y1="714.5" x2="217.5" y2="714.5" stroke="#90ee90" stroke-linecap="square"/>
<line x1="217.5" y1="714.5" x2="218.5" y2="715.5" stroke="#90ee90" stroke-linecap="square"/>
<line x1="218.5" y1="715.5" x2="218.5" y2="719.5" stroke="#90ee90" stroke-linecap="square"/>
<line x1="218.5" y1="719.5" x2="217.5" y2="720.5" stroke="#90ee90" stroke-linecap="square"/>
<line x1="217.5" y1="720.5" x2="215.5" y2="720.5" stroke="#90ee90" stroke-linecap="square"/>
<line x1="227.5" y1="715.5" x2="227.5" y2="714.5" stroke="#90ee90" stroke-linecap="square"/>
<line x1="227.5" y1="714.5" x2="224.5" y2="714.5" stroke="#90ee90" stroke-linecap="square"/>
<line x1="224.5" y1="714.5" x2="223.5" y2="715.5" stroke="#90ee90" stroke-linecap="square"/>
<line x1="223.5" y1="715.5" x2="223.5" y2="719.5" stroke="#90ee90" stroke-linecap="square"/>
<line x1="223.5" y1="719.5" x2="224.5" y2="720.5" stroke="#90ee90" stroke-linecap="square"/>
<line x1="224.5" y1="720.5" x2="227.5" y2="720.5" stroke="#90ee90" stroke-linecap="square"/>
<line x1="227.5" y1="720.5" x2="227.5" y2="719.5" stroke="#90ee90" stroke-linecap="square"/>
<line x1="233.5" y1="720.5" x2="232.5" y2="719.5" stroke="#90ee90" stroke-linecap="square"/>
<line x1="232.5" y1="719.5" x2="232.5" y2="715.5" stroke="#90ee90" stroke-linecap="square"/>
<line x1="232.5" y1="715.5" x2="233.5" y2="714.5" stroke="#90ee90" stroke-linecap="square"/>
<line x1="233.5" y1="714.5" x2="235.5" y2="714.5" stroke="#90ee90" stroke-linecap="square"/>
<line x1="235.5" y1="714.5" x2="236.5" y2="715.5" stroke="#90ee90" stroke-linecap="square"/>
<line x1="236.5" y1="715.5" x2="236.5" y2="719.5" stroke="#90ee90" stroke-linecap="square"/>
<line x1="236.5" y1="719.5" x2="235.5" y2="720.5" stroke="#90ee90" stroke-linecap="square"/>
<line x1="235.5" y1="720.5" x2="233.5" y2="720.5" stroke="#90ee90" stroke-linecap="square"/>
<line x1="160.5" y1="730.5" x2="160.5" y2="724.5" stroke="#90ee90" stroke-linecap="square"/>
<line x1="164.5" y1="730.5" x2="164.5" y2="724.5" stroke="#90ee90" stroke-linecap="square"/>
<line x1="160.5" y1="727.5" x2="164.5" y2="727.5" stroke="#90ee90" stroke-linecap="square"/>
<line x1="169.5" y1="724.5" x2="169.5" y2="729.5" stroke="#90ee90" stroke-linecap="square"/>
<line x1="169.5" y1="729.5" x2="170.5" y2="730.5" stroke="#90ee90" stroke-linecap="square"/>
<line x1="170.5" y1="730.5" x2="172.5" y2="730.5" stroke="#90ee90" stroke-linecap="square"/>
<line x1="172.5" y1="730.5" x2="173.5" y2="729.5" stroke="#90ee90" stroke-linecap="square"/>
<line x1="173.5" y1="729.5" x2="173.5" y2="724.5" stroke="#90ee90" stroke-linecap="square"/>
<line x1="182.5" y1="724.5" x2="179.5" y2="724.5" stroke="#90ee90" stroke-linecap="square"/>
<line x1="179.5" y1="724.5" x2="178.5" y2="725.5" stroke="#90ee90" stroke-linecap="square"/>
<line x1="178.5" y1="725.5" x2="178.5" y2="726.5" stroke="#90ee90" stroke-linecap="square"/>
<line x1="178.5" y1="726.5" x2="179.5" y2="727.5" stroke="#90ee90" stroke-linecap="square"/>
<line x1="179.5" y1="727.5" x2="181.5" y2="727.5" stroke="#90ee90" stroke-linecap="square"/>
<line x1="181.5" y1="727.5" x2="182.5" y2="728.5" stroke="#90ee90" stroke-linecap="square"/>
<line x1="182.5" y1="728.5" x2="182.5" y2="729.5" stroke="#90ee90" stroke-linecap="square"/>
<line x1="182.5" y1="729.5" x2="181.5" y2="730.5" stroke="#90ee90" stroke-linecap="square"/>
<line x1="181.5" y1="730.5" x2="178.5" y2="730.5" stroke="#90ee90" stroke-linecap="square"/>
<line x1="191.5" y1="724.5" x2="187.5" y2="724.5" stroke="#90ee90" stroke-linecap="square"/>
<line x1="187.5" y1="724.5" x2="187.5" y2="730.5" stroke="#90ee90" stroke-linecap="square"/>
<line x1="187.5" y1="730.5" x2="191.5" y2="730.5" stroke="#90ee90" stroke-linecap="square"/>
<line x1="187.5" y1="727.5" x2="190.5" y2="727.5" stroke="#90ee90" stroke-linecap="square"/>
<line x1="196.5" y1="724.5" x2="200.5" y2="724.5" stroke="#90ee90" stroke-linecap="square"/>
<line x1="198.5" y1="724.5" x2="198.5" y2="730.5" stroke="#90ee90" stroke-linecap="square"/>
<rect x="206" y="727" width="5" height="2" fill="#90ee90"/>
<line x1="214.5" y1="730.5" x2="214.5" y2="724.5" stroke="#90ee90" stroke-linecap="square"/>
<line x1="218.5" y1="730.5" x2="218.5" y2="724.5" stroke="#90ee90" stroke-linecap="square"/>
<line x1="214.5" y1="727.5" x2="218.5" y2="727.5" stroke="#90ee90" stroke-linecap="square"/>
<line x1="223.5" y1="724.5" x2="223.5" y2="729.5" stroke="#90ee90" stroke-linecap="square"/>
<line x1="223.5" y1="729.5" x2="224.5" y2="730.5" stroke="#90ee90" stroke-linecap="square"/>
<line x1="224.5" y1="730.5" x2="226.5" y2="730.5" stroke="#90ee90" stroke-linecap="square"/>
<line x1="226.5" y1="730.5" x2="227.5" y2="729.5" stroke="#90ee90" stroke-linecap="square"/>
<line x1="227.5" y1="729.5" x2="227.5" y2="724.5" stroke="#90ee90" stroke-linecap="square"/>
<line x1="236.5" y1="724.5" x2="233.5" y2="724.5" stroke="#90ee90" stroke-linecap="square"/>
<line x1="233.5" y1="724.5" x2="232.5" y2="725.5" stroke="#90ee90" stroke-linecap="square"/>
<line x1="232.5" y1="725.5" x2="232.5" y2="726.5" stroke="#90ee90" stroke-linecap="square"/>
<line x1="232.5" y1="726.5" x2="233.5" y2="727.5" stroke="#90ee90" stroke-linecap="square"/>
<line x1="233.5" y1="727.5" x2="235.5" y2="727.5" stroke="#90ee90" stroke-linecap="square"/>
<line x1="235.5" y1="727.5" x2="236.5" y2="728.5" stroke="#90ee90" stroke-linecap="square"/>
<line x1="236.5" y1="728.5" x2="236.5" y2="729.5" stroke="#90ee90" stroke-linecap="square"/>
<line x1="236.5" y1="729.5" x2="235.5" y2="730.5" stroke="#90ee90" stroke-linecap="square"/>
<line x1="235.5" y1="730.5" x2="232.5" y2="730.5" stroke="#90ee90" stroke-linecap="square"/>
<line x1="245.5" y1="724.5" x2="241.5" y2="724.5" stroke="#90ee90" stroke-linecap="square"/>
<line x1="241.5" y1="724.5" x2="241.5" y2="730.5" stroke="#90ee90" stroke-linecap="square"/>
<line x1="241.5" y1="730.5" x2="245.5" y2="730.5" stroke="#90ee90" stroke-linecap="square"/>
<line x1="241.5" y1="727.5" x2="244.5" y2="727.5" stroke="#90ee90" stroke-linecap="square"/>
<line x1="251.5" y1="724.5" x2="255.5" y2="724.5" stroke="#90ee90" stroke-linecap="square"/>
<line x1="253.5" y1="724.5" x2="253.5" y2="730.5" stroke="#90ee90" stroke-linecap="square"/>
<line x1="261.5" y1="724.5" x2="263.5" y2="724.5" stroke="#90ee90" stroke-linecap="square"/>
<line x1="262.5" y1="724.5" x2="262.5" y2="730.5" stroke="#90ee90" stroke-linecap="square"/>
<line x1="261.5" y1="730.5" x2="263.5" y2="730.5" stroke="#90ee90" stroke-linecap="square"/>
<line x1="269.5" y1="730.5" x2="269.5" y2="724.5" stroke="#90ee90" stroke-linecap="square"/>
<line x1="269.5" y1="724.5" x2="273.5" y2="730.5" stroke="#90ee90" stroke-linecap="square"/>
<line x1="273.5" y1="730.5" x2="273.5" y2="724.5" stroke="#90ee90" stroke-linecap="square"/>
<line x1="279.5" y1="724.5" x2="281.5" y2="724.5" stroke="#90ee90" stroke-linecap="square"/>
<line x1="280.5" y1="724.5" x2="280.5" y2="730.5" stroke="#90ee90" stroke-linecap="square"/>
<line x1="279.5" y1="730.5" x2="281.5" y2="730.5" stroke="#90ee90" stroke-linecap="square"/>
<line x1="287.5" y1="724.5" x2="291.5" y2="724.5" stroke="#90ee90" stroke-linecap="square"/>
<line x1="289.5" y1="724.5" x2="289.5" y2="730.5" stroke="#90ee90" stroke-linecap="square"/>
<line x1="149.5" y1="227.5" x2="145.5" y2="227.5" stroke="#ffff00" stroke-linecap="square"/>
<line x1="145.5" y1="227.5" x2="145.5" y2="230.5" stroke="#ffff00" stroke-linecap="square"/>
<line x1="145.5" y1="230.5" x2="149.5" y2="230.5" stroke="#ffff00" stroke-linecap="square"/>
<line x1="153.5" y1="227.5" x2="157.5" y2="227.5" stroke="#ffff00" stroke-linecap="square"/>
<line x1="157.5" y1="227.5" x2="157.5" y2="230.5" stroke="#ffff00" stroke-linecap="square"/>
<line x1="157.5" y1="230.5" x2="153.5" y2="230.5" stroke="#ffff00" stroke-linecap="square"/>
<line x1="153.5" y1="230.5" x2="153.5" y2="229.5" stroke="#ffff00" stroke-linecap="square"/>
<line x1="153.5" y1="229.5" x2="157.5" y2="229.5" stroke="#ffff00" stroke-linecap="square"/>
<line x1="160.5" y1="230.5" x2="160.5" y2="227.5" stroke="#ffff00" stroke-linecap="square"/>
<line x1="160.5" y1="227.5" x2="164.5" y2="227.5" stroke="#ffff00" stroke-linecap="square"/>
<line x1="164.5" y1="227.5" x2="164.5" y2="228.5" stroke="#ffff00" stroke-linecap="square"/>
<line x1="168.5" y1="230.5" x2="168.5" y2="227.5" stroke="#ffff00" stroke-linecap="square"/>
<line x1="168.5" y1="227.5" x2="172.5" y2="227.5" stroke="#ffff00" stroke-linecap="square"/>
<line x1="172.5" y1="227.5" x2="172.5" y2="228.5" stroke="#ffff00" stroke-linecap="square"/>
<line x1="175.5" y1="227.5" x2="177.5" y2="230.5" stroke="#ffff00" stroke-linecap="square"/>
<line x1="179.5" y1="227.5" x2="176.5" y2="231.5" stroke="#ffff00" stroke-linecap="square"/>
<line x1="183.5" y1="224.5" x2="185.5" y2="224.5" stroke="#ffff00" stroke-linecap="square"/>
<line x1="184.5" y1="224.5" x2="184.5" y2="230.5" stroke="#ffff00" stroke-linecap="square"/>
<line x1="183.5" y1="230.5" x2="185.5" y2="230.5" stroke="#ffff00" stroke-linecap="square"/>
<line x1="189.5" y1="230.5" x2="189.5" y2="224.5" stroke="#ffff00" stroke-linecap="square"/>
<line x1="189.5" y1="224.5" x2="193.5" y2="230.5" stroke="#ffff00" stroke-linecap="square"/>
<line x1="193.5" y1="230.5" x2="193.5" y2="224.5" stroke="#ffff00" stroke-linecap="square"/>
<line x1="198.5" y1="224.5" x2="200.5" y2="224.5" stroke="#ffff00" stroke-linecap="square"/>
<line x1="199.5" y1="224.5" x2="199.5" y2="230.5" stroke="#ffff00" stroke-linecap="square"/>
<line x1="198.5" y1="230.5" x2="200.5" y2="230.5" stroke="#ffff00" stroke-linecap="square"/>
<line x1="204.5" y1="224.5" x2="208.5" y2="224.5" stroke="#ffff00" stroke-linecap="square"/>
<line x1="206.5" y1="224.5" x2="206.5" y2="230.5" stroke="#ffff00" stroke-linecap="square"/>
<line x1="174.5" y1="702.5" x2="170.5" y2="702.5" stroke="#ffff00" stroke-linecap="square"/>
<line x1="170.5" y1="702.5" x2="170.5" y2="705.5" stroke="#ffff00" stroke-linecap="square"/>
<line x1="170.5" y1="705.5" x2="174.5" y2="705.5" stroke="#ffff00" stroke-linecap="square"/>
<line x1="177.5" y1="702.5" x2="181.5" y2="702.5" stroke="#ffff00" stroke-linecap="square"/>
<line x1="181.5" y1="702.5" x2="181.5" y2="705.5" stroke="#ffff00" stroke-linecap="square"/>
<line x1="181.5" y1="705.5" x2="177.5" y2="705.5" stroke="#ffff00" stroke-linecap="square"/>
<line x1="177.5" y1="705.5" x2="177.5" y2="704.5" stroke="#ffff00" stroke-linecap="square"/>
<line x1="177.5" y1="704.5" x2="181.5" y2="704.5" stroke="#ffff00" stroke-linecap="square"/>
<line x1="185.5" y1="705.5" x2="185.5" y2="702.5" stroke="#ffff00" stroke-linecap="square"/>
<line x1="185.5" y1="702.5" x2="189.5" y2="702.5" stroke="#ffff00" stroke-linecap="square"/>
<line x1="189.5" y1="702.5" x2="189.5" y2="703.5" stroke="#ffff00" stroke-linecap="square"/>
<line x1="192.5" y1="705.5" x2="192.5" y2="702.5" stroke="#ffff00" stroke-linecap="square"/>
<line x1="192.5" y1="702.5" x2="196.5" y2="702.5" stroke="#ffff00" stroke-linecap="square"/>
<line x1="196.5" y1="702.5" x2="196.5" y2="703.5" stroke="#ffff00" stroke-linecap="square"/>
<line x1="200.5" y1="702.5" x2="202.5" y2="705.5" stroke="#ffff00" stroke-linecap="square"/>
<line x1="204.5" y1="702.5" x2="201.5" y2="706.5" stroke="#ffff00" stroke-linecap="square"/>
<line x1="208.5" y1="699.5" x2="210.5" y2="699.5" stroke="#ffff00" stroke-linecap="square"/>
<line x1="209.5" y1="699.5" x2="209.5" y2="705.5" stroke="#ffff00" stroke-linecap="square"/>
<line x1="208.5" y1="705.5" x2="210.5" y2="705.5" stroke="#ffff00" stroke-linecap="square"/>
<line x1="215.5" y1="705.5" x2="215.5" y2="699.5" stroke="#ffff00" stroke-linecap="square"/>
<line x1="215.5" y1="699.5" x2="219.5" y2="705.5" stroke="#ffff00" stroke-linecap="square"/>
<line x1="219.5" y1="705.5" x2="219.5" y2="699.5" stroke="#ffff00" stroke-linecap="square"/>
<line x1="223.5" y1="699.5" x2="225.5" y2="699.5" stroke="#ffff00" stroke-linecap="square"/>
<line x1="224.5" y1="699.5" x2="224.5" y2="705.5" stroke="#ffff00" stroke-linecap="square"/>
<line x1="223.5" y1="705.5" x2="225.5" y2="705.5" stroke="#ffff00" stroke-linecap="square"/>
<line x1="230.5" y1="699.5" x2="234.5" y2="699.5" stroke="#ffff00" stroke-linecap="square"/>
<line x1="232.5" y1="699.5" x2="232.5" y2="705.5" stroke="#ffff00" stroke-linecap="square"/>
<line x1="199.5" y1="65.5" x2="196.5" y2="65.5" stroke="#ffff00" stroke-linecap="square"/>
<line x1="196.5" y1="65.5" x2="196.5" y2="71.5" stroke="#ffff00" stroke-linecap="square"/>
<line x1="196.5" y1="68.5" x2="198.5" y2="68.5" stroke="#ffff00" stroke-linecap="square"/>
<line x1="203.5" y1="71.5" x2="203.5" y2="65.5" stroke="#ffff00" stroke-linecap="square"/>
<line x1="206.5" y1="71.5" x2="206.5" y2="65.5" stroke="#ffff00" stroke-linecap="square"/>
<line x1="203.5" y1="66.5" x2="206.5" y2="66.5" stroke="#ffff00" stroke-linecap="square"/>
<line x1="203.5" y1="67.5" x2="206.5" y2="67.5" stroke="#ffff00" stroke-linecap="square"/>
<line x1="211.5" y1="71.5" x2="213.5" y2="65.5" stroke="#ffff00" stroke-linecap="square"/>
<line x1="213.5" y1="65.5" x2="214.5" y2="71.5" stroke="#ffff00" stroke-linecap="square"/>
<line x1="212.5" y1="69.5" x2="213.5" y2="69.5" stroke="#ffff00" stroke-linecap="square"/>
<line x1="218.5" y1="71.5" x2="218.5" y2="66.5" stroke="#ffff00" stroke-linecap="square"/>
<line x1="218.5" y1="66.5" x2="219.5" y2="65.5" stroke="#ffff00" stroke-linecap="square"/>
<line x1="219.5" y1="65.5" x2="220.5" y2="65.5" stroke="#ffff00" stroke-linecap="square"/>
<line x1="220.5" y1="65.5" x2="221.5" y2="66.5" stroke="#ffff00" stroke-linecap="square"/>
<line x1="221.5" y1="66.5" x2="221.5" y2="67.5" stroke="#ffff00" stroke-linecap="square"/>
<line x1="221.5" y1="67.5" x2="220.5" y2="68.5" stroke="#ffff00" stroke-linecap="square"/>
<line x1="220.5" y1="68.5" x2="218.5" y2="68.5" stroke="#ffff00" stroke-linecap="square"/>
<line x1="226.5" y1="65.5" x2="228.5" y2="65.5" stroke="#ffff00" stroke-linecap="square"/>
<line x1="228.5" y1="65.5" x2="229.5" y2="66.5" stroke="#ffff00" stroke-linecap="square"/>
<line x1="229.5" y1="66.5" x2="229.5" y2="67.5" stroke="#ffff00" stroke-linecap="square"/>
<line x1="229.5" y1="67.5" x2="228.5" y2="68.5" stroke="#ffff00" stroke-linecap="square"/>
<line x1="228.5" y1="68.5" x2="227.5" y2="68.5" stroke="#ffff00" stroke-linecap="square"/>
<line x1="227.5" y1="68.5" x2="226.5" y2="69.5" stroke="#ffff00" stroke-linecap="square"/>
<line x1="226.5" y1="69.5" x2="226.5" y2="70.5" stroke="#ffff00" stroke-linecap="square"/>
<line x1="226.5" y1="70.5" x2="227.5" y2="71.5" stroke="#ffff00" stroke-linecap="square"/>
<line x1="227.5" y1="71.5" x2="229.5" y2="71.5" stroke="#ffff00" stroke-linecap="square"/>
<line x1="199.5" y1="372.5" x2="196.5" y2="372.5" stroke="#ffff00" stroke-linecap="square"/>
<line x1="196.5" y1="372.5" x2="196.5" y2="378.5" stroke="#ffff00" stroke-linecap="square"/>
<line x1="196.5" y1="375.5" x2="198.5" y2="375.5" stroke="#ffff00" stroke-linecap="square"/>
<line x1="203.5" y1="378.5" x2="203.5" y2="372.5" stroke="#ffff00" stroke-linecap="square"/>
<line x1="206.5" y1="378.5" x2="206.5" y2="372.5" stroke="#ffff00" stroke-linecap="square"/>
<line x1="203.5" y1="373.5" x2="206.5" y2="373.5" stroke="#ffff00" stroke-linecap="square"/>
<line x1="203.5" y1="374.5" x2="206.5" y2="374.5" stroke="#ffff00" stroke-linecap="square"/>
<line x1="211.5" y1="378.5" x2="213.5" y2="372.5" stroke="#ffff00" stroke-linecap="square"/>
<line x1="213.5" y1="372.5" x2="214.5" y2="378.5" stroke="#ffff00" stroke-linecap="square"/>
<line x1="212.5" y1="376.5" x2="213.5" y2="376.5" stroke="#ffff00" stroke-linecap="square"/>
<line x1="218.5" y1="378.5" x2="218.5" y2="373.5" stroke="#ffff00" stroke-linecap="square"/>
<line x1="218.5" y1="373.5" x2="219.5" y2="372.5" stroke="#ffff00" stroke-linecap="square"/>
<line x1="219.5" y1="372.5" x2="220.5" y2="372.5" stroke="#ffff00" stroke-linecap="square"/>
<line x1="220.5" y1="372.5" x2="221.5" y2="373.5" stroke="#ffff00" stroke-linecap="square"/>
<line x1="221.5" y1="373.5" x2="221.5" y2="374.5" stroke="#ffff00" stroke-linecap="square"/>
<line x1="221.5" y1="374.5" x2="220.5" y2="375.5" stroke="#ffff00" stroke-linecap="square"/>
<line x1="220.5" y1="375.5" x2="218.5" y2="375.5" stroke="#ffff00" stroke-linecap="square"/>
<line x1="227.5" y1="373.5" x2="228.5" y2="372.5" stroke="#ffff00" stroke-linecap="square"/>
<line x1="228.5" y1="372.5" x2="228.5" y2="378.5" stroke="#ffff00" stroke-linecap="square"/>
<line x1="227.5" y1="378.5" x2="228.5" y2="378.5" stroke="#ffff00" stroke-linecap="square"/>
<line x1="199.5" y1="536.5" x2="196.5" y2="536.5" stroke="#ffff00" stroke-linecap="square"/>
<line x1="196.5" y1="536.5" x2="196.5" y2="542.5" stroke="#ffff00" stroke-linecap="square"/>
<line x1="196.5" y1="539.5" x2="198.5" y2="539.5" stroke="#ffff00" stroke-linecap="square"/>
<line x1="203.5" y1="542.5" x2="203.5" y2="536.5" stroke="#ffff00" stroke-linecap="square"/>
<line x1="206.5" y1="542.5" x2="206.5" y2="536.5" stroke="#ffff00" stroke-linecap="square"/>
<line x1="203.5" y1="537.5" x2="206.5" y2="537.5" stroke="#ffff00" stroke-linecap="square"/>
<line x1="203.5" y1="538.5" x2="206.5" y2="538.5" stroke="#ffff00" stroke-linecap="square"/>
<line x1="211.5" y1="542.5" x2="213.5" y2="536.5" stroke="#ffff00" stroke-linecap="square"/>
<line x1="213.5" y1="536.5" x2="214.5" y2="542.5" stroke="#ffff00" stroke-linecap="square"/>
<line x1="212.5" y1="540.5" x2="213.5" y2="540.5" stroke="#ffff00" stroke-linecap="square"/>
<line x1="218.5" y1="542.5" x2="218.5" y2="537.5" stroke="#ffff00" stroke-linecap="square"/>
<line x1="218.5" y1="537.5" x2="219.5" y2="536.5" stroke="#ffff00" stroke-linecap="square"/>
<line x1="219.5" y1="536.5" x2="220.5" y2="536.5" stroke="#ffff00" stroke-linecap="square"/>
<line x1="220.5" y1="536.5" x2="221.5" y2="537.5" stroke="#ffff00" stroke-linecap="square"/>
<line x1="221.5" y1="537.5" x2="221.5" y2="538.5" stroke="#ffff00" stroke-linecap="square"/>
<line x1="221.5" y1="538.5" x2="220.5" y2="539.5" stroke="#ffff00" stroke-linecap="square"/>
<line x1="220.5" y1="539.5" x2="218.5" y2="539.5" stroke="#ffff00" stroke-linecap="square"/>
<line x1="227.5" y1="542.5" x2="226.5" y2="541.5" stroke="#ffff00" stroke-linecap="square"/>
<line x1="226.5" y1="541.5" x2="226.5" y2="537.5" stroke="#ffff00" stroke-linecap="square"/>
<line x1="226.5" y1="537.5" x2="227.5" y2="536.5" stroke="#ffff00" stroke-linecap="square"/>
<line x1="227.5" y1="536.5" x2="228.5" y2="536.5" stroke="#ffff00" stroke-linecap="square"/>
<line x1="228.5" y1="536.5" x2="229.5" y2="537.5" stroke="#ffff00" stroke-linecap="square"/>
<line x1="229.5" y1="537.5" x2="229.5" y2="541.5" stroke="#ffff00" stroke-linecap="square"/>
<line x1="229.5" y1="541.5" x2="228.5" y2="542.5" stroke="#ffff00" stroke-linecap="square"/>
<line x1="228.5" y1="542.5" x2="227.5" y2="542.5" stroke="#ffff00" stroke-linecap="square"/>
<line x1="545.5" y1="128.5" x2="542.5" y2="128.5" stroke="#ffff00" stroke-linecap="square"/>
<line x1="542.5" y1="128.5" x2="542.5" y2="134.5" stroke="#ffff00" stroke-linecap="square"/>
<line x1="542.5" y1="131.5" x2="544.5" y2="131.5" stroke="#ffff00" stroke-linecap="square"/>
<line x1="549.5" y1="128.5" x2="549.5" y2="134.5" stroke="#ffff00" stroke-linecap="square"/>
<line x1="549.5" y1="134.5" x2="552.5" y2="134.5" stroke="#ffff00" stroke-linecap="square"/>
<line x1="557.5" y1="134.5" x2="557.5" y2="128.5" stroke="#ffff00" stroke-linecap="square"/>
<line x1="557.5" y1="128.5" x2="559.5" y2="128.5" stroke="#ffff00" stroke-linecap="square"/>
<line x1="559.5" y1="128.5" x2="560.5" y2="129.5" stroke="#ffff00" stroke-linecap="square"/>
<line x1="560.5" y1="129.5" x2="560.5" y2="133.5" stroke="#ffff00" stroke-linecap="square"/>
<line x1="560.5" y1="133.5" x2="559.5" y2="134.5" stroke="#ffff00" stroke-linecap="square"/>
<line x1="559.5" y1="134.5" x2="557.5" y2="134.5" stroke="#ffff00" stroke-linecap="square"/>
<line x1="564.5" y1="134.5" x2="564.5" y2="129.5" stroke="#ffff00" stroke-linecap="square"/>
<line x1="564.5" y1="129.5" x2="565.5" y2="128.5" stroke="#ffff00" stroke-linecap="square"/>
<line x1="565.5" y1="128.5" x2="566.5" y2="128.5" stroke="#ffff00" stroke-linecap="square"/>
<line x1="566.5" y1="128.5" x2="567.5" y2="129.5" stroke="#ffff00" stroke-linecap="square"/>
<line x1="567.5" y1="129.5" x2="567.5" y2="130.5" stroke="#ffff00" stroke-linecap="square"/>
<line x1="567.5" y1="130.5" x2="566.5" y2="131.5" stroke="#ffff00" stroke-linecap="square"/>
<line x1="566.5" y1="131.5" x2="564.5" y2="131.5" stroke="#ffff00" stroke-linecap="square"/>
<line x1="572.5" y1="128.5" x2="574.5" y2="128.5" stroke="#ffff00" stroke-linecap="square"/>
<line x1="574.5" y1="128.5" x2="575.5" y2="129.5" stroke="#ffff00" stroke-linecap="square"/>
<line x1="575.5" y1="129.5" x2="575.5" y2="130.5" stroke="#ffff00" stroke-linecap="square"/>
<line x1="575.5" y1="130.5" x2="574.5" y2="131.5" stroke="#ffff00" stroke-linecap="square"/>
<line x1="574.5" y1="131.5" x2="573.5" y2="131.5" stroke="#ffff00" stroke-linecap="square"/>
<line x1="573.5" y1="131.5" x2="572.5" y2="132.5" stroke="#ffff00" stroke-linecap="square"/>
<line x1="572.5" y1="132.5" x2="572.5" y2="133.5" stroke="#ffff00" stroke-linecap="square"/>
<line x1="572.5" y1="133.5" x2="573.5" y2="134.5" stroke="#ffff00" stroke-linecap="square"/>
<line x1="573.5" y1="134.5" x2="575.5" y2="134.5" stroke="#ffff00" stroke-linecap="square"/>
<line x1="544.5" y1="432.5" x2="541.5" y2="432.5" stroke="#ffff00" stroke-linecap="square"/>
<line x1="541.5" y1="432.5" x2="541.5" y2="438.5" stroke="#ffff00" stroke-linecap="square"/>
<line x1="541.5" y1="435.5" x2="543.5" y2="435.5" stroke="#ffff00" stroke-linecap="square"/>
<line x1="548.5" y1="432.5" x2="548.5" y2="438.5" stroke="#ffff00" stroke-linecap="square"/>
<line x1="548.5" y1="438.5" x2="551.5" y2="438.5" stroke="#ffff00" stroke-linecap="square"/>
<line x1="556.5" y1="438.5" x2="556.5" y2="432.5" stroke="#ffff00" stroke-linecap="square"/>
<line x1="556.5" y1="432.5" x2="558.5" y2="432.5" stroke="#ffff00" stroke-linecap="square"/>
<line x1="558.5" y1="432.5" x2="559.5" y2="433.5" stroke="#ffff00" stroke-linecap="square"/>
<line x1="559.5" y1="433.5" x2="559.5" y2="437.5" stroke="#ffff00" stroke-linecap="square"/>
<line x1="559.5" y1="437.5" x2="558.5" y2="438.5" stroke="#ffff00" stroke-linecap="square"/>
<line x1="558.5" y1="438.5" x2="556.5" y2="438.5" stroke="#ffff00" stroke-linecap="square"/>
<line x1="563.5" y1="438.5" x2="563.5" y2="433.5" stroke="#ffff00" stroke-linecap="square"/>
<line x1="563.5" y1="433.5" x2="564.5" y2="432.5" stroke="#ffff00" stroke-linecap="square"/>
<line x1="564.5" y1="432.5" x2="565.5" y2="432.5" stroke="#ffff00" stroke-linecap="square"/>
<line x1="565.5" y1="432.5" x2="566.5" y2="433.5" stroke="#ffff00" stroke-linecap="square"/>
<line x1="566.5" y1="433.5" x2="566.5" y2="434.5" stroke="#ffff00" stroke-linecap="square"/>
<line x1="566.5" y1="434.5" x2="565.5" y2="435.5" stroke="#ffff00" stroke-linecap="square"/>
<line x1="565.5" y1="435.5" x2="563.5" y2="435.5" stroke="#ffff00" stroke-linecap="square"/>
<line x1="572.5" y1="433.5" x2="573.5" y2="432.5" stroke="#ffff00" stroke-linecap="square"/>
<line x1="573.5" y1="432.5" x2="573.5" y2="438.5" stroke="#ffff00" stroke-linecap="square"/>
<line x1="572.5" y1="438.5" x2="573.5" y2="438.5" stroke="#ffff00" stroke-linecap="square"/>
<line x1="546.5" y1="602.5" x2="543.5" y2="602.5" stroke="#ffff00" stroke-linecap="square"/>
<line x1="543.5" y1="602.5" x2="543.5" y2="608.5" stroke="#ffff00" stroke-linecap="square"/>
<line x1="543.5" y1="605.5" x2="545.5" y2="605.5" stroke="#ffff00" stroke-linecap="square"/>
<line x1="550.5" y1="602.5" x2="550.5" y2="608.5" stroke="#ffff00" stroke-linecap="square"/>
<line x1="550.5" y1="608.5" x2="553.5" y2="608.5" stroke="#ffff00" stroke-linecap="square"/>
<line x1="558.5" y1="608.5" x2="558.5" y2="602.5" stroke="#ffff00" stroke-linecap="square"/>
<line x1="558.5" y1="602.5" x2="560.5" y2="602.5" stroke="#ffff00" stroke-linecap="square"/>
<line x1="560.5" y1="602.5" x2="561.5" y2="603.5" stroke="#ffff00" stroke-linecap="square"/>
<line x1="561.5" y1="603.5" x2="561.5" y2="607.5" stroke="#ffff00" stroke-linecap="square"/>
<line x1="561.5" y1="607.5" x2="560.5" y2="608.5" stroke="#ffff00" stroke-linecap="square"/>
<line x1="560.5" y1="608.5" x2="558.5" y2="608.5" stroke="#ffff00" stroke-linecap="square"/>
<line x1="565.5" y1="608.5" x2="565.5" y2="603.5" stroke="#ffff00" stroke-linecap="square"/>
<line x1="565.5" y1="603.5" x2="566.5" y2="602.5" stroke="#ffff00" stroke-linecap="square"/>
<line x1="566.5" y1="602.5" x2="567.5" y2="602.5" stroke="#ffff00" stroke-linecap="square"/>
<line x1="567.5" y1="602.5" x2="568.5" y2="603.5" stroke="#ffff00" stroke-linecap="square"/>
<line x1="568.5" y1="603.5" x2="568.5" y2="604.5" stroke="#ffff00" stroke-linecap="square"/>
<line x1="568.5" y1="604.5" x2="567.5" y2="605.5" stroke="#ffff00" stroke-linecap="square"/>
<line x1="567.5" y1="605.5" x2="565.5" y2="605.5" stroke="#ffff00" stroke-linecap="square"/>
<line x1="574.5" y1="608.5" x2="573.5" y2="607.5" stroke="#ffff00" stroke-linecap="square"/>
<line x1="573.5" y1="607.5" x2="573.5" y2="603.5" stroke="#ffff00" stroke-linecap="square"/>
<line x1="573.5" y1="603.5" x2="574.5" y2="602.5" stroke="#ffff00" stroke-linecap="square"/>
<line x1="574.5" y1="602.5" x2="575.5" y2="602.5" stroke="#ffff00" stroke-linecap="square"/>
<line x1="575.5" y1="602.5" x2="576.5" y2="603.5" stroke="#ffff00" stroke-linecap="square"/>
<line x1="576.5" y1="603.5" x2="576.5" y2="607.5" stroke="#ffff00" stroke-linecap="square"/>
<line x1="576.5" y1="607.5" x2="575.5" y2="608.5" stroke="#ffff00" stroke-linecap="square"/>
<line x1="575.5" y1="608.5" x2="574.5" y2="608.5" stroke="#ffff00" stroke-linecap="square"/>
<line x1="89.5" y1="233.5" x2="89.5" y2="232.5" stroke="#90ee90" stroke-linecap="square"/>
<line x1="89.5" y1="232.5" x2="85.5" y2="232.5" stroke="#90ee90" stroke-linecap="square"/>
<line x1="85.5" y1="232.5" x2="85.5" y2="239.5" stroke="#90ee90" stroke-linecap="square"/>
<line x1="85.5" y1="239.5" x2="89.5" y2="239.5" stroke="#90ee90" stroke-linecap="square"/>
<line x1="89.5" y1="239.5" x2="89.5" y2="238.5" stroke="#90ee90" stroke-linecap="square"/>
<line x1="95.5" y1="232.5" x2="97.5" y2="236.5" stroke="#90ee90" stroke-linecap="square"/>
<line x1="97.5" y1="236.5" x2="99.5" y2="232.5" stroke="#90ee90" stroke-linecap="square"/>
<line x1="97.5" y1="236.5" x2="97.5" y2="239.5" stroke="#90ee90" stroke-linecap="square"/>
<line x1="108.5" y1="239.5" x2="108.5" y2="232.5" stroke="#90ee90" stroke-linecap="square"/>
<line x1="108.5" y1="232.5" x2="105.5" y2="237.5" stroke="#90ee90" stroke-linecap="square"/>
<line x1="105.5" y1="237.5" x2="109.5" y2="237.5" stroke="#90ee90" stroke-linecap="square"/>
<line x1="89.5" y1="683.5" x2="89.5" y2="682.5" stroke="#90ee90" stroke-linecap="square"/>
<line x1="89.5" y1="682.5" x2="85.5" y2="682.5" stroke="#90ee90" stroke-linecap="square"/>
<line x1="85.5" y1="682.5" x2="85.5" y2="689.5" stroke="#90ee90" stroke-linecap="square"/>
<line x1="85.5" y1="689.5" x2="89.5" y2="689.5" stroke="#90ee90" stroke-linecap="square"/>
<line x1="89.5" y1="689.5" x2="89.5" y2="688.5" stroke="#90ee90" stroke-linecap="square"/>
<line x1="95.5" y1="682.5" x2="97.5" y2="686.5" stroke="#90ee90" stroke-linecap="square"/>
<line x1="97.5" y1="686.5" x2="99.5" y2="682.5" stroke="#90ee90" stroke-linecap="square"/>
<line x1="97.5" y1="686.5" x2="97.5" y2="689.5" stroke="#90ee90" stroke-linecap="square"/>
<line x1="108.5" y1="689.5" x2="108.5" y2="682.5" stroke="#90ee90" stroke-linecap="square"/>
<line x1="108.5" y1="682.5" x2="105.5" y2="687.5" stroke="#90ee90" stroke-linecap="square"/>
<line x1="105.5" y1="687.5" x2="109.5" y2="687.5" stroke="#90ee90" stroke-linecap="square"/>
<line x1="753.5" y1="164.5" x2="752.5" y2="164.5" stroke="#ffa500" stroke-linecap="square"/>
<line x1="752.5" y1="164.5" x2="752.5" y2="158.5" stroke="#ffa500" stroke-linecap="square"/>
<line x1="752.5" y1="158.5" x2="751.5" y2="157.5" stroke="#ffa500" stroke-linecap="square"/>
<line x1="751.5" y1="157.5" x2="748.5" y2="157.5" stroke="#ffa500" stroke-linecap="square"/>
<line x1="748.5" y1="157.5" x2="747.5" y2="158.5" stroke="#ffa500" stroke-linecap="square"/>
<line x1="747.5" y1="158.5" x2="747.5" y2="161.5" stroke="#ffa500" stroke-linecap="square"/>
<line x1="747.5" y1="161.5" x2="748.5" y2="162.5" stroke="#ffa500" stroke-linecap="square"/>
<line x1="748.5" y1="162.5" x2="752.5" y2="162.5" stroke="#ffa500" stroke-linecap="square"/>
<line x1="759.5" y1="162.5" x2="764.5" y2="162.5" stroke="#ffa500" stroke-linecap="square"/>
<line x1="773.5" y1="162.5" x2="772.5" y2="161.5" stroke="#ffa500" stroke-linecap="square"/>
<line x1="772.5" y1="161.5" x2="772.5" y2="158.5" stroke="#ffa500" stroke-linecap="square"/>
<line x1="772.5" y1="158.5" x2="773.5" y2="157.5" stroke="#ffa500" stroke-linecap="square"/>
<line x1="773.5" y1="157.5" x2="776.5" y2="157.5" stroke="#ffa500" stroke-linecap="square"/>
<line x1="776.5" y1="157.5" x2="777.5" y2="158.5" stroke="#ffa500" stroke-linecap="square"/>
<line x1="777.5" y1="158.5" x2="777.5" y2="161.5" stroke="#ffa500" stroke-linecap="square"/>
<line x1="777.5" y1="161.5" x2="776.5" y2="162.5" stroke="#ffa500" stroke-linecap="square"/>
<line x1="776.5" y1="162.5" x2="773.5" y2="162.5" stroke="#ffa500" stroke-linecap="square"/>
<line x1="785.5" y1="157.5" x2="785.5" y2="161.5" stroke="#ffa500" stroke-linecap="square"/>
<line x1="785.5" y1="161.5" x2="786.5" y2="162.5" stroke="#ffa500" stroke-linecap="square"/>
<line x1="786.5" y1="162.5" x2="789.5" y2="162.5" stroke="#ffa500" stroke-linecap="square"/>
<line x1="789.5" y1="162.5" x2="790.5" y2="161.5" stroke="#ffa500" stroke-linecap="square"/>
<line x1="790.5" y1="161.5" x2="790.5" y2="157.5" stroke="#ffa500" stroke-linecap="square"/>
<line x1="801.5" y1="154.5" x2="801.5" y2="162.5" stroke="#ffa500" stroke-linecap="square"/>
<line x1="801.5" y1="162.5" x2="803.5" y2="162.5" stroke="#ffa500" stroke-linecap="square"/>
<line x1="798.5" y1="157.5" x2="803.5" y2="157.5" stroke="#ffa500" stroke-linecap="square"/>
<line x1="815.5" y1="154.5" x2="810.5" y2="158.5" stroke="#ffa500" stroke-linecap="square"/>
<line x1="810.5" y1="158.5" x2="815.5" y2="162.5" stroke="#ffa500" stroke-linecap="square"/>
<line x1="823.5" y1="155.5" x2="824.5" y2="154.5" stroke="#ffa500" stroke-linecap="square"/>
<line x1="824.5" y1="154.5" x2="827.5" y2="154.5" stroke="#ffa500" stroke-linecap="square"/>
<line x1="827.5" y1="154.5" x2="828.5" y2="155.5" stroke="#ffa500" stroke-linecap="square"/>
<line x1="828.5" y1="155.5" x2="828.5" y2="158.5" stroke="#ffa500" stroke-linecap="square"/>
<line x1="828.5" y1="158.5" x2="823.5" y2="162.5" stroke="#ffa500" stroke-linecap="square"/>
<line x1="823.5" y1="162.5" x2="828.5" y2="162.5" stroke="#ffa500" stroke-linecap="square"/>
<line x1="836.5" y1="154.5" x2="841.5" y2="158.5" stroke="#ffa500" stroke-linecap="square"/>
<line x1="841.5" y1="158.5" x2="836.5" y2="162.5" stroke="#ffa500" stroke-linecap="square"/>
<line x1="753.5" y1="471.5" x2="752.5" y2="471.5" stroke="#ffa500" stroke-linecap="square"/>
<line x1="752.5" y1="471.5" x2="752.5" y2="465.5" stroke="#ffa500" stroke-linecap="square"/>
<line x1="752.5" y1="465.5" x2="751.5" y2="464.5" stroke="#ffa500" stroke-linecap="square"/>
<line x1="751.5" y1="464.5" x2="748.5" y2="464.5" stroke="#ffa500" stroke-linecap="square"/>
<line x1="748.5" y1="464.5" x2="747.5" y2="465.5" stroke="#ffa500" stroke-linecap="square"/>
<line x1="747.5" y1="465.5" x2="747.5" y2="468.5" stroke="#ffa500" stroke-linecap="square"/>
<line x1="747.5" y1="468.5" x2="748.5" y2="469.5" stroke="#ffa500" stroke-linecap="square"/>
<line x1="748.5" y1="469.5" x2="752.5" y2="469.5" stroke="#ffa500" stroke-linecap="square"/>
<line x1="759.5" y1="469.5" x2="764.5" y2="469.5" stroke="#ffa500" stroke-linecap="square"/>
<line x1="773.5" y1="469.5" x2="772.5" y2="468.5" stroke="#ffa500" stroke-linecap="square"/>
<line x1="772.5" y1="468.5" x2="772.5" y2="465.5" stroke="#ffa500" stroke-linecap="square"/>
<line x1="772.5" y1="465.5" x2="773.5" y2="464.5" stroke="#ffa500" stroke-linecap="square"/>
<line x1="773.5" y1="464.5" x2="776.5" y2="464.5" stroke="#ffa500" stroke-linecap="square"/>
<line x1="776.5" y1="464.5" x2="777.5" y2="465.5" stroke="#ffa500" stroke-linecap="square"/>
<line x1="777.5" y1="465.5" x2="777.5" y2="468.5" stroke="#ffa500" stroke-linecap="square"/>
<line x1="777.5" y1="468.5" x2="776.5" y2="469.5" stroke="#ffa500" stroke-linecap="square"/>
<line x1="776.5" y1="469.5" x2="773.5" y2="469.5" stroke="#ffa500" stroke-linecap="square"/>
<line x1="785.5" y1="464.5" x2="785.5" y2="468.5" stroke="#ffa500" stroke-linecap="square"/>
<line x1="785.5" y1="468.5" x2="786.5" y2="469.5" stroke="#ffa500" stroke-linecap="square"/>
<line x1="786.5" y1="469.5" x2="789.5" y2="469.5" stroke="#ffa500" stroke-linecap="square"/>
<line x1="789.5" y1="469.5" x2="790.5" y2="468.5" stroke="#ffa500" stroke-linecap="square"/>
<line x1="790.5" y1="468.5" x2="790.5" y2="464.5" stroke="#ffa500" stroke-linecap="square"/>
<line x1="801.5" y1="461.5" x2="801.5" y2="469.5" stroke="#ffa500" stroke-linecap="square"/>
<line x1="801.5" y1="469.5" x2="803.5" y2="469.5" stroke="#ffa500" stroke-linecap="square"/>
<line x1="798.5" y1="464.5" x2="803.5" y2="464.5" stroke="#ffa500" stroke-linecap="square"/>
<line x1="815.5" y1="461.5" x2="810.5" y2="465.5" stroke="#ffa500" stroke-linecap="square"/>
<line x1="810.5" y1="465.5" x2="815.5" y2="469.5" stroke="#ffa500" stroke-linecap="square"/>
<line x1="824.5" y1="462.5" x2="826.5" y2="461.5" stroke="#ffa500" stroke-linecap="square"/>
<line x1="826.5" y1="461.5" x2="826.5" y2="469.5" stroke="#ffa500" stroke-linecap="square"/>
<line x1="824.5" y1="469.5" x2="827.5" y2="469.5" stroke="#ffa500" stroke-linecap="square"/>
<line x1="836.5" y1="461.5" x2="841.5" y2="465.5" stroke="#ffa500" stroke-linecap="square"/>
<line x1="841.5" y1="465.5" x2="836.5" y2="469.5" stroke="#ffa500" stroke-linecap="square"/>
<line x1="753.5" y1="635.5" x2="752.5" y2="635.5" stroke="#ffa500" stroke-linecap="square"/>
<line x1="752.5" y1="635.5" x2="752.5" y2="629.5" stroke="#ffa500" stroke-linecap="square"/>
<line x1="752.5" y1="629.5" x2="751.5" y2="628.5" stroke="#ffa500" stroke-linecap="square"/>
<line x1="751.5" y1="628.5" x2="748.5" y2="628.5" stroke="#ffa500" stroke-linecap="square"/>
<line x1="748.5" y1="628.5" x2="747.5" y2="629.5" stroke="#ffa500" stroke-linecap="square"/>
<line x1="747.5" y1="629.5" x2="747.5" y2="632.5" stroke="#ffa500" stroke-linecap="square"/>
<line x1="747.5" y1="632.5" x2="748.5" y2="633.5" stroke="#ffa500" stroke-linecap="square"/>
<line x1="748.5" y1="633.5" x2="752.5" y2="633.5" stroke="#ffa500" stroke-linecap="square"/>
<line x1="759.5" y1="633.5" x2="764.5" y2="633.5" stroke="#ffa500" stroke-linecap="square"/>
<line x1="773.5" y1="633.5" x2="772.5" y2="632.5" stroke="#ffa500" stroke-linecap="square"/>
<line x1="772.5" y1="632.5" x2="772.5" y2="629.5" stroke="#ffa500" stroke-linecap="square"/>
<line x1="772.5" y1="629.5" x2="773.5" y2="628.5" stroke="#ffa500" stroke-linecap="square"/>
<line x1="773.5" y1="628.5" x2="776.5" y2="628.5" stroke="#ffa500" stroke-linecap="square"/>
<line x1="776.5" y1="628.5" x2="777.5" y2="629.5" stroke="#ffa500" stroke-linecap="square"/>
<line x1="777.5" y1="629.5" x2="777.5" y2="632.5" stroke="#ffa500" stroke-linecap="square"/>
<line x1="777.5" y1="632.5" x2="776.5" y2="633.5" stroke="#ffa500" stroke-linecap="square"/>
<line x1="776.5" y1="633.5" x2="773.5" y2="633.5" stroke="#ffa500" stroke-linecap="square"/>
<line x1="785.5" y1="628.5" x2="785.5" y2="632.5" stroke="#ffa500" stroke-linecap="square"/>
<line x1="785.5" y1="632.5" x2="786.5" y2="633.5" stroke="#ffa500" stroke-linecap="square"/>
<line x1="786.5" y1="633.5" x2="789.5" y2="633.5" stroke="#ffa500" stroke-linecap="square"/>
<line x1="789.5" y1="633.5" x2="790.5" y2="632.5" stroke="#ffa500" stroke-linecap="square"/>
<line x1="790.5" y1="632.5" x2="790.5" y2="628.5" stroke="#ffa500" stroke-linecap="square"/>
<line x1="801.5" y1="625.5" x2="801.5" y2="633.5" stroke="#ffa500" stroke-linecap="square"/>
<line x1="801.5" y1="633.5" x2="803.5" y2="633.5" stroke="#ffa500" stroke-linecap="square"/>
<line x1="798.5" y1="628.5" x2="803.5" y2="628.5" stroke="#ffa500" stroke-linecap="square"/>
<line x1="815.5" y1="625.5" x2="810.5" y2="629.5" stroke="#ffa500" stroke-linecap="square"/>
<line x1="810.5" y1="629.5" x2="815.5" y2="633.5" stroke="#ffa500" stroke-linecap="square"/>
<line x1="824.5" y1="633.5" x2="823.5" y2="632.5" stroke="#ffa500" stroke-linecap="square"/>
<line x1="823.5" y1="632.5" x2="823.5" y2="626.5" stroke="#ffa500" stroke-linecap="square"/>
<line x1="823.5" y1="626.5" x2="824.5" y2="625.5" stroke="#ffa500" stroke-linecap="square"/>
<line x1="824.5" y1="625.5" x2="827.5" y2="625.5" stroke="#ffa500" stroke-linecap="square"/>
<line x1="827.5" y1="625.5" x2="828.5" y2="626.5" stroke="#ffa500" stroke-linecap="square"/>
<line x1="828.5" y1="626.5" x2="828.5" y2="632.5" stroke="#ffa500" stroke-linecap="square"/>
<line x1="828.5" y1="632.5" x2="827.5" y2="633.5" stroke="#ffa500" stroke-linecap="square"/>
<line x1="827.5" y1="633.5" x2="824.5" y2="633.5" stroke="#ffa500" stroke-linecap="square"/>
<line x1="836.5" y1="625.5" x2="841.5" y2="629.5" stroke="#ffa500" stroke-linecap="square"/>
<line x1="841.5" y1="629.5" x2="836.5" y2="633.5" stroke="#ffa500" stroke-linecap="square"/>
<line x1="28.5" y1="584.5" x2="28.5" y2="591.5" stroke="#ffa500" stroke-linecap="square"/>
<line x1="28.5" y1="591.5" x2="27.5" y2="592.5" stroke="#ffa500" stroke-linecap="square"/>
<line x1="27.5" y1="592.5" x2="24.5" y2="592.5" stroke="#ffa500" stroke-linecap="square"/>
<line x1="24.5" y1="592.5" x2="23.5" y2="591.5" stroke="#ffa500" stroke-linecap="square"/>
<line x1="23.5" y1="591.5" x2="23.5" y2="588.5" stroke="#ffa500" stroke-linecap="square"/>
<line x1="23.5" y1="588.5" x2="24.5" y2="587.5" stroke="#ffa500" stroke-linecap="square"/>
<line x1="24.5" y1="587.5" x2="28.5" y2="587.5" stroke="#ffa500" stroke-linecap="square"/>
<line x1="35.5" y1="592.5" x2="40.5" y2="592.5" stroke="#ffa500" stroke-linecap="square"/>
<line x1="49.5" y1="587.5" x2="51.5" y2="587.5" stroke="#ffa500" stroke-linecap="square"/>
<line x1="51.5" y1="587.5" x2="51.5" y2="592.5" stroke="#ffa500" stroke-linecap="square"/>
<line x1="49.5" y1="592.5" x2="52.5" y2="592.5" stroke="#ffa500" stroke-linecap="square"/>
<line x1="51.5" y1="585.5" x2="51.5" y2="584.5" stroke="#ffa500" stroke-linecap="square"/>
<line x1="61.5" y1="592.5" x2="61.5" y2="588.5" stroke="#ffa500" stroke-linecap="square"/>
<line x1="61.5" y1="588.5" x2="62.5" y2="587.5" stroke="#ffa500" stroke-linecap="square"/>
<line x1="62.5" y1="587.5" x2="65.5" y2="587.5" stroke="#ffa500" stroke-linecap="square"/>
<line x1="65.5" y1="587.5" x2="66.5" y2="588.5" stroke="#ffa500" stroke-linecap="square"/>
<line x1="66.5" y1="588.5" x2="66.5" y2="592.5" stroke="#ffa500" stroke-linecap="square"/>
<line x1="79.5" y1="584.5" x2="74.5" y2="588.5" stroke="#ffa500" stroke-linecap="square"/>
<line x1="74.5" y1="588.5" x2="79.5" y2="592.5" stroke="#ffa500" stroke-linecap="square"/>
<line x1="87.5" y1="592.5" x2="86.5" y2="591.5" stroke="#ffa500" stroke-linecap="square"/>
<line x1="86.5" y1="591.5" x2="86.5" y2="585.5" stroke="#ffa500" stroke-linecap="square"/>
<line x1="86.5" y1="585.5" x2="87.5" y2="584.5" stroke="#ffa500" stroke-linecap="square"/>
<line x1="87.5" y1="584.5" x2="90.5" y2="584.5" stroke="#ffa500" stroke-linecap="square"/>
<line x1="90.5" y1="584.5" x2="91.5" y2="585.5" stroke="#ffa500" stroke-linecap="square"/>
<line x1="91.5" y1="585.5" x2="91.5" y2="591.5" stroke="#ffa500" stroke-linecap="square"/>
<line x1="91.5" y1="591.5" x2="90.5" y2="592.5" stroke="#ffa500" stroke-linecap="square"/>
<line x1="90.5" y1="592.5" x2="87.5" y2="592.5" stroke="#ffa500" stroke-linecap="square"/>
<line x1="99.5" y1="584.5" x2="104.5" y2="588.5" stroke="#ffa500" stroke-linecap="square"/>
<line x1="104.5" y1="588.5" x2="99.5" y2="592.5" stroke="#ffa500" stroke-linecap="square"/>
<line x1="24.5" y1="614.5" x2="26.5" y2="614.5" stroke="#ffa500" stroke-linecap="square"/>
<line x1="26.5" y1="614.5" x2="26.5" y2="622.5" stroke="#ffa500" stroke-linecap="square"/>
<line x1="24.5" y1="622.5" x2="28.5" y2="622.5" stroke="#ffa500" stroke-linecap="square"/>
<line x1="36.5" y1="622.5" x2="35.5" y2="621.5" stroke="#ffa500" stroke-linecap="square"/>
<line x1="35.5" y1="621.5" x2="35.5" y2="618.5" stroke="#ffa500" stroke-linecap="square"/>
<line x1="35.5" y1="618.5" x2="36.5" y2="617.5" stroke="#ffa500" stroke-linecap="square"/>
<line x1="36.5" y1="617.5" x2="39.5" y2="617.5" stroke="#ffa500" stroke-linecap="square"/>
<line x1="39.5" y1="617.5" x2="40.5" y2="618.5" stroke="#ffa500" stroke-linecap="square"/>
<line x1="40.5" y1="618.5" x2="40.5" y2="621.5" stroke="#ffa500" stroke-linecap="square"/>
<line x1="40.5" y1="621.5" x2="39.5" y2="622.5" stroke="#ffa500" stroke-linecap="square"/>
<line x1="39.5" y1="622.5" x2="36.5" y2="622.5" stroke="#ffa500" stroke-linecap="square"/>
<line x1="48.5" y1="617.5" x2="52.5" y2="617.5" stroke="#ffa500" stroke-linecap="square"/>
<line x1="52.5" y1="617.5" x2="53.5" y2="618.5" stroke="#ffa500" stroke-linecap="square"/>
<line x1="53.5" y1="618.5" x2="53.5" y2="621.5" stroke="#ffa500" stroke-linecap="square"/>
<line x1="53.5" y1="621.5" x2="52.5" y2="622.5" stroke="#ffa500" stroke-linecap="square"/>
<line x1="52.5" y1="622.5" x2="48.5" y2="622.5" stroke="#ffa500" stroke-linecap="square"/>
<line x1="48.5" y1="622.5" x2="48.5" y2="620.5" stroke="#ffa500" stroke-linecap="square"/>
<line x1="48.5" y1="620.5" x2="53.5" y2="620.5" stroke="#ffa500" stroke-linecap="square"/>
<line x1="66.5" y1="614.5" x2="66.5" y2="621.5" stroke="#ffa500" stroke-linecap="square"/>
<line x1="66.5" y1="621.5" x2="65.5" y2="622.5" stroke="#ffa500" stroke-linecap="square"/>
<line x1="65.5" y1="622.5" x2="62.5" y2="622.5" stroke="#ffa500" stroke-linecap="square"/>
<line x1="62.5" y1="622.5" x2="61.5" y2="621.5" stroke="#ffa500" stroke-linecap="square"/>
<line x1="61.5" y1="621.5" x2="61.5" y2="618.5" stroke="#ffa500" stroke-linecap="square"/>
<line x1="61.5" y1="618.5" x2="62.5" y2="617.5" stroke="#ffa500" stroke-linecap="square"/>
<line x1="62.5" y1="617.5" x2="66.5" y2="617.5" stroke="#ffa500" stroke-linecap="square"/>
<line x1="23.5" y1="751.5" x2="23.5" y2="755.5" stroke="#ffa500" stroke-linecap="square"/>
<line x1="23.5" y1="755.5" x2="24.5" y2="756.5" stroke="#ffa500" stroke-linecap="square"/>
<line x1="24.5" y1="756.5" x2="27.5" y2="756.5" stroke="#ffa500" stroke-linecap="square"/>
<line x1="27.5" y1="756.5" x2="28.5" y2="755.5" stroke="#ffa500" stroke-linecap="square"/>
<line x1="28.5" y1="755.5" x2="28.5" y2="751.5" stroke="#ffa500" stroke-linecap="square"/>
<line x1="35.5" y1="758.5" x2="35.5" y2="752.5" stroke="#ffa500" stroke-linecap="square"/>
<line x1="35.5" y1="752.5" x2="36.5" y2="751.5" stroke="#ffa500" stroke-linecap="square"/>
<line x1="36.5" y1="751.5" x2="39.5" y2="751.5" stroke="#ffa500" stroke-linecap="square"/>
<line x1="39.5" y1="751.5" x2="40.5" y2="752.5" stroke="#ffa500" stroke-linecap="square"/>
<line x1="40.5" y1="752.5" x2="40.5" y2="755.5" stroke="#ffa500" stroke-linecap="square"/>
<line x1="40.5" y1="755.5" x2="39.5" y2="756.5" stroke="#ffa500" stroke-linecap="square"/>
<line x1="39.5" y1="756.5" x2="35.5" y2="756.5" stroke="#ffa500" stroke-linecap="square"/>
<line x1="48.5" y1="756.5" x2="53.5" y2="756.5" stroke="#ffa500" stroke-linecap="square"/>
<line x1="66.5" y1="748.5" x2="66.5" y2="755.5" stroke="#ffa500" stroke-linecap="square"/>
<line x1="66.5" y1="755.5" x2="65.5" y2="756.5" stroke="#ffa500" stroke-linecap="square"/>
<line x1="65.5" y1="756.5" x2="62.5" y2="756.5" stroke="#ffa500" stroke-linecap="square"/>
<line x1="62.5" y1="756.5" x2="61.5" y2="755.5" stroke="#ffa500" stroke-linecap="square"/>
<line x1="61.5" y1="755.5" x2="61.5" y2="752.5" stroke="#ffa500" stroke-linecap="square"/>
<line x1="61.5" y1="752.5" x2="62.5" y2="751.5" stroke="#ffa500" stroke-linecap="square"/>
<line x1="62.5" y1="751.5" x2="66.5" y2="751.5" stroke="#ffa500" stroke-linecap="square"/>
<line x1="74.5" y1="756.5" x2="74.5" y2="752.5" stroke="#ffa500" stroke-linecap="square"/>
<line x1="74.5" y1="752.5" x2="75.5" y2="751.5" stroke="#ffa500" stroke-linecap="square"/>
<line x1="75.5" y1="751.5" x2="78.5" y2="751.5" stroke="#ffa500" stroke-linecap="square"/>
<line x1="78.5" y1="751.5" x2="79.5" y2="752.5" stroke="#ffa500" stroke-linecap="square"/>
<line x1="79.5" y1="752.5" x2="79.5" y2="756.5" stroke="#ffa500" stroke-linecap="square"/>
<line x1="64.5" y1="812.5" x2="60.5" y2="812.5" stroke="#ffa500" stroke-linecap="square"/>
<line x1="60.5" y1="812.5" x2="59.5" y2="813.5" stroke="#ffa500" stroke-linecap="square"/>
<line x1="59.5" y1="813.5" x2="59.5" y2="816.5" stroke="#ffa500" stroke-linecap="square"/>
<line x1="59.5" y1="816.5" x2="60.5" y2="817.5" stroke="#ffa500" stroke-linecap="square"/>
<line x1="60.5" y1="817.5" x2="64.5" y2="817.5" stroke="#ffa500" stroke-linecap="square"/>
<line x1="72.5" y1="810.5" x2="74.5" y2="810.5" stroke="#ffa500" stroke-linecap="square"/>
<line x1="74.5" y1="810.5" x2="74.5" y2="817.5" stroke="#ffa500" stroke-linecap="square"/>
<line x1="72.5" y1="817.5" x2="76.5" y2="817.5" stroke="#ffa500" stroke-linecap="square"/>
<line x1="84.5" y1="817.5" x2="84.5" y2="810.5" stroke="#ffa500" stroke-linecap="square"/>
<line x1="89.5" y1="812.5" x2="84.5" y2="815.5" stroke="#ffa500" stroke-linecap="square"/>
<line x1="86.5" y1="814.5" x2="89.5" y2="817.5" stroke="#ffa500" stroke-linecap="square"/>
<line x1="97.5" y1="817.5" x2="102.5" y2="817.5" stroke="#ffa500" stroke-linecap="square"/>
<line x1="110.5" y1="814.5" x2="115.5" y2="814.5" stroke="#ffa500" stroke-linecap="square"/>
<line x1="115.5" y1="814.5" x2="115.5" y2="812.5" stroke="#ffa500" stroke-linecap="square"/>
<line x1="115.5" y1="812.5" x2="111.5" y2="812.5" stroke="#ffa500" stroke-linecap="square"/>
<line x1="111.5" y1="812.5" x2="110.5" y2="813.5" stroke="#ffa500" stroke-linecap="square"/>
<line x1="110.5" y1="813.5" x2="110.5" y2="816.5" stroke="#ffa500" stroke-linecap="square"/>
<line x1="110.5" y1="816.5" x2="111.5" y2="817.5" stroke="#ffa500" stroke-linecap="square"/>
<line x1="111.5" y1="817.5" x2="115.5" y2="817.5" stroke="#ffa500" stroke-linecap="square"/>
<line x1="122.5" y1="817.5" x2="122.5" y2="813.5" stroke="#ffa500" stroke-linecap="square"/>
<line x1="122.5" y1="813.5" x2="123.5" y2="812.5" stroke="#ffa500" stroke-linecap="square"/>
<line x1="123.5" y1="812.5" x2="126.5" y2="812.5" stroke="#ffa500" stroke-linecap="square"/>
<line x1="126.5" y1="812.5" x2="127.5" y2="813.5" stroke="#ffa500" stroke-linecap="square"/>
<line x1="127.5" y1="813.5" x2="127.5" y2="817.5" stroke="#ffa500" stroke-linecap="square"/>
<line x1="64.5" y1="822.5" x2="60.5" y2="822.5" stroke="#ffa500" stroke-linecap="square"/>
<line x1="60.5" y1="822.5" x2="59.5" y2="823.5" stroke="#ffa500" stroke-linecap="square"/>
<line x1="59.5" y1="823.5" x2="59.5" y2="826.5" stroke="#ffa500" stroke-linecap="square"/>
<line x1="59.5" y1="826.5" x2="60.5" y2="827.5" stroke="#ffa500" stroke-linecap="square"/>
<line x1="60.5" y1="827.5" x2="64.5" y2="827.5" stroke="#ffa500" stroke-linecap="square"/>
<line x1="72.5" y1="820.5" x2="74.5" y2="820.5" stroke="#ffa500" stroke-linecap="square"/>
<line x1="74.5" y1="820.5" x2="74.5" y2="827.5" stroke="#ffa500" stroke-linecap="square"/>
<line x1="72.5" y1="827.5" x2="76.5" y2="827.5" stroke="#ffa500" stroke-linecap="square"/>
<line x1="85.5" y1="827.5" x2="84.5" y2="826.5" stroke="#ffa500" stroke-linecap="square"/>
<line x1="84.5" y1="826.5" x2="84.5" y2="823.5" stroke="#ffa500" stroke-linecap="square"/>
<line x1="84.5" y1="823.5" x2="85.5" y2="822.5" stroke="#ffa500" stroke-linecap="square"/>
<line x1="85.5" y1="822.5" x2="88.5" y2="822.5" stroke="#ffa500" stroke-linecap="square"/>
<line x1="88.5" y1="822.5" x2="89.5" y2="823.5" stroke="#ffa500" stroke-linecap="square"/>
<line x1="89.5" y1="823.5" x2="89.5" y2="826.5" stroke="#ffa500" stroke-linecap="square"/>
<line x1="89.5" y1="826.5" x2="88.5" y2="827.5" stroke="#ffa500" stroke-linecap="square"/>
<line x1="88.5" y1="827.5" x2="85.5" y2="827.5" stroke="#ffa500" stroke-linecap="square"/>
<line x1="102.5" y1="822.5" x2="98.5" y2="822.5" stroke="#ffa500" stroke-linecap="square"/>
<line x1="98.5" y1="822.5" x2="97.5" y2="823.5" stroke="#ffa500" stroke-linecap="square"/>
<line x1="97.5" y1="823.5" x2="97.5" y2="826.5" stroke="#ffa500" stroke-linecap="square"/>
<line x1="97.5" y1="826.5" x2="98.5" y2="827.5" stroke="#ffa500" stroke-linecap="square"/>
<line x1="98.5" y1="827.5" x2="102.5" y2="827.5" stroke="#ffa500" stroke-linecap="square"/>
<line x1="110.5" y1="827.5" x2="110.5" y2="820.5" stroke="#ffa500" stroke-linecap="square"/>
<line x1="115.5" y1="822.5" x2="110.5" y2="825.5" stroke="#ffa500" stroke-linecap="square"/>
<line x1="112.5" y1="824.5" x2="115.5" y2="827.5" stroke="#ffa500" stroke-linecap="square"/>
<line x1="59.5" y1="842.5" x2="63.5" y2="842.5" stroke="#ffa500" stroke-linecap="square"/>
<line x1="63.5" y1="842.5" x2="64.5" y2="843.5" stroke="#ffa500" stroke-linecap="square"/>
<line x1="64.5" y1="843.5" x2="64.5" y2="846.5" stroke="#ffa500" stroke-linecap="square"/>
<line x1="64.5" y1="846.5" x2="63.5" y2="847.5" stroke="#ffa500" stroke-linecap="square"/>
<line x1="63.5" y1="847.5" x2="60.5" y2="847.5" stroke="#ffa500" stroke-linecap="square"/>
<line x1="60.5" y1="847.5" x2="59.5" y2="846.5" stroke="#ffa500" stroke-linecap="square"/>
<line x1="59.5" y1="846.5" x2="59.5" y2="845.5" stroke="#ffa500" stroke-linecap="square"/>
<line x1="59.5" y1="845.5" x2="60.5" y2="844.5" stroke="#ffa500" stroke-linecap="square"/>
<line x1="60.5" y1="844.5" x2="64.5" y2="844.5" stroke="#ffa500" stroke-linecap="square"/>
<line x1="76.5" y1="842.5" x2="71.5" y2="842.5" stroke="#ffa500" stroke-linecap="square"/>
<line x1="71.5" y1="842.5" x2="71.5" y2="844.5" stroke="#ffa500" stroke-linecap="square"/>
<line x1="71.5" y1="844.5" x2="75.5" y2="844.5" stroke="#ffa500" stroke-linecap="square"/>
<line x1="75.5" y1="844.5" x2="76.5" y2="845.5" stroke="#ffa500" stroke-linecap="square"/>
<line x1="76.5" y1="845.5" x2="76.5" y2="846.5" stroke="#ffa500" stroke-linecap="square"/>
<line x1="76.5" y1="846.5" x2="75.5" y2="847.5" stroke="#ffa500" stroke-linecap="square"/>
<line x1="75.5" y1="847.5" x2="71.5" y2="847.5" stroke="#ffa500" stroke-linecap="square"/>
<line x1="84.5" y1="842.5" x2="87.5" y2="847.5" stroke="#ffa500" stroke-linecap="square"/>
<line x1="89.5" y1="842.5" x2="86.5" y2="849.5" stroke="#ffa500" stroke-linecap="square"/>
<line x1="97.5" y1="847.5" x2="97.5" y2="843.5" stroke="#ffa500" stroke-linecap="square"/>
<line x1="97.5" y1="843.5" x2="98.5" y2="842.5" stroke="#ffa500" stroke-linecap="square"/>
<line x1="98.5" y1="842.5" x2="101.5" y2="842.5" stroke="#ffa500" stroke-linecap="square"/>
<line x1="101.5" y1="842.5" x2="102.5" y2="843.5" stroke="#ffa500" stroke-linecap="square"/>
<line x1="102.5" y1="843.5" x2="102.5" y2="847.5" stroke="#ffa500" stroke-linecap="square"/>
<line x1="115.5" y1="842.5" x2="111.5" y2="842.5" stroke="#ffa500" stroke-linecap="square"/>
<line x1="111.5" y1="842.5" x2="110.5" y2="843.5" stroke="#ffa500" stroke-linecap="square"/>
<line x1="110.5" y1="843.5" x2="110.5" y2="846.5" stroke="#ffa500" stroke-linecap="square"/>
<line x1="110.5" y1="846.5" x2="111.5" y2="847.5" stroke="#ffa500" stroke-linecap="square"/>
<line x1="111.5" y1="847.5" x2="115.5" y2="847.5" stroke="#ffa500" stroke-linecap="square"/>
<line x1="122.5" y1="847.5" x2="127.5" y2="847.5" stroke="#ffa500" stroke-linecap="square"/>
<line x1="140.5" y1="842.5" x2="136.5" y2="842.5" stroke="#ffa500" stroke-linecap="square"/>
<line x1="136.5" y1="842.5" x2="135.5" y2="843.5" stroke="#ffa500" stroke-linecap="square"/>
<line x1="135.5" y1="843.5" x2="135.5" y2="846.5" stroke="#ffa500" stroke-linecap="square"/>
<line x1="135.5" y1="846.5" x2="136.5" y2="847.5" stroke="#ffa500" stroke-linecap="square"/>
<line x1="136.5" y1="847.5" x2="140.5" y2="847.5" stroke="#ffa500" stroke-linecap="square"/>
<line x1="151.5" y1="840.5" x2="151.5" y2="847.5" stroke="#ffa500" stroke-linecap="square"/>
<line x1="151.5" y1="847.5" x2="153.5" y2="847.5" stroke="#ffa500" stroke-linecap="square"/>
<line x1="148.5" y1="842.5" x2="153.5" y2="842.5" stroke="#ffa500" stroke-linecap="square"/>
<line x1="161.5" y1="847.5" x2="161.5" y2="842.5" stroke="#ffa500" stroke-linecap="square"/>
<line x1="161.5" y1="842.5" x2="166.5" y2="842.5" stroke="#ffa500" stroke-linecap="square"/>
<line x1="166.5" y1="842.5" x2="166.5" y2="843.5" stroke="#ffa500" stroke-linecap="square"/>
<line x1="174.5" y1="840.5" x2="176.5" y2="840.5" stroke="#ffa500" stroke-linecap="square"/>
<line x1="176.5" y1="840.5" x2="176.5" y2="847.5" stroke="#ffa500" stroke-linecap="square"/>
<line x1="174.5" y1="847.5" x2="178.5" y2="847.5" stroke="#ffa500" stroke-linecap="square"/>
<line x1="64.5" y1="853.5" x2="59.5" y2="853.5" stroke="#ffa500" stroke-linecap="square"/>
<line x1="59.5" y1="853.5" x2="59.5" y2="855.5" stroke="#ffa500" stroke-linecap="square"/>
<line x1="59.5" y1="855.5" x2="63.5" y2="855.5" stroke="#ffa500" stroke-linecap="square"/>
<line x1="63.5" y1="855.5" x2="64.5" y2="856.5" stroke="#ffa500" stroke-linecap="square"/>
<line x1="64.5" y1="856.5" x2="64.5" y2="857.5" stroke="#ffa500" stroke-linecap="square"/>
<line x1="64.5" y1="857.5" x2="63.5" y2="858.5" stroke="#ffa500" stroke-linecap="square"/>
<line x1="63.5" y1="858.5" x2="59.5" y2="858.5" stroke="#ffa500" stroke-linecap="square"/>
<line x1="71.5" y1="853.5" x2="74.5" y2="858.5" stroke="#ffa500" stroke-linecap="square"/>
<line x1="76.5" y1="853.5" x2="73.5" y2="860.5" stroke="#ffa500" stroke-linecap="square"/>
<line x1="84.5" y1="858.5" x2="84.5" y2="854.5" stroke="#ffa500" stroke-linecap="square"/>
<line x1="84.5" y1="854.5" x2="85.5" y2="853.5" stroke="#ffa500" stroke-linecap="square"/>
<line x1="85.5" y1="853.5" x2="88.5" y2="853.5" stroke="#ffa500" stroke-linecap="square"/>
<line x1="88.5" y1="853.5" x2="89.5" y2="854.5" stroke="#ffa500" stroke-linecap="square"/>
<line x1="89.5" y1="854.5" x2="89.5" y2="858.5" stroke="#ffa500" stroke-linecap="square"/>
<line x1="102.5" y1="853.5" x2="98.5" y2="853.5" stroke="#ffa500" stroke-linecap="square"/>
<line x1="98.5" y1="853.5" x2="97.5" y2="854.5" stroke="#ffa500" stroke-linecap="square"/>
<line x1="97.5" y1="854.5" x2="97.5" y2="857.5" stroke="#ffa500" stroke-linecap="square"/>
<line x1="97.5" y1="857.5" x2="98.5" y2="858.5" stroke="#ffa500" stroke-linecap="square"/>
<line x1="98.5" y1="858.5" x2="102.5" y2="858.5" stroke="#ffa500" stroke-linecap="square"/>
<line x1="110.5" y1="858.5" x2="115.5" y2="858.5" stroke="#ffa500" stroke-linecap="square"/>
<line x1="127.5" y1="853.5" x2="123.5" y2="853.5" stroke="#ffa500" stroke-linecap="square"/>
<line x1="123.5" y1="853.5" x2="122.5" y2="854.5" stroke="#ffa500" stroke-linecap="square"/>
<line x1="122.5" y1="854.5" x2="122.5" y2="857.5" stroke="#ffa500" stroke-linecap="square"/>
<line x1="122.5" y1="857.5" x2="123.5" y2="858.5" stroke="#ffa500" stroke-linecap="square"/>
<line x1="123.5" y1="858.5" x2="127.5" y2="858.5" stroke="#ffa500" stroke-linecap="square"/>
<line x1="138.5" y1="851.5" x2="138.5" y2="858.5" stroke="#ffa500" stroke-linecap="square"/>
<line x1="138.5" y1="858.5" x2="140.5" y2="858.5" stroke="#ffa500" stroke-linecap="square"/>
<line x1="135.5" y1="853.5" x2="140.5" y2="853.5" stroke="#ffa500" stroke-linecap="square"/>
<line x1="148.5" y1="858.5" x2="148.5" y2="853.5" stroke="#ffa500" stroke-linecap="square"/>
<line x1="148.5" y1="853.5" x2="153.5" y2="853.5" stroke="#ffa500" stroke-linecap="square"/>
<line x1="153.5" y1="853.5" x2="153.5" y2="854.5" stroke="#ffa500" stroke-linecap="square"/>
<line x1="162.5" y1="851.5" x2="164.5" y2="851.5" stroke="#ffa500" stroke-linecap="square"/>
<line x1="164.5" y1="851.5" x2="164.5" y2="858.5" stroke="#ffa500" stroke-linecap="square"/>
<line x1="162.5" y1="858.5" x2="166.5" y2="858.5" stroke="#ffa500" stroke-linecap="square"/>
</g>
<g>
<circle cx="387.5" cy="118.5" r="2.6" fill="#ff0000"/>
<circle cx="392.5" cy="129.5" r="2.6" fill="#ff0000"/>
<circle cx="387.5" cy="139.5" r="2.6" fill="#ff0000"/>
<circle cx="392.5" cy="171.5" r="2.6" fill="#ff0000"/>
<circle cx="387.5" cy="425.5" r="2.6" fill="#ff0000"/>
<circle cx="392.5" cy="435.5" r="2.6" fill="#ff0000"/>
<circle cx="387.5" cy="446.5" r="2.6" fill="#ff0000"/>
<circle cx="48.5" cy="292.5" r="2.6" fill="#ff0000"/>
<circle cx="133.5" cy="446.5" r="2.6" fill="#ff0000"/>
<circle cx="61.5" cy="742.5" r="2.6" fill="#ff0000"/>
<circle cx="527.5" cy="170.5" r="2.6" fill="#ff0000"/>
<circle cx="532.5" cy="180.5" r="2.6" fill="#ff0000"/>
<circle cx="535.5" cy="195.7" r="2.6" fill="#ff0000"/>
<circle cx="525.5" cy="476.5" r="2.6" fill="#ff0000"/>
<circle cx="530.5" cy="487.5" r="2.6" fill="#ff0000"/>
<circle cx="536.5" cy="502.5" r="2.6" fill="#ff0000"/>
<circle cx="525.5" cy="640.5" r="2.6" fill="#ff0000"/>
<circle cx="530.5" cy="650.5" r="2.6" fill="#ff0000"/>
<circle cx="536" cy="665.5" r="2.6" fill="#ff0000"/>
<circle cx="627.5" cy="159.5" r="2.6" fill="#ff0000"/>
<circle cx="627.5" cy="223.5" r="2.6" fill="#ff0000"/>
<circle cx="627.5" cy="466.5" r="2.6" fill="#ff0000"/>
<circle cx="627.5" cy="517.5" r="2.6" fill="#ff0000"/>
<circle cx="622.5" cy="630.5" r="2.6" fill="#ff0000"/>
<circle cx="622.5" cy="681.5" r="2.6" fill="#ff0000"/>
<circle cx="173.5" cy="604.5" r="2.6" fill="#ff0000"/>
<circle cx="178.5" cy="630.5" r="2.6" fill="#ff0000"/>
<circle cx="240.5" cy="630.5" r="2.6" fill="#ff0000"/>
<circle cx="434.5" cy="635.5" r="2.6" fill="#ff0000"/>
<path d="M451.5,116.5 H466 A5.5,7.75 0 0 1 466,132 H451.5 Z" fill="#ffa500" stroke="#00ff00" stroke-width="1.2"/>
<path d="M449.5,136.5 H464 A5.5,7.75 0 0 1 464,152 H449.5 Z" fill="#ffa500" stroke="#00ff00" stroke-width="1.2"/>
<path d="M488.5,121.5 H502.5 Q508.5,123 511,129 Q508.5,135 502.5,136.5 H488.5 Q496.5,129 488.5,121.5 Z" fill="#ffa500" stroke="#00ff00" stroke-width="1.2"/>
<path d="M480.5,158.5 H495 A5.5,7.75 0 0 1 495,174 H480.5 Z" fill="#ff0000" stroke="#00ff00" stroke-width="1.2"/>
<path d="M413.5,134.75 L422.5,139.5 L413.5,144.25 Z" fill="#ffa500" stroke="#00ff00" stroke-width="1.2"/>
<circle cx="426.5" cy="139.5" r="2.7" fill="none" stroke="#00ffff" stroke-width="1.1"/>
<path d="M445.5,166.75 L454.5,171.5 L445.5,176.25 Z" fill="#ff0000" stroke="#00ff00" stroke-width="1.2"/>
<circle cx="458.5" cy="171.5" r="2.7" fill="none" stroke="#00ffff" stroke-width="1.1"/>
<path d="M324.5,139.5 V143 L326.5,143.5 Q330,149.5 326.5,155.5 L324.5,156 V159.5 M326.5,141.5 H338 Q345.5,142.5 349.5,149.5 Q345.5,156.5 338,157.5 H326.5 Q334.5,149.5 326.5,141.5" fill="none" stroke="#00ff00" stroke-width="1.2"/>
<path d="M450.5,423 H465 A5.5,7.75 0 0 1 465,438.5 H450.5 Z" fill="#ffa500" stroke="#00ff00" stroke-width="1.2"/>
<path d="M448.5,443 H463 A5.5,7.75 0 0 1 463,458.5 H448.5 Z" fill="#ffa500" stroke="#00ff00" stroke-width="1.2"/>
<path d="M487.5,428 H501.5 Q507.5,429.5 510,435.5 Q507.5,441.5 501.5,443 H487.5 Q495.5,435.5 487.5,428 Z" fill="#ffa500" stroke="#00ff00" stroke-width="1.2"/>
<path d="M479.5,465 H494 A5.5,7.75 0 0 1 494,480.5 H479.5 Z" fill="#ff0000" stroke="#00ff00" stroke-width="1.2"/>
<path d="M413.5,441.75 L422.5,446.5 L413.5,451.25 Z" fill="#ffa500" stroke="#00ff00" stroke-width="1.2"/>
<circle cx="426.5" cy="446.5" r="2.7" fill="none" stroke="#00ffff" stroke-width="1.1"/>
<path d="M444.5,473.75 L453.5,478.5 L444.5,483.25 Z" fill="#ff0000" stroke="#00ff00" stroke-width="1.2"/>
<circle cx="457.5" cy="478.5" r="2.7" fill="none" stroke="#00ffff" stroke-width="1.1"/>
<path d="M324.5,446.5 V450 L326.5,450.5 Q330,456.5 326.5,462.5 L324.5,463 V466.5 M326.5,448.5 H338 Q345.5,449.5 349.5,456.5 Q345.5,463.5 338,464.5 H326.5 Q334.5,456.5 326.5,448.5" fill="none" stroke="#00ff00" stroke-width="1.2"/>
<path d="M250.5,601.5 H265 A5.5,7.75 0 0 1 265,617 H250.5 Z" fill="#ffa500" stroke="#00ff00" stroke-width="1.2"/>
<path d="M250.5,625.75 L259.5,630.5 L250.5,635.25 Z" fill="#ffa500" stroke="#00ff00" stroke-width="1.2"/>
<circle cx="263.5" cy="630.5" r="2.7" fill="none" stroke="#00ffff" stroke-width="1.1"/>
<path d="M296.5,627.5 H311 A5.5,7.75 0 0 1 311,643 H296.5 Z" fill="#ffa500" stroke="#00ff00" stroke-width="1.2"/>
<path d="M340.5,622.5 H354.5 Q360.5,624 363,630 Q360.5,636 354.5,637.5 H340.5 Q348.5,630 340.5,622.5 Z" fill="#ffa500" stroke="#00ff00" stroke-width="1.2"/>
<path d="M255.5,645.75 L264.5,650.5 L255.5,655.25 Z" fill="none" stroke="#00ff00" stroke-width="1.2"/>
<circle cx="268.5" cy="650.5" r="2.7" fill="none" stroke="#00ffff" stroke-width="1.1"/>
<path d="M489.5,622.5 H504 A5.5,7.75 0 0 1 504,638 H489.5 Z" fill="#ff0000" stroke="#00ff00" stroke-width="1.2"/>
<path d="M454.5,630.75 L463.5,635.5 L454.5,640.25 Z" fill="#ff0000" stroke="#00ff00" stroke-width="1.2"/>
<circle cx="467" cy="635.5" r="2.7" fill="none" stroke="#00ffff" stroke-width="1.1"/>
<circle cx="122.5" cy="310.1" r="2" fill="none" stroke="#00ffff" stroke-width="1.1"/>
<circle cx="122.5" cy="760.1" r="2" fill="none" stroke="#00ffff" stroke-width="1.1"/>
</g>
<g class="fm">
<text x="299.6" y="95.5" text-anchor="middle">FMAP</text>
<text x="299.6" y="402" text-anchor="middle">FMAP</text>
<text x="299.6" y="565.5" text-anchor="middle">FMAP</text>
</g>
<g class="leg" shape-rendering="crispEdges">
<rect x="661" y="762" width="186" height="142" fill="none" stroke="#fff" stroke-width="2"/>
<rect x="664" y="765" width="180" height="64" fill="none" stroke="#fff" stroke-width="2"/>
<rect x="669" y="785" width="27" height="10" fill="#ff0000"/>
<rect x="669" y="807" width="27" height="10" fill="#ffa500"/>
<rect x="668" y="845.5" width="10" height="1" fill="#87cefa"/><rect x="683" y="845.5" width="10" height="1" fill="#87cefa"/>
<text x="713.5" y="752" fill="#87cefa" textLength="46.7" lengthAdjust="spacingAndGlyphs">Legend</text>
<text x="689.7" y="777.5" fill="#87cefa" textLength="112.1" lengthAdjust="spacingAndGlyphs">Logic present for:</text>
<text x="710" y="795" fill="#ff0000" textLength="116.7" lengthAdjust="spacingAndGlyphs">Synch. Reset only</text>
<text x="710" y="816.5" fill="#ffa500" textLength="91.8" lengthAdjust="spacingAndGlyphs">Loadable only</text>
<text x="710" y="848.5" fill="#87cefa" textLength="134.3" lengthAdjust="spacingAndGlyphs">CLB boundary (Logic</text>
<text x="710" y="864.5" fill="#87cefa" textLength="121" lengthAdjust="spacingAndGlyphs">in box forced into 1</text>
<text x="710" y="880.5" fill="#87cefa" textLength="25.2" lengthAdjust="spacingAndGlyphs">CLB</text>
</g>
</svg>
</body></html>
